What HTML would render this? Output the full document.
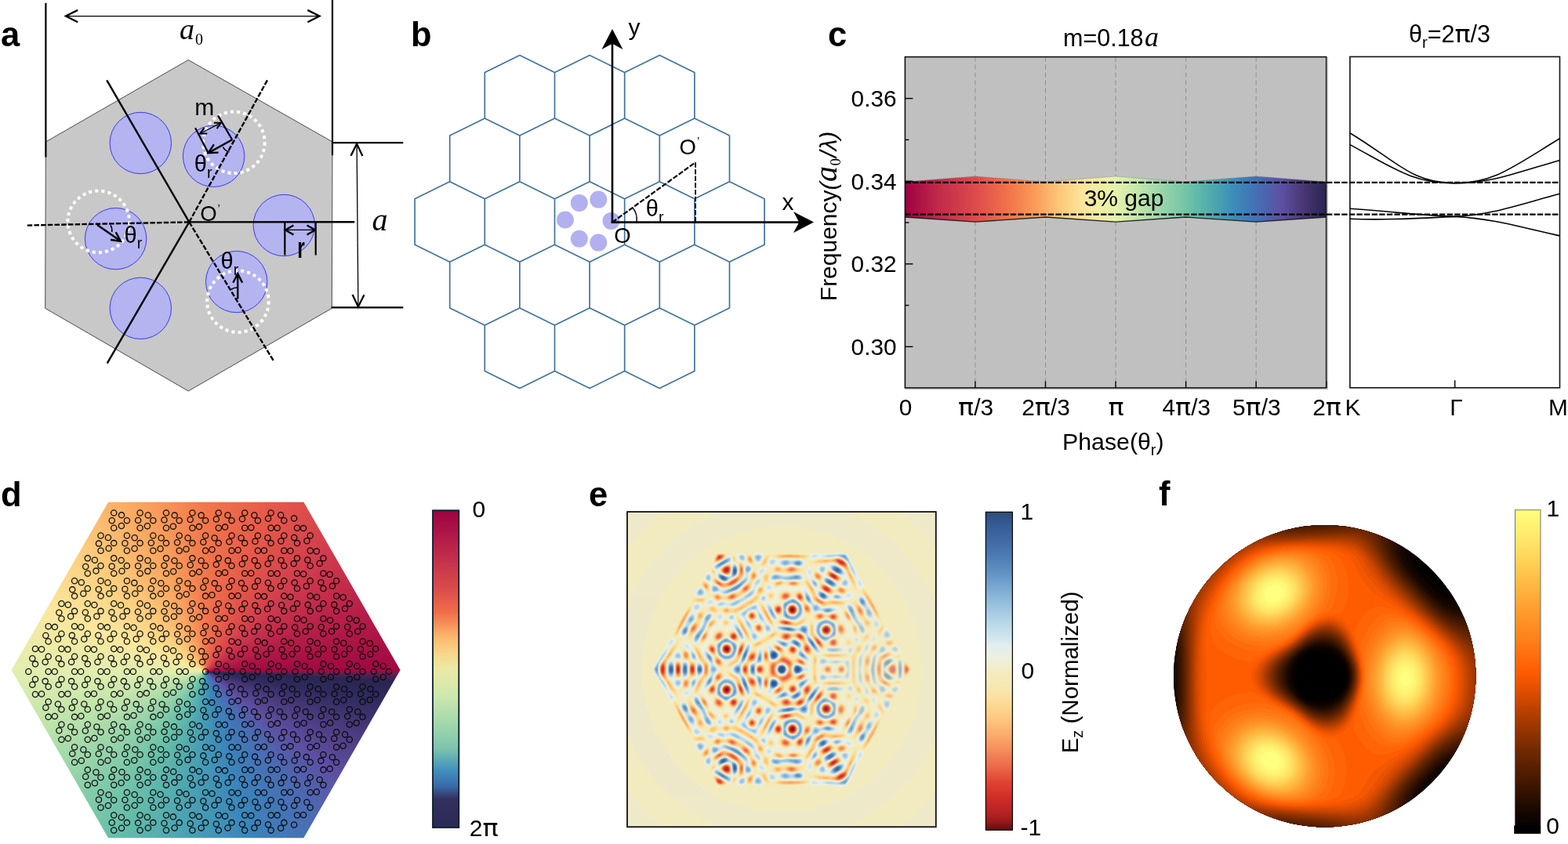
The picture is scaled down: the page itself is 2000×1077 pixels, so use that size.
<!DOCTYPE html>
<html lang="en"><head><meta charset="utf-8"><title>Figure</title>
<style>
html,body{margin:0;padding:0;background:#fff}
#fig{position:relative;width:2000px;height:1077px;overflow:hidden;background:#fff;font-family:"Liberation Sans", Arial, sans-serif}
#fig svg{position:absolute;left:0;top:0}
svg text{font-family:"Liberation Sans", Arial, sans-serif;fill:#000}

</style></head><body>
<div id="fig">
<div style="position:absolute;left:10px;top:636px;width:506px;height:438px;background:conic-gradient(from 90deg at 252.1px 221px, #7a1a4c 0deg, #2a2652 2.88deg, #2e2a5c 9deg, #4a3a7c 21.6deg, #5e4fa2 37.8deg, #4a6cb4 54deg, #3a86bb 75.6deg, #4aa2b3 97.2deg, #66bea9 118.8deg, #92d2a9 140.4deg, #bfe4ab 162deg, #e2eeb0 180deg, #fbe79d 201.6deg, #fdcc7c 225deg, #fba55f 248.4deg, #f2764b 270deg, #e6594a 291.6deg, #d13c4d 315deg, #b81f48 338.4deg, #a00843 360deg, #7a1a4c 360deg);clip-path:polygon(128.1px 4.7px, 377.4px 4.7px, 500.6px 219px, 377.4px 433.3px, 128.1px 433.3px, 4.6px 219px)"></div>

<svg width="2000" height="1077" viewBox="0 0 2000 1077">
<defs><linearGradient id="gband" x1="0" y1="0" x2="1" y2="0"><stop offset="0" stop-color="#9e0142"/><stop offset="0.08" stop-color="#c12a49"/><stop offset="0.165" stop-color="#dc4a4b"/><stop offset="0.24" stop-color="#f0704a"/><stop offset="0.3" stop-color="#f99555"/><stop offset="0.365" stop-color="#fdc678"/><stop offset="0.42" stop-color="#fde59a"/><stop offset="0.5" stop-color="#e4f3ac"/><stop offset="0.555" stop-color="#c0e6ab"/><stop offset="0.66" stop-color="#76c6a7"/><stop offset="0.715" stop-color="#55b0aa"/><stop offset="0.78" stop-color="#3b8dba"/><stop offset="0.83" stop-color="#4272b6"/><stop offset="0.895" stop-color="#5e4fa2"/><stop offset="0.95" stop-color="#46356f"/><stop offset="1" stop-color="#2a2350"/></linearGradient><linearGradient id="gcbd" x1="0" y1="0" x2="0" y2="1"><stop offset="0" stop-color="#9e0142"/><stop offset="0.15" stop-color="#c22e4c"/><stop offset="0.25" stop-color="#db4d4b"/><stop offset="0.32" stop-color="#ef6d4a"/><stop offset="0.4" stop-color="#fbb86c"/><stop offset="0.45" stop-color="#f8d68a"/><stop offset="0.5" stop-color="#ebe9a6"/><stop offset="0.58" stop-color="#cfe8ae"/><stop offset="0.68" stop-color="#9fd6ab"/><stop offset="0.75" stop-color="#7cc4ad"/><stop offset="0.82" stop-color="#3f90be"/><stop offset="0.87" stop-color="#3a6aa8"/><stop offset="0.91" stop-color="#33305f"/><stop offset="1" stop-color="#2b2a55"/></linearGradient><clipPath id="clipw"><path d="M-1.8,1 L190,1 L190,-30 L125,-164.54 L94.13,-165.04 Z" shape-rendering="crispEdges"/></clipPath><g id="ew" clip-path="url(#clipw)"><g opacity="0.999" fill-rule="evenodd"><path d="M99,-99l-1,-0.9 -1,-1.9 -2.3,-8.2 -6.8,-11 -3.6,-9 -2.4,-3 -2.9,-2.4 -5,-2.1 -4,-0.5 -9,1.3 -14,-0.2 -7,2 -3,0 -1.1,-1.1 0.2,-5 0.9,-1 1,-0.4 3,-0.5 3,0 6,0.9 8,-0.7 15,-0.8 6,0 3,0.6 2,1.9 2.6,4 7.8,15 3.6,7.8 3.4,4.2 2.3,4 0.7,2 -0.2,2 -4.2,2.8 -1,0.2zM25,-125.9l-4,0 -7,-1.8 -2,-0.1 -8,1.9 -3,-0.4 -4,-2.1 0,-6.5 8,-1 8,0.6 9,-0.3 4.1,0.6 2.4,1 0.9,1 0.3,3 -0.7,2 -1,0.9 -3,1.2zM69,-99.9l-2,0.5 -2,-0.6 -11.8,-7 -0.8,-1 -0.3,-2 1.3,-5 -0.4,-1 -4.2,-3 -3.1,-3 -1.1,-2 0,-1 1,-2 1.6,-1 2.8,-0.8 3,-0.2 5,0.5 4.7,-1.5 3.3,0 3,1 5,2.8 3.6,2.2 2.1,2 1.3,2.1 1.5,5.9 2.5,3.4 1.8,3.6 0.5,3 -0.6,2 -1.7,1.3 -2,0.1 -4,-1.1 -5,-2.2 -1,0.1 -4,3.9zM57,-84.9l-3,-0.1 -3,-1 -3,-1.9 -2,-2.2 -1,-1.9 -1.3,-6 -4.7,-5.4 -6.4,-10.6 -1.1,-7 0.5,-2.5 1.1,-1.5 0.9,-0.5 2,-0.1 2,0.9 1,1.1 0.6,2.6 -0.6,5 0.2,2 1.4,2 5.7,5 0.7,2 0.1,6 1,1 5.9,3.1 7,4.4 2,0 4,-2.6 2,-0.5 2,0.3 5,2 3,0.4 2,-0.9 4,-3 2,-0.8 2,0.4 1,0.6 1,1 0.7,1.6 -0.4,2 -1.3,1.5 -2,1.3 -5,1.9 -12,-0.1 -8,-1.4 -6,1.9zM74,-106l3.5,-5 0.3,-2 -1,-1 -7.6,-4 -9.2,-5.7 -1,-0.1 -1,0.4 -2.6,4.4 -0.7,2 0,1 17.3,10.3 1,0.3 1,-0.6zM26,-108.5l-11,-0.8 -9,0.8 -5,-1.1 -4,-0.1 0,-8.1 9,1.5 4,-0.2 9,-1.4 4,0.2 3.5,1.7 1.7,2 0.1,1 -0.4,2 -0.9,1.7 -1,0.8zM89,-18.9l-2,0.5 -6,-2.9 -11,1 -10,-0.2 -3,-0.6 -1.5,-0.9 -0.4,-1 0.9,-3.7 1,-1.9 1,0 4,1.3 4,0.3 5,-0.7 3,-1.3 1,-1 0.3,-1 -1,-7 0.7,-0.5 6,-1.1 1.7,-2.4 1.1,-4 0,-3 -0.3,-2 -1.3,-3 -1.4,-2 -1.8,-1.6 -3.8,-2.4 -0.4,-1 0,-6 -1.1,-2 -2.7,-1.6 -2,-0.2 -3,0.3 -8,2.1 -2,-0.2 -5,-1.9 -2,-0.3 -2,0.2 -5,1.5 -2,-0.2 -1,-1.3 -1.4,-5.4 -0.9,-2 -4.7,-4.2 -1.5,-1.8 -3.1,-10 -1.4,-2.4 -1,-0.9 -2,-1 -2,-0.1 -2,0.7 -4,2.6 -1,-0.1 -5,-2.6 -4,-0.4 -4,0.9 -4,2.5 0,-5.9 6,-1.9 9,1.8 7,0.1 3,-0.5 5,-1.9 1,0 2,1.5 5,7 3.7,8.6 1.3,2.4 1,1 5,2.5 4,2.8 2,0.8 2,0.1 8,-1.1 3,-0.1 7,0.6 3.1,1 0.9,1.8 0.6,4.2 0.6,2 1.5,3 4,6 4,4 0.7,1 0.6,1.8 1.3,7.2 1.2,3 1.5,1 1,0.2 5,-0.1 1,0.5 0.9,2.4 0.2,3 -1,2 -3.1,1.9 -3,1 -1,-0.3 -2.1,-6.6 -0.9,-1.5 -0.8,-0.5 -2.2,-0.6 -3,0.3 -1,0.4 -1,1.2 -1.4,3.7 -0.3,3 0.5,2 0.8,1 1.4,0.9 1,0 7,-2 1.1,0.1 0.6,1 0.1,3 -0.5,3 -1.2,2 -1.1,1.1zM120,-48.7l-1,0.5 -1,-0.1 -1,-1.3 -1,-2.6 -0.5,-5.8 -0.7,-2 -4.8,-3.1 -2.1,-1.9 -1.1,-2 -1.5,-6 -1,-2 -5.6,-6 -1.9,-3 -0.7,-3 0.2,-2 0.7,-1.1 2,-1.4 2,-0.4 1,0.3 3,2.7 2,2.9 3.6,7 4.4,6.5 4,9 1.4,1.5 2.7,2 1.9,2.2 0.5,1.8 -0.5,2.3 -2,2.7 -3,2.3zM19,-59.8l-3,0.3 -4,-0.5 -7.3,-2 -5.3,-2 -0.1,-1 1.1,-3 0.6,-4 -0.2,-4 -1,-5 0.3,-1 13.9,-6.6 1,0 1,0.5 8.1,6.1 1.8,2 0.6,2 1.6,10 -0.1,2 -0.8,1 -2.5,2 -3.1,2 -2.6,1.2zM105,-42.9l-3,0.8 -1,-0.2 -1.1,-0.7 -0.9,-1.7 -2.4,-7.3 -1.1,-2 -4.5,-5.3 -3.5,-7.7 -6.2,-9 -0.3,-1 0.1,-1 1.4,-2 1.5,-1.2 1,-0.3 2,0.5 2,1.1 2.1,1.9 1.9,3.4 2.5,6.6 1.9,4 1.6,2.5 4,4.4 3.9,6.1 0.8,2 0.2,2 -0.9,2 -2,2.1zM17,-67l2,-1.6 1.4,-2.4 0.3,-3 -1,-3 -1.7,-2 -3,-1.5 -3,0 -2,0.7 -2.1,1.8 -1.5,3 -0.1,3 0.9,2 1.6,2 2.2,1.4 3,0.4 3,-0.8zM56,-31.4l-2,-1.3 -4,-3.7 -6.1,-6.6 -1.5,-3 -0.4,-4 0.7,-6 0.3,-1 1.1,-1 9.9,-3.8 3,-0.6 2,0.6 9.1,3.8 1.3,1 0.4,1 0.3,7 0.9,7 -0.1,1 -0.9,0.8 -5,1.7 -4,2.3 -2.7,2.2 -2.3,2.6zM49,-18.7l-1,0.3 -2,-0.2 -3,-1.5 -2,-1.7 -3.7,-6.2 -4.7,-6 -1,-2 -1.1,-4 -1.2,-2 -1.3,-1.2 -4,-2.4 -3,-0.9 -7,1.3 -8,-1.1 -7,-0.1 -2,-0.3 0,-7.9 22,3 2,-0.6 4,-2.5 3,-1.3 3,-0.6 1.8,0.6 1.2,2 0.7,3 0,7 0.7,2 4.6,5.7 7,9.6 4.4,4.7 0.2,1 -0.6,1 -2,1.3zM60.4,-42l2.2,-2 1.1,-2 0.4,-3 -1,-3 -2.1,-2.3 -2,-1 -3,-0.3 -3,1 -2,1.8 -1.4,2.8 0,3 0.8,2 1.6,2 3,1.6 3,0.2 2.4,-0.8zM135,-36.9l-4,0.4 -2,-0.3 -1.6,-1.2 -0.4,-1 0.2,-2 0.7,-2 2,-4 2.1,-2.4 2,-1.1 2,0.9 2.3,2.6 2.1,4 0.5,2 -0.3,2 -0.6,0.4 -0.9,0.6 -4.1,1.1zM103,3l-7.4,0 0.2,-12 0.9,-6 1.4,-3 3.3,-3 1.5,-2 1.6,-6 1,-2 2.5,-2 3,-1 1,-0.7 1.3,-2.3 2.1,-7 1.6,-1.9 1,-0.4 1,1.1 2.6,6.2 0.5,2 -0.2,1 -0.5,1 -1.2,1 -5.2,2 -1.5,1 -1.1,2 -1.1,5 -0.9,2 -1.4,1.7 -2.7,2.3 -1.2,2 -0.8,2 -0.7,4 -0.6,13zM36,3l-16,0.3 -5.7,-0.3 -0.5,-2 0.2,-3 1.1,-3 0.9,-1.2 1,-0.7 2,0 2,0.6 6,2.8 2,0.5 2,-0.5 3,-1.5 0.8,-1 -1.4,-2 -2.2,-2 -4.2,-2.6 -6.7,-3.4 -0.9,-1 0.1,-2 1.4,-5 -0.1,-1 -1.5,-2 -4.3,-2.7 -2,-0.8 -2,0 -1,0.6 -4,4.2 -1,0.4 -1,-0.2 -7,-4.4 0,-7.4 5,1.9 3,0.8 3,0.3 1,-0.3 4,-3 1,-0.4 2,-0.1 4,1.8 4.9,3.3 1.1,2 0.1,2 -0.6,4 0.9,2 4.6,4.8 2,1.6 4,2.5 0.6,1.1 0.2,2 -0.5,3 -1.9,3 0.9,4 -0.3,4zM119,3.1l-6.8,-0.1 -0.5,-3 0.2,-2 1.7,-6 1.5,-9 1.9,-2.7 4,-1.9 1,-1.1 3,-6.5 2,-1.5 2,0.1 7,4.3 1,0 7,-3.5 2,-0.2 2,1.1 1.5,1.9 1.3,3 0,3 -0.3,1 -0.5,0.3 -4,0.5 -2,-0.1 -2,-1.1 -4,-3.1 -2,-0.3 -5.9,3.8 -5.1,2.4 -1.9,1.6 -1.2,2 -0.7,2 -1.5,8 -0.1,7 -0.6,0.1zM-3,-16l0,-3.2 0.5,1.2 -0.5,2zM87,3l-5.5,0 0.7,-3 -0.7,-3 -2.5,-3.1 -2,-0.6 -5,0.9 -1.8,0.8 -0.9,1 0.3,4 -0.3,3 -3.7,0 -0.3,-3 0.3,-4 -0.8,-1 -3.8,-1.6 -2,-0.1 -4,1.2 -4.5,2.5 -0.6,1 -0.5,2 0.5,2 0.6,1 -3.7,0 -0.5,-12 0.7,-4.6 1,-0.9 2,-0.4 3,0.2 8,1.9 9,-0.2 8,0.4 5,-1.4 2,-0.1 1,0.3 1,1.4 0.5,3.4 0.1,12 -0.6,0zM154,3l-6.6,0 -0.2,-8 -1.2,-3.5 -1,-0.7 -2,0.4 -3,1.5 -5.3,4.3 -1.2,2 -0.1,1 0.1,1 1.2,2 -6.4,0 0.3,-3 -0.5,-5 0.9,-3.9 1,-1.5 2,-1.8 4,-2 3,-0.8 2,0.1 4,2.6 1,0.2 5,-1.3 2,-0.1 1,0.4 0.9,1.1 0.1,1 -0.7,8 0,6 -0.3,0zM6,3l-6,0.3 -3.2,-0.3 0.2,-9.2 2,-0.6 2,0.1 2,0.6 2,1.5 1.2,1.6 0.6,2 0,2 -0.8,2z" fill="#eef0de"/><path d="M100,-100.7l-1,0 -1,-0.9 -1,-2.4 -1.4,-6 -6.6,-9.7 -2,-4 -2.4,-6.3 -2.4,-3 -3.2,-2.6 -4,-1.9 -5,-0.8 -10,1.4 -4.5,-0.1 -7.5,-0.8 -6.4,1.8 -2.6,0.3 -1.1,-0.3 -0.6,-1 -0.2,-3 0.9,-1.2 3,-0.8 3,0.1 5,1.1 11,-1.3 13,-0.7 6,0.1 3,0.6 2.6,3.1 1.8,3 7.2,14 3.8,9 3.6,4.1 1.7,2.9 0.6,2 -0.1,1 -0.7,1 -2.5,1.3zM26,-126.8l-2,0.5 -3,0.1 -9,-2 -7,1.7 -3,0.1 -2,-0.8 -3,-1.8 0,-5.1 2.8,-0.9 5.2,-0.5 8,0.7 8,-0.5 4,0.5 2,0.8 1,0.9 0.8,2.1 -0.4,2 -0.7,1 -1.7,1.2zM84,-101.6l-2,0.3 -3,-0.8 -3.6,-1.9 -0.6,-1 0.8,-2 4.1,-6 -0.9,-1 -5.8,-2.2 -5,-2.7 -4.8,-3.1 -4.2,-3.6 -1,0.1 -4,7.9 -1,0.4 -1,-0.3 -3.8,-2.5 -1.7,-2 -0.6,-2 0.6,-2 0.9,-1 1.6,-0.9 3,-0.5 3,0.5 3,1.6 1.8,-1.7 1.6,-1 3.6,-0.7 4,1 6.6,3.7 2.7,2 1.6,2 0.8,2 0.3,2 -0.7,3 3.7,3.1 1.8,2.9 0.5,2 -0.1,2 -1.2,1.8 -1,0.6zM76,-86l-4,0.3 -3,-0.2 -6,-2 -1,0.1 -2.8,1.8 -1.2,0.4 -3,0.5 -3.5,-0.9 -3.3,-2 -1.8,-2 -1,-2 -0.5,-2 0,-4 -4.9,-4.6 -1.7,-2.4 -1.5,-3 -4.1,-11 -0.1,-2 0.6,-2 0.8,-0.7 2,-0.3 1,0.4 1.4,1.6 0.4,2 -0.6,6 1.6,2 5.1,4 1.4,2 0.3,3 -0.7,4 0.6,1 8.5,3.9 7,5 1,-0.2 3,-2.7 3,-1.1 2,0.2 6,2.4 2,0.4 1,-0.1 4,-3.1 2,-0.9 2.2,0.2 1.4,1 0.5,1 -0.3,2 -0.9,1 -1.9,1.1 -11,1.9zM9,-109l-3,0.2 -5,-1.1 -4,0 0,-7.5 5,1.3 4,0.3 4,-0.3 8,-1.4 4,0.1 2,0.6 2,1.2 1.3,1.6 0.3,1 -0.6,2.4 -1,1.1 -1,0.4 -10,-0.4 -6,0.5zM67,-99.9l-2,-0.5 -2,-1 -9.2,-5.6 -0.9,-1 -0.3,-2 0.4,-2.1 1,-2 1,-0.5 1,0.2 3,1.4 8.8,5 3.9,3 0.2,1 -1.3,2 -1.6,1.5 -2,0.6zM-2,-97.8l-1,0.6 0,-1.8 5,-1.9 1.4,-0.1 1.7,1 -3.1,0.7 -4,1.5zM59,-68.8l-3,-0.1 -5,-1.9 -2,-0.4 -7,1.5 -1,-0.1 -1,-0.6 -1,-1.8 -1.8,-5.8 -1.2,-1.4 -4.4,-3.6 -1.3,-2 -2.8,-10 -1.7,-4 0.3,-1 1.9,-0.3 1,0.4 2,1.5 2,2.2 2.8,4.2 3.2,7.6 1,1.6 1,0.9 5,2.2 4,3 1,0.5 2,0.2 9,-1 4,0.2 3.9,0.8 2.1,0.9 1.2,1.1 0.3,1 -0.5,1.1 -5,0.6 -9,2.5zM15,-97l-1.1,0 -3.5,-2 1.6,-0.6 2,-0.1 3.2,0.7 -0.5,1 -1.7,1zM122,-50.9l-2,0.9 -1,-0.1 -1.2,-0.9 -0.8,-1.2 -0.5,-1.8 -0.5,-6.2 -0.7,-0.8 -4.3,-2 -2.5,-2 -1.5,-2.6 -1.3,-5.4 -0.9,-2 -6.4,-7 -1.1,-2 -0.5,-3 0.6,-2 1.6,-1.4 2,-0.5 1,0.2 3,2.5 2,2.9 3,6.3 5,7.1 1.8,3.9 1.2,5 0.7,1 3.3,1.8 2.2,2.2 0.7,2 0,1 -0.9,2 -2,2.1zM17,-59.9l-4,-0.2 -7.5,-1.9 -4.4,-2 -0.6,-1 0.7,-8 -0.6,-8 0.7,-1 1.6,-1 11.1,-5 2,0.4 8.7,6.6 1.5,3 1.1,7 0,3 -0.8,2 -0.7,1 -2.2,2 -2.6,1.8 -2,0.9 -2,0.4zM14.4,-66l2.6,-0.7 2.6,-2.3 1.2,-3 0,-3 -0.8,-2 -2,-2.3 -3,-1.4 -3,0 -3,1.3 -1.4,1.4 -1.5,3 0,3 1.4,3 1.5,1.5 2,1.1 3.4,0.4zM104,-43l-2,0.1 -1,-0.4 -1,-0.9 -4.1,-9.8 -4.9,-6 -3.3,-7 -5.1,-8 -0.8,-2 0.2,-1 0.5,-1 1.5,-1.3 1,-0.4 2,0.3 2,1.1 2,1.9 1.9,3.4 3,8 2,4 1.5,2 3.6,3.6 2.9,4.4 1.2,3 0.1,2 -1.2,2.6 -2,1.4zM80,-58.8l-2.3,-1.2 -1,-1 -0.2,-2 0.5,-1.4 1,0.5 2,2.9 0.9,2 -0.9,0.2zM56,-32.9l-1,0 -2,-1.2 -7.2,-6.9 -2.6,-4 -0.7,-4 0.7,-5 1.4,-3 1.1,-1 4.2,-2 5.1,-1.8 2,-0.2 2,0.5 8.3,3.5 1.4,1 0.8,2 1,12 -0.6,2 -6.9,3.2 -7,4.9zM49,-19.6l-1,0.5 -2,-0.1 -2,-0.9 -2.4,-1.9 -8.7,-12 -1,-2 -1.5,-5 -2.4,-2.5 -4,-2.3 -3,-1 -6,1.2 -2,0.1 -7,-1 -7,-0.4 -2,-0.5 0,-6.8 14,1.6 8,1.4 2,-0.5 3.5,-2.3 3.5,-1.5 2,-0.2 2,0.7 1.7,2 0.6,2 0.1,8 1.2,2 4.4,5 9.6,13 0.7,2 -1.3,1.4zM57.1,-41l2.9,-0.5 2,-1.5 1.9,-3 0.4,-3 -0.9,-3 -1.7,-2 -2.7,-1.5 -3,-0.3 -3,1 -2.1,1.8 -1.1,2 -0.5,3 0.9,3 1.5,2 2.3,1.5 3.1,0.5zM87,-42.9l-1,0 -0.3,-1.1 -0.1,-5 -1.2,-5 0.6,-0.2 1,1.2 1,3.8 0.3,4.2 -0.3,2.1zM132,-37l-2,-0.4 -1,-0.6 -1,-2 0.1,-2 1.1,-3 1.8,-2.6 2,-1.6 1,-0.2 2,1.1 2.6,3.3 1.2,3 0.1,2 -0.5,1 -1.6,1 -2.8,0.7 -3,0.3zM102,3l-5.8,0 0.1,-12 1,-6 1.5,-3 4.2,-4 0.9,-2 1.4,-5 0.7,-1.4 2,-1.8 4,-1 0.8,-0.8 2.8,-8 1.4,-1.6 1,-0.1 1,0.8 1.4,2.9 0.5,2 -0.2,2 -0.7,1 -1.4,1 -4.6,1.4 -1,0.7 -0.8,1.9 -1.2,5.4 -1,2.4 -3.7,3.2 -1.4,2 -1,3 -0.6,4 -0.7,9 0.1,4 -0.7,0zM96,-32l-1,0.2 -1.5,-0.2 -1.5,-1.9 -1,-4.1 0.4,-1 0.6,-0.5 2,-0.5 3,-0.1 1,0.5 1,1.4 0.4,2.2 -0.4,1.5 -1.1,1.5 -1.9,1zM35,-8.7l-2,-0.7 -10.1,-5.6 -2.7,-2 -0.3,-2 1.5,-5 -0.1,-1 -0.6,-1 -1.7,-1.5 -5,-2.9 -3,-0.5 -1,0.4 -4,4.1 -1,0.4 -2,-0.5 -6,-3.7 0,-6.6 7,2.2 4,0.6 2,-0.8 3,-2.4 1,-0.4 2,-0.2 3,1.2 4.3,2.6 1.2,1 1.1,2 0.1,2 -0.7,4 0.3,1 3.5,4 7.5,7 0.4,1 -0.2,2 -0.5,0.9 -1,0.4zM119,3.1l-6.5,-0.1 -0.2,-1 0,-4 1.5,-6 1.4,-8 0.8,-1.8 1,-1.3 1,-0.7 3,-1.1 1,-0.8 2.3,-5.3 1.7,-2.5 1,-0.5 2,0 3.4,2 2.3,2 0.5,1 -0.4,1 -2,2 -3.2,2 -5.6,2.6 -2,2.3 -1.1,3.1 -1.1,6 -0.4,4 0,5 -0.4,0.1zM147,-20l-3,0 -2,-1.1 -3.6,-2.9 -0.6,-1 0.4,-1 2.7,-2 3.1,-1.3 2,0.1 1,0.5 2.1,2.7 0.7,3 -0.6,2 -2.2,1zM87,-19l-2.2,-1 -2.8,-2.9 -1,-0.1 -4,1.5 -4,0.7 -8,0.3 -5.9,-0.5 -2.3,-1 -0.8,-1 0,-2 1,-2 1,-0.6 8,0.9 10,-1.7 2,0.6 3,2.3 1,0.4 4,-2.3 3,-0.6 1,0.3 1,1.6 0,3.1 -0.7,2 -0.8,1 -1.5,1 -1,0zM-3,-16.9l0,-1.3 0,1.3zM87,3l-5.2,0 0.7,-3 -0.7,-3 -1.2,-2 -1.6,-1.8 -2,-0.4 -4,0.7 -4.4,1.5 -0.5,1 0.9,1.8 0.2,1.2 -0.2,3.2 -0.4,0.8 -2.2,0 -0.7,-3 0.3,-2.4 0.9,-1.6 -0.4,-1 -4.5,-1.8 -3,-0.5 -7,2.4 -3,0.3 -1,-0.7 -1,-2.6 0.2,-4.1 0.8,-1.4 1,-0.6 2,-0.4 3.5,0.4 4.5,1.8 2,0.3 9,-0.6 8,0.8 5,-1.5 2,0.1 1.2,1.1 0.8,2.4 0.3,9.6 -0.3,3zM134,3l-5.4,0 0.2,-3 -0.4,-5 0.5,-3 2,-3 3.1,-2.1 4,-1.4 3,0.2 2.2,1.3 1.8,2 -0.6,1 -4.4,2.4 -5.6,4.6 -1.2,2 -0.1,1 0.1,1 1.2,2 -0.4,0zM154,3l-6.4,0 0,-7 -0.6,-3.3 -0.9,-2.7 0.2,-1 4.2,-2 2.5,0.1 1,0.9 0.3,1 -0.3,14zM5,3.1l-6,0.2 -2.2,-0.3 0.2,-9 2,-0.5 2,0 2,0.6 2,1.6 1.3,2.3 0.4,2 -0.8,3 -0.9,0.1zM33,3l-4,-0.6 -1.5,0.6 -4.5,0.2 -8.5,-0.2 -0.5,-2 0.2,-3 0.8,-2.2 1,-1.5 1,-0.7 1,-0.3 3,0.6 8,3.7 4,-0.8 1,0.4 0.6,0.8 0.4,2 -0.4,2 -0.6,0.8 -1,0.2z" fill="#e3eeed"/><path d="M95,-113.8l-1,-0.3 -1,-0.8 -3,-3.9 -2,-3.6 -2.4,-6.6 -1.2,-2 -2.9,-3 -3.5,-2.4 -3,-1.3 -4,-0.9 -2,0 -6,1.1 -4,0.1 -6,-0.6 -1.9,-1 1,-1 0.9,-0.2 7,-1.2 16,-0.9 3,0.1 3,0.8 3.2,4.4 7.1,14 2.7,7 0,2.2zM41,-136.9l-1.4,-0.1 -1.1,-1 -0.3,-1 0.3,-1 0.5,-0.4 1.3,-0.6 1.7,-0.2 2,0.3 2.1,0.9 0.1,1 -1.7,1 -3.5,1.1zM24,-126.8l-4,0.1 -8,-2.1 -7,1.9 -3,-0.1 -2.4,-1 -2.3,-2 -0.3,-2.3 0.4,-0.7 1.6,-1 4,-1 4.8,0 5.2,0.9 6,-0.8 4,0.2 2.5,0.7 1.4,1 0.9,2 0,1 -0.8,1.5 -1,0.9 -2,0.8zM79,-115.8l-2,0.4 -3,-0.7 -7.5,-3.9 -2.8,-2 -2,-2 -1,-2 0.2,-1 0.8,-1 1.3,-0.7 3,-0.4 4,1.3 5,2.8 2.6,2 2.1,3 0.3,2.5 -1,1.7zM54,-119l-1,0.7 -2,-0.4 -2,-1.3 -1.6,-2 -0.4,-2 0.3,-1 1.7,-1.8 2,-0.7 2,0 1.5,0.5 1.2,1 0.5,1 -0.1,2 -2.1,4zM37,-116.5l-1,0.3 -1,-0.8 -1,-1.9 -0.1,-2.1 1.1,-1.3 1,0 1,0.6 0.5,0.7 0.4,2 -0.9,2.5zM25,-110l-2,0.4 -9,-0.2 -7,0.5 -7,-1.1 -3,0.1 0,-6.6 4,1.4 4,0.3 5,-0.4 8,-1.4 4,0.1 2.4,0.9 2.1,2 0.2,2 -0.7,1.4 -1,0.6zM68,-100.6l-2,0.1 -2,-0.7 -6.8,-3.8 -2.8,-2 -0.8,-1 -0.5,-2 0.9,-2.7 1,-0.9 1,-0.1 2,0.6 6.1,3.1 5.8,4 0.8,1 0.2,1 -0.3,1 -1.6,1.8 -1,0.6zM45,-100.5l-1,0.3 -2,-1 -2,-2 -1.3,-1.8 -0.9,-2 -0.8,-3 0.2,-1 0.8,-0.6 2,0.6 2,1.2 3.1,2.8 0.6,1 0.4,2 -0.2,2 -0.9,1.5zM84,-102.8l-2,0.7 -2,-0.2 -2,-0.7 -1.4,-1 -0.6,-1 -0.1,-1 1.1,-2.2 2,-2.3 1,-0.6 1,-0.2 2,0.8 1.9,2.5 0.4,3 -1.3,2.2zM101,-102.5l-1,0.2 -1,-0.3 -1,-1.5 -0.7,-3.9 0,-1 0.7,-1 2,1.4 1.7,2.6 0.5,2 -0.5,1 -0.7,0.5zM62,-69.9l-3,0.7 -2,0.1 -3,-0.9 -3,-1.4 -2,-0.4 -6,1.3 -1,0 -1.4,-0.5 -1.2,-2 -1.1,-4 -1,-2 -5.1,-4 -1.5,-2 -1,-3 -1,-5 -0.2,-2 0.5,-1.5 1,-0.2 1,0.4 3,2.8 2,3.3 3,7 1,1.5 6,2.5 4,3.4 2,0.5 8,-1 3,0 4,0.9 1.9,1.4 0.1,1 -1.2,1 -5.8,2.1zM57,-85.7l-2,0.2 -2.7,-0.5 -2.3,-1 -2,-1.6 -1.2,-1.4 -1,-2 -0.3,-2 0.5,-2.2 1,-0.5 1,0 3,0.8 3.8,1.9 4,3 1.6,2 0,1 -0.7,1 -2.7,1.3zM86,-88.9l-2.9,-0.1 -0.7,-1 0.4,-1 1.2,-1.2 2,-0.8 1,0.1 1.2,0.9 0.2,1 -0.5,1 -1.9,1.1zM76,-86.8l-3,0.7 -4,-0.2 -3,-1.1 -1,-0.6 -0.5,-1 0.3,-1 0.8,-1 1.4,-1 2,-0.6 2,0.2 3.6,1.4 3,2 0.2,1 -1.8,1.2zM115,-62.7l-2,-0.2 -2,-0.8 -1.8,-1.3 -1.2,-1.6 -2.6,-8.4 -5.4,-5.4 -2.1,-3.6 -0.3,-3 0.4,-1.2 1,-1.1 2,-0.6 2,0.6 2,1.8 1.7,2.5 2.5,6 4.8,6.2 1.9,3.8 0.7,4 -0.6,1.7 -1,0.6zM19,-60.9l-4,0.7 -6,-1.1 -6,-2.3 -1.5,-1.4 -0.3,-1 0.3,-7 -0.5,-6 0.3,-2 0.9,-1 1.6,-1 8.2,-3.9 2,-0.6 1,0.1 2,0.9 6.1,4.5 1.9,2 1.1,3 0.7,6 -0.3,3 -1,2 -1.8,2 -2.5,2 -2.2,1.1zM15.8,-66l1.2,-0.4 2,-1.5 1.5,-2.1 0.7,-3 -0.5,-3 -1.7,-2.8 -2,-1.4 -3,-0.9 -3,0.3 -2,1.1 -2.4,2.7 -0.9,3 0.4,3 1.9,2.9 2,1.5 3,0.9 2.8,-0.3zM104,-43.6l-2,-0.1 -2,-1.7 -3.7,-8.6 -5.3,-6.9 -2.4,-5.1 -5.7,-10 -0.1,-2 1.2,-1.4 1,-0.4 2,0.1 2,1 1.7,1.7 1.7,3 2.9,8 2.5,5 1.4,2 3.8,3.5 2.4,3.5 1.2,3 0,2 -0.8,2 -1.8,1.4zM56,-33.8l-1,0 -2,-0.8 -3,-2.4 -3,-3 -2.3,-3 -1,-2 -0.6,-4 0.6,-4 0.7,-2 1.3,-2 2.3,-1.7 2.8,-1.3 4.2,-1.5 2,-0.1 2,0.4 5.2,2.2 3.8,2.1 0.6,0.9 0.6,2 0.8,10 -0.4,2 -0.7,1 -5.9,2.9 -5,3.4 -2,0.9zM122,-51.9l-2,0.6 -1,-0.4 -1,-0.9 -0.6,-1.4 -0.3,-2 0.3,-2 0.6,-1.4 1,-0.6 1,0 2,0.8 1.9,2.2 0.2,2 -0.3,1 -1.8,2.1zM59.1,-41l2.9,-1.6 1.8,-2.4 0.8,-3 -0.5,-3 -2.1,-3 -2,-1.4 -3,-0.7 -3,0.5 -2.5,1.6 -2,3 -0.4,2 0.3,3 1.6,2.6 2,1.6 3,1 3.1,-0.2zM47,-19.9l-3,-1 -3,-2.7 -7.7,-10.4 -1.3,-2.8 -1.1,-4.2 -1.7,-2 -6.2,-3.7 -2,-0.6 -5.7,1.3 -2.3,0.1 -15,-1.9 -1,-0.3 0,-5.5 13,1.1 10,1.9 2,-0.9 3,-2.3 2,-0.8 3,-0.2 1.7,0.8 1.3,1.3 1,2.7 0.1,2 -0.5,4 0.6,2 5.8,6.4 8.6,12.6 0.3,2 -0.9,0.8 -1,0.3zM136,-38l-3,0.4 -2,-0.3 -1.4,-1.1 -0.6,-1 -0.2,-2 1,-3 1.2,-1.7 2,-1.6 1,0 2,1.1 1.7,2.2 1,2 0.2,3 -0.7,1 -2.2,1zM118,-34.8l-2,0.6 -1,-0.4 -0.3,-1.4 0.3,-2 1,-2.5 1,-1.1 1,-0.1 1,0.9 0.8,2.8 -0.4,2 -1.4,1.2zM97,-33.7l-2,0.5 -1.5,-0.8 -0.9,-2 -0.1,-1 0.5,-1.1 1.5,-0.9 1.5,-0.1 1,0.3 0.9,0.8 0.4,2 -0.3,1.1 -1,1.2zM34,-10.7l-2,-0.2 -3,-1.3 -5.4,-2.8 -2.6,-2 -0.6,-2 0.6,-2.3 1.2,-2.7 0,-1 -0.8,-1 -2.6,-2 -4.8,-2.7 -3,-1 -1,0.2 -2,2.6 -2,1.8 -1,0.4 -2,-0.3 -6,-3.6 0,-5.6 12,3 1,-0.6 1.9,-2.2 1.1,-0.8 1,-0.4 2,-0.1 3,1 3.8,2.3 1.9,2 0.6,2 -0.2,2 -0.9,3 0.3,1 9.6,10 0.8,2 -0.4,1 -0.5,0.3zM102,3l-5.1,0 0,-11 0.5,-5 0.6,-2.2 1,-1.9 5,-4.3 1.7,-6.6 1,-2 1.3,-1.3 2,-0.4 1,0.5 0.3,1.2 -0.3,3.1 -0.8,2.9 -1.2,1.8 -4,2.6 -1.3,3.6 -1.8,15 0.1,4zM119,3l-6.1,0 -0.4,-3 0.2,-2 2.7,-13 0.8,-2 1.7,-2 4.1,-1.3 1,-1.7 1.8,-5 1.2,-1.6 1,-0.6 2,-0.2 2,1 1.7,1.4 1.1,2 -0.1,1 -1.6,2 -1.4,1 -6.7,2.8 -1,0.6 -1,1.4 -1.3,3.2 -1.1,6 -0.6,10zM147,-20.9l-3,0.1 -2,-1 -2.4,-2.2 -0.4,-1 0.3,-1 2.5,-2 2,-0.7 1,0 1.6,0.7 1.7,2 0.6,2 -0.4,2 -1.5,1.1zM70,-21l-7,0.1 -4,-0.7 -2,-1.4 -0.3,-1 0.1,-1 1.2,-1.6 1,-0.3 7,0.5 8,-0.8 3,0.7 1.6,1.5 0.1,1 -0.7,1 -1,0.6 -3,0.9 -4,0.5zM88,-19.8l-1.9,-0.2 -1.3,-1 -0.6,-1 -0.4,-2 1.2,-2 1.8,-1 1.2,-0.2 1,0.2 1,0.9 0.5,2.1 -0.4,2 -0.6,1 -1.5,1.2zM134,3l-5.1,0 0.4,-3 -0.6,-5 0.5,-3 1.8,-2.7 3,-2.1 4,-1.3 3,0.4 2.2,1.7 0.3,1 -0.6,1 -6.7,5 -3,3 -0.7,2 0.2,1 1.3,2zM86,3l-3.7,0 0.6,-3 -0.6,-3 -2.3,-3.8 -1,-1 -1,-0.4 -10,2.2 -3,-0.5 -5,-2 -1,0 -5,2.3 -3,0.4 -2,-0.8 -1,-1.4 -0.3,-2 0.3,-1.4 1.2,-1.6 2.8,-0.8 3.7,0.8 3.3,2.3 1,0.3 5,-1.1 4,-0.4 5,0.5 4,1.1 1,-0.1 3,-1.6 2,-0.2 1,0.4 0.7,0.8 0.9,3 0.3,9 -0.2,2 -0.7,0zM153,3.1l-5.1,-0.1 0,-6 -0.6,-7 0.5,-1 1.2,-0.9 2,-0.7 2,0.6 0.8,2 0.1,13 -0.9,0.1zM5,3.1l-5,0.2 -3.2,-0.3 0.2,-8.7 2,-0.6 2,0.1 2,0.6 1.9,1.6 1.2,2 0.3,2 -0.4,2.1 -0.4,0.9 -0.6,0.1zM26,3l-11.2,0 -0.5,-2 0,-2 0.7,-2.4 1,-1.7 1,-0.9 1,-0.3 2,0.2 3,1.1 6,3.4 3,-0.2 1.2,0.8 0.2,1 -0.4,1.3 -1,0.5 -3,-0.2 -2.4,1.4 -0.6,0zM68,2.2l-1,0 -0.6,-1.2 0,-2 0.6,-1.2 1,0 0.6,1.2 0,2 -0.6,1.2z" fill="#d0e5ed"/><path d="M93,-117l-2,-1.6 -2,-3.1 -3.3,-8.3 -2.6,-3 -4.1,-3.2 -5,-2.2 -4,-0.9 -9,1.4 -3,-0.1 -3.1,-1 1.1,-1 5,-0.8 7,0 9,-0.9 3,0.2 1.5,0.5 1.5,1.6 1.6,2.4 3,7 3.5,6 2,5 -0.1,2zM42,-138.8l-1.4,-0.2 0.4,-0.5 1,-0.2 0.6,0.7 -0.6,0.2zM25,-127.8l-2,0.7 -3,0 -8,-2.6 -6,2 -3,0.2 -1.8,-0.5 -1.6,-1 -0.9,-1 -0.4,-1 0.2,-1 0.8,-1 1.8,-1 1.9,-0.4 4,-0.1 6,1.6 5,-1.3 4,-0.1 3,0.9 1.5,1.4 0.3,2 -0.4,1 -1.4,1.2zM78,-116.7l-2,0.5 -2,-0.4 -3,-1.2 -4,-2.2 -2.7,-2 -1.7,-2 -0.6,-2 0.4,-1 1.6,-1.2 3,-0.1 3,0.9 4.3,2.4 2.6,2 1.5,2 0.6,2.7 -1,1.6zM53,-119.4l-1,0.2 -1.9,-0.8 -1.7,-2 -0.2,-2 0.5,-1 1.3,-1.1 1,-0.4 2,0.1 1.8,1.4 0.4,1 -0.3,2 -0.9,1.7 -1,0.9zM12,-110l-5,0.2 -6,-1 -4,0 0,-5.3 4,1.5 3,0.2 5,-0.4 8,-1.6 4,-0.1 2,0.5 1.7,1 1.2,2 -0.1,1 -0.8,1 -2,0.7 -11,0.3zM68,-101.4l-2,0.3 -2,-0.5 -7.7,-4.4 -2,-2 -0.4,-1 0.1,-2 0.5,-1 1.5,-0.9 3,0.6 4.5,2.3 4.5,3 1.7,2 0.2,1 -0.2,1 -1.7,1.6zM44,-101.4l-2,-0.6 -2.7,-3 -1.1,-3 0,-1 0.8,-1 1,0 2,0.9 2,1.6 1,1.5 0.4,1 0,2 -0.4,0.9 -1,0.7zM82,-103l-2,0 -1,-0.3 -1.2,-0.7 -0.8,-1 -0.1,-1 0.9,-2 1.2,-1.3 1,-0.5 2,0.1 1,0.7 1.1,2 -0.1,2.1 -1,1.4 -1,0.5zM100,-104.7l-0.8,-1.3 0.8,-0.5 0.4,1.5 -0.4,0.3zM56,-86l-2,0 -2,-0.5 -2,-0.9 -1.9,-1.6 -1.4,-2 -0.6,-2 0,-1 0.9,-1.6 2,-0.3 3,0.8 3.8,2.1 2.3,2 1.2,2 -0.1,1 -0.8,1 -2.4,1zM61,-70l-3,0.5 -2,-0.3 -3,-1.2 -3,-2.2 -6,1.8 -2,0 -1,-0.5 -1.3,-2.1 -1,-5 -0.7,-1 -3,-1.4 -2,-1.5 -2,-2.5 -0.9,-2.6 -0.6,-3 -0.1,-2 0.6,-1.5 1,-0.1 1,0.4 2,1.9 1,1.4 2.3,4.9 1.7,5.5 6.2,1.5 1.8,1.3 3,3.6 6,-1.3 5,-0.4 3,0.4 2.6,1.4 0.2,1 -0.8,1 -5,2zM74,-86.9l-3,0.3 -3,-0.5 -1.6,-0.9 -0.6,-1 0.1,-1 1.1,-1.2 2,-0.8 3,0.4 2.9,1.6 0.8,1 0,1 -1.7,1.1zM114,-64l-1,0.1 -2,-0.6 -2,-1.7 -1.4,-2.8 -1.2,-6 -0.7,-1 -4.7,-3.8 -1.7,-2.2 -0.9,-2 -0.2,-2 0.8,-2 1,-0.7 2,-0.2 1,0.5 2,1.8 2.1,3.6 1.9,5.9 3,2.7 2,2.6 1.2,2.8 0.4,2 -0.4,2 -1.2,1zM17,-60.9l-5,0 -6,-1.7 -3,-1.8 -1,-1.4 -0.3,-1.2 0.1,-6 -0.3,-6 0.6,-2 2.6,-2 6.3,-3 3,-0.9 1,0.1 2,0.8 6.6,5 1.4,2 1.2,5 0.1,4 -0.6,2 -1.1,2 -3.6,3.4 -4,1.7zM16.8,-66l2.8,-2 1.6,-3 0.3,-3 -0.8,-3 -1.7,-2.2 -3,-1.8 -3,-0.4 -3,0.7 -2.3,1.7 -1.9,3 -0.5,3 0.5,2 1.9,3 2.3,1.8 3,0.8 2,0 1.8,-0.6zM104,-44.4l-1,0.1 -1,-0.3 -1.5,-1.4 -4.2,-9 -5.3,-6.9 -7,-13.1 -0.4,-2 0.3,-1 1.1,-0.9 1,-0.2 2,0.5 2.7,2.6 1.6,3 2.7,8 2.4,5 1.6,2.1 4,3.3 1.8,2.6 1.1,3 0,2 -0.9,1.9 -1,0.7zM57,-34.9l-2,0.3 -1,-0.2 -2,-1.1 -3,-2.5 -3.8,-4.6 -0.9,-2 -0.6,-3 0.7,-5 0.8,-2 1.5,-2 2.9,-2 3.4,-1.4 3,-0.8 3,0.5 4.3,1.7 2.7,1.3 2,1.7 0.9,3 0.6,7 -0.2,3 -1.3,2 -5,2.5 -6,3.6zM121,-52.8l-1,0 -1,-0.7 -0.7,-1.5 0.1,-2 0.6,-1 1,-0.5 1,0.1 1,0.5 1.1,1.9 -0.5,2 -1.6,1.2zM60.3,-41l2.5,-2 1.7,-3 0.4,-3 -0.9,-3 -2,-2.5 -3,-1.6 -3,-0.3 -3,0.9 -2,1.5 -1.9,3 -0.4,3 0.8,3 1.5,2.1 3,1.9 3,0.6 3.3,-0.6zM47,-21.3l-1,0.2 -2,-0.8 -2,-1.5 -2,-2.3 -6.8,-9.3 -1.1,-3 -0.6,-4 -1.3,-1 -9.2,-5.2 -1,0.1 -4,1.5 -3,0.4 -13.5,-1.8 -2.5,-1 0,-3.9 5,0 9,0.8 4.5,1.1 4.5,1.5 1,-0.2 3,-2.7 2,-1.2 3,-0.5 2,0.7 1.5,1.4 0.8,2 0.1,3 -0.9,4 0.5,1 6,5.7 5.3,7.3 2.9,5 0.4,2 -0.6,0.7zM136,-38.7l-2,0.4 -2,-0.3 -1,-0.5 -1,-1.4 -0.3,-1.5 0.5,-2 1.2,-2 1.6,-1.2 1,-0.1 2,1.1 1.9,3.2 0.3,2 -0.3,1 -1.9,1.3zM117,-36.5l-0.4,-0.5 0.4,-1.7 1,0.2 0,1.4 -1,0.6zM96,-35.4l-1,-0.1 -0.4,-0.5 0.4,-1.2 1.3,0.2 0.1,1 -0.4,0.6zM24,-26.9l-1,0.7 -1,-0.1 -9.8,-5.7 -1,-1 0,-1 0.5,-1 2.3,-1.7 2,-0.2 3,1 3,1.8 1.3,1.1 1.3,2 0.2,2 -0.8,2.1zM6,-27.8l-1,0.4 -2,-0.2 -5.9,-3.4 -0.1,-4.5 6.8,1.5 3,1 1.6,1 0,1 -0.4,1 -2,2.2zM108,-22.9l-1.3,-0.1 -0.6,-1 0.1,-2 1,-3 0.8,-0.9 1,-0.5 1,0.4 0.3,1 0,2 -1,3 -1.3,1.1zM127,-19.9l-2,0.2 -1,-0.3 -0.2,-1 0.5,-3 0.7,-2.2 1,-1.5 1,-0.7 2,-0.2 2.7,1.6 1.1,2 -0.1,1 -1.7,2.2 -4,1.9zM146,-21.6l-2,0 -1,-0.4 -2.2,-2 -0.4,-1 0.3,-1 1,-1 1.3,-0.7 2,-0.3 2,1.3 0.9,1.7 0.1,1.5 -1,1.4 -1,0.5zM73,-21.9l-6,0.6 -6,-0.4 -2.8,-1.3 -0.5,-1 0.1,-1 1.1,-1 1.1,-0.2 12,-0.3 3,0.5 1.5,1 0.1,1 -0.8,1 -2.8,1.1zM88,-20.7l-1,0.1 -1,-0.6 -1,-1.8 0.5,-2 1.5,-1.1 1,-0.1 1,0.6 0.6,1.6 -0.3,2 -1.3,1.3zM32,-12l-2,-0.3 -3.8,-1.7 -3.3,-2 -1.1,-1 -0.6,-1 0,-2 0.8,-2 1,-1.1 1,0 1,0.5 6.6,6.6 1.3,2 0.2,1 -1.1,1zM118,3.1l-4.7,-0.1 -0.2,-4 2.9,-14.1 1,-1.9 1,-1 2,-0.3 0.7,0.3 0.4,1 -1.1,5 -0.9,6 -0.2,9 -0.9,0.1zM101,3l-3.1,0 0.3,-3 -0.6,-9 0.5,-4 0.9,-2.5 1,-1.4 1,-0.7 1,-0.1 0.5,0.7 0.2,3 -0.7,7.6 -1.1,5.4 0.4,4 -0.3,0zM54,-7l-3,0.1 -1.6,-1.1 -0.6,-2 0.2,-1 1,-1.2 1,-0.6 2,-0.2 2,0.6 1.8,1.4 0.5,1 -0.2,1 -1.1,1 -2,1zM133,3l-3.7,0 0.7,-3 -0.9,-4 -0.1,-2 1,-3 2,-2.2 3,-1.7 3,-0.7 3,0.6 1.1,1 0.3,1 -0.4,1 -7.4,6 -2.6,3 -0.3,1 0.9,2 0.9,1 -0.5,0zM70,-7l-4,-0.2 -2.2,-0.8 -1,-1 0.7,-1 1.5,-0.6 4,-0.5 3,0.2 2,0.5 1,0.4 0.5,1 -1.4,1 -4.1,1zM86,3l-3.1,0 0.5,-2 -0.1,-3 -3,-6 -0.1,-1 0.7,-1 2.1,-1.1 1,0.1 1,0.7 0.9,2.3 0.4,8 -0.3,3zM153,3.1l-4.8,-0.1 -0.1,-12 0.9,-2 2,-0.9 1,0.3 0.6,0.6 0.8,3 0.2,11 -0.6,0.1zM5,3l-5,0.2 -3.2,-0.2 0.2,-8.3 2,-0.7 2,0.1 2,0.7 1.5,1.2 1.2,2 0.4,2 -0.4,2 -0.7,1zM25,3l-9.8,0 -0.5,-2 0,-2 1.3,-3.5 1,-0.9 1,-0.4 2,0.1 4.3,1.7 2.8,2 1.4,2 -1.4,2 -1.3,1 -0.8,0z" fill="#b9d7e8"/><path d="M85,-132.4l-6,-4.3 -7.1,-3.3 2.1,-0.9 2,-0.3 3,0.1 2,0.4 1.7,1.7 1.7,3 0.8,2 0.2,1 -0.4,0.6zM62,-139l-1.4,0 1.4,-0.3 0.7,0.3 -0.7,0zM7,-128.8l-3,0.6 -2,-0.4 -1.8,-1.4 -0.3,-1 0.3,-1 1.1,-1 2.7,-0.8 2,0 2.8,0.8 1.2,1 0.2,1 -0.8,1 -2.4,1.2zM23,-127.7l-2,0.2 -3,-0.5 -2.2,-1 -1.3,-1 -0.4,-1 0.6,-1 3.3,-1.5 3,-0.3 2,0.3 2,1.1 0.9,1.4 -0.1,1 -0.5,1 -2.3,1.3zM76,-117l-2,-0.1 -2,-0.6 -2.8,-1.3 -3,-2 -2.8,-3 -0.2,-2 0.8,-1 2,-0.7 2,0.2 3,1.1 4,2.4 2,2 0.9,2 -0.2,2 -1.7,1zM53,-120.8l-1,0.4 -1,-0.2 -1.4,-1.4 -0.2,-1 0.3,-1 1.1,-1 1.9,0 1.1,1 0.2,1 -0.2,1 -0.8,1.2zM89,-123.9l0,-1.4 0.6,1.3 -0.6,0.1zM90,-122.1l-0.3,-0.9 0.3,-0.8 0.2,0.8 -0.2,0.9zM22,-110.8l-14,0.3 -7,-1.3 -4,0.3 0,-3.7 3,1.7 2,0.3 8,-1 7,-1.6 4,-0.1 2.4,0.9 1.1,1 0.3,1 -0.3,1 -0.5,0.5 -2,0.7zM67,-101.8l-2,0 -2,-0.7 -6,-3.5 -1.9,-2 -0.5,-1 0.4,-2.2 1,-0.8 1,-0.1 2,0.3 3.9,1.8 3.1,2 2.2,2 0.8,2 -0.4,1 -1.6,1.2zM44,-102.7l-1,0.1 -1,-0.4 -2,-2 -0.7,-2 0,-1 0.7,-0.8 2,0.5 2,1.9 0.6,2.4 -0.6,1.3zM81,-104l-1,0 -1,-0.5 -0.6,-0.5 -0.3,-1 0.9,-1.8 1,-0.7 1,-0.1 1,0.5 0.8,1.1 0.1,1 -0.4,1 -1.5,1zM57,-86.9l-3,0.5 -2,-0.5 -2.2,-1.1 -1.2,-1 -1.4,-2 -0.4,-2 0.2,-1.1 1,-1 2,-0.1 3,0.9 2.2,1.3 2.2,2 0.7,1 0.2,1 -0.2,1 -1.1,1.1zM36,-81.9l-3,-1.7 -2,-3 -0.9,-4.4 0.1,-1 0.8,-1 1,0.2 1,0.6 1.8,2.2 1.2,2.2 1,2.8 0.3,2 -0.3,0.8 -1,0.3zM73,-87.5l-2,0.3 -3,-0.7 -1,-1.1 0.1,-1 1.9,-1.2 3,0.3 1.5,0.9 0.7,1 -0.3,1 -0.9,0.5zM106,-77.6l-1,-0.1 -2,-1 -2,-1.8 -1.1,-1.5 -1,-3 0.1,-1.1 1,-1.5 1,-0.4 2,0.5 2.4,2.5 1,2 0.6,3 -0.4,2 -0.6,0.4zM18,-61.8l-4,0.6 -5,-0.8 -4.6,-2 -1.4,-1.5 -0.6,-1.5 -0.3,-2 0.2,-5 -0.3,-4 0.3,-2 1.7,-2 1.7,-1 7.3,-3.1 3,0.2 3.1,1.9 4.7,4 1.3,3 0.7,5 -0.2,2 -0.7,2 -1.3,2 -1.6,1.7 -4,2.5zM14.6,-65l2.4,-0.6 2,-1.2 1.1,-1.2 1.6,-3 0.1,-4 -1.2,-3 -2.6,-2.5 -3,-1.2 -3,0 -3,1.1 -1.8,1.6 -1.9,3 -0.5,3 0.9,3 2.5,3 2.8,1.6 3.6,0.4zM46,-72.9l-3,0.7 -1.6,-0.8 -0.7,-1 -0.5,-2 0.4,-2 1.4,-0.7 1,0 2,0.5 1,0.8 1.1,1.4 0.2,1 -0.1,1 -1.2,1.1zM104,-45.4l-1,0.2 -1,-0.4 -1,-0.9 -1.4,-2.5 -2.8,-7 -3.8,-4.3 -2,-2.9 -5.9,-10.8 -0.5,-2 0.1,-1 0.9,-1 1.4,-0.1 1,0.4 2,1.8 1.6,2.9 2.9,9 2.8,6 1.7,1.7 3,1.8 2.1,2.5 0.9,2 0.3,2 -0.3,1.4 -1,1.2zM62,-70.8l-3,0.7 -3,-0.3 -1.6,-0.6 -1.4,-1 -0.4,-1 1.4,-1.2 4,-0.9 4,0.1 2.6,1 0.5,1 -0.6,1 -2.5,1.2zM114,-65.8l-1,0.6 -1,0 -2,-1.1 -1,-1.3 -0.9,-2.4 -0.2,-2 0.1,-1.5 1,-1.1 2,0.6 1,0.8 1.6,2.2 0.9,3 -0.5,2.2zM58,-36l-2,0.6 -2,-0.1 -2,-1 -2,-1.5 -2,-2 -2.2,-3 -0.9,-2 -0.4,-2 -0.1,-2 0.5,-3 1.8,-4 2.2,-2 1.8,-1 2.5,-1 2.8,-0.6 3.7,0.6 4.8,2 2.5,1.7 1.2,2.3 0.8,7 -0.1,3 -0.9,2.1 -1,0.9 -5,2.5 -4,2.5zM61.3,-41l2.1,-2 1.2,-2 0.6,-2 0,-3 -1.4,-3 -1.8,-2 -3,-1.6 -4,0 -3,1.2 -2.4,2.4 -1.2,3 -0.1,3 1.3,3 2.4,2.5 3,1.3 4,0.1 2.3,-0.9zM31,-44l-1,0 -2,-0.8 -4.9,-3.2 -0.5,-1 0.4,-1 1.7,-2 2.3,-1.2 2,0 2,0.9 1,1.1 0.5,1.2 0.2,2 -0.7,2.8 -1,1.2zM15,-46.9l-4,0.2 -9,-1.3 -4,-1.6 -0.6,-0.4 -0.4,-1.3 1,-0.8 4,-0.4 7,0.5 4,0.8 3.6,1.2 1.4,1 -0.3,1 -2.7,1.1zM136,-39.8l-2,0.5 -1,-0.1 -1.2,-0.6 -0.7,-1 -0.2,-1 0.4,-2 0.7,-1.1 1,-0.7 1,-0.3 1,0.3 1.6,1.8 0.7,2 -0.1,1 -1.2,1.2zM46,-23l-1,0.3 -1,-0.3 -2,-1.3 -5,-5.9 -2.8,-3.8 -1,-2 -0.5,-2 0.3,-1.8 1,-0.1 1,0.5 3,2.6 2,2.3 5,7.5 0.9,2 0.1,2zM23,-27.4l-2,-0.2 -7.7,-4.4 -0.9,-1 -0.2,-1 0.4,-1 1.4,-1.1 2,-0.3 2,0.5 3.4,1.9 1.6,1.4 1,1.6 0.2,2 -1.2,1.6zM6,-28.7l-1,0.5 -2,0 -3.6,-1.8 -2.4,-1.9 0,-2.6 4,0.3 5,1.6 0.9,0.6 0.4,1 -0.2,1 -1.1,1.3zM108,-25.4l-0.2,-0.6 0.2,-1.5 1,-0.3 0,1.5 -1,0.9zM128,-20.9l-1,0.2 -1.5,-0.3 -0.5,-1 0,-2 0.7,-2 0.7,-1 1.6,-0.8 1,0 1.5,0.8 0.9,1 0.3,2 -1.4,2 -2.3,1.1zM146,-22.8l-1,0.2 -2,-0.5 -1,-0.9 -0.3,-1 0.3,-1 2,-1.1 1,0 1,0.6 1,1.5 0.1,1 -1.1,1.2zM69,-22l-4,0.1 -3,-0.4 -2.1,-0.7 -0.9,-1 0.5,-1 2.5,-0.6 9,-0.2 3.2,0.8 0.3,1 -1.1,1 -4.4,1zM88,-22.3l-1,0.1 -0.5,-0.8 0.1,-1 0.4,-0.5 1,0 0.3,0.5 0.1,1 -0.4,0.7zM31,-13.3l-1,0.2 -2.8,-0.9 -3.4,-2 -1.1,-1 -0.9,-2 0.2,-1.2 1,-1.5 1,-0.3 1,0.4 4.1,3.6 2.2,3 0.2,1 -0.5,0.7zM118,3l-4.2,0 -0.2,-4 2.4,-12 1,-2.4 1,-1.1 1,-0.1 0.6,0.6 0.1,1 -1.2,11 0,7 -0.5,0zM100,-4l-1,-1 -0.5,-5 0.5,-3.1 1,-1.9 1,-0.5 0.7,1.5 0,4 -0.7,4.2 -1,1.8zM131,-1.8l-1,-1 -0.6,-3.2 0.5,-2 1.3,-2 2.8,-2.1 3,-1 2.2,0.1 1.8,1 0.4,1 -0.3,1 -0.8,1 -8.3,6.7 -1,0.5zM53,-7.8l-1.4,-0.2 -1.2,-1 -0.2,-1 0.4,-1 1.4,-0.9 2,0.2 1.1,0.7 0.4,1 -0.5,1.3 -2,0.9zM70,-7.9l-2.9,-0.1 -1.5,-1 1.5,-1 1.9,-0.2 2.5,0.2 1.3,1 -2.8,1.1zM153,3l-4.4,0 0.1,-11 0.9,-2 1.4,-0.7 1.1,0.7 0.9,2.9 0.2,6.1 0,4 -0.2,0zM84,-3.3l-2,-3.5 -0.3,-1.2 0.2,-1 1.1,-0.7 1,0.3 1,1.9 0,2.9 -1,1.3zM4,3.1l-7.1,-0.1 0.1,-7.9 2,-0.7 2,0 1.7,0.6 1.3,1 1.3,2 0.4,2 -0.9,3 -0.8,0.1zM25,3l-9.4,0 -0.6,-2 0,-2 1.2,-3 1.8,-1.3 2,0 3,1 2.1,1.3 1.8,2 0.3,1 -1,2 -1.2,1zM85,1.2l0,-2.4 0,2.4zM132,3l-2.1,0 1.1,-1.2 1.8,1.2 -0.8,0z" fill="#9dc4df"/><path d="M83,-134.8l-7.3,-4.2 -0.8,-1 3.1,-0.5 3,0.5 2.2,3 0.3,2 -0.5,0.2zM23,-128.5l-2,0.4 -3,-0.6 -1.8,-1.3 -0.3,-1 0.8,-1 2.3,-1 2,-0.1 2,0.4 1.1,0.7 0.7,1 -0.1,1 -0.7,1 -1,0.5zM6,-129.6l-2,0.3 -1,-0.3 -0.8,-0.4 -0.4,-1 0.6,-1 0.6,-0.3 2,-0.4 1,0.1 1.3,0.6 0.4,1 -0.8,1 -0.9,0.4zM76,-118l-1,0.3 -2,-0.2 -3,-1.1 -2,-1.2 -3.1,-2.8 -0.7,-2 0.4,-1 1.4,-0.8 2,-0.1 3,1 3,1.8 1.3,1.1 1.4,2 0.1,2 -0.8,1zM22,-111.7l-5,0.5 -6,-0.3 -3.4,-0.5 2.3,-1 6.1,-1.8 3,-0.4 2.2,0.2 1.8,1 0.4,1 -0.8,1 -0.6,0.3zM67,-102.8l-2,0.3 -2,-0.5 -5.2,-3 -1.9,-2 -0.4,-1 0.5,-1.7 1,-0.6 2,0.1 3,1.2 3.3,2 2.1,2 0.5,1 0,1 -0.9,1.2zM43,-104l-1,-0.3 -1,-1 -0.3,-0.7 0.3,-1.2 1,0.1 1.1,1.1 0.3,1 -0.4,1zM55,-87l-3,-0.4 -2.7,-1.6 -1.3,-1.8 -0.4,-1.2 0,-1 0.6,-1 0.8,-0.5 2,0 2,0.7 2.8,1.8 1.4,2 0.2,1 -0.4,1 -2,1zM36,-83.6l-1,0.3 -1,-0.4 -2,-2.2 -1.1,-3.1 0.2,-2 0.9,-0.4 1,0.4 1.6,2 1.4,3 0,2.4zM72,-88.6l-1,0.4 -1,-0.1 -1.3,-0.7 0.2,-1 1.1,-0.3 1.5,0.3 0.9,1 -0.4,0.4zM105,-79l-1,-0.1 -2,-1.2 -2,-2.7 -0.3,-2 0.3,-1.1 1,-0.8 1,-0.1 1,0.4 1,0.8 1.2,1.8 0.8,3 -0.1,1 -0.9,1zM15,-61.9l-4,-0.3 -3.3,-0.8 -2,-1 -2.1,-2 -0.8,-3 0.2,-2.5 1,-1.1 0.4,1.6 3,4 2.6,1.8 3,0.9 3,-0.2 2,-0.8 2.9,-2.7 1.4,-3 0.3,-2 -0.2,-2 -0.6,-2 -1.2,-2 -1.6,-1.6 -2,-1.1 -4,-0.7 -2,0.3 -2,0.7 -1.6,1.4 -1.6,2 -1.2,2 -0.6,1.8 -1,-0.5 -0.2,-4.3 1.1,-2 1.3,-1 4,-2 2.8,-1.2 2,-0.4 2,0.4 2,1.1 5,4.2 1.1,1.9 1,5 -0.1,2 -0.6,2 -1.9,3 -2.3,2 -1.6,1 -3.6,1.1zM44,-73.7l-1.4,-0.3 -0.8,-1 0.2,-1.5 1,-0.7 1.2,0.2 1,1 0.2,1 -0.4,0.7 -1,0.6zM93,-62.7l-2,-2.3 -4,-6.6 -1.3,-3.4 0.3,-1.5 1,-0.5 1,0.4 1,0.7 1.3,1.9 1.7,4.9 1.1,5.1 -0.1,1.3zM60,-70.8l-2,0.1 -1.8,-0.3 -1.7,-1 -0.2,-1 1.5,-1 3.2,-0.5 3,0.4 1.4,1.1 -0.5,1 -2.9,1.2zM112,-66.9l-1,-0.2 -1,-0.9 -0.5,-1 -0.3,-2 0.8,-1.3 1.2,0.3 1.6,2 0.3,2 -1.1,1.1zM58,-36.7l-3,0.5 -2,-0.5 -2,-1.2 -2.2,-2.1 -1.8,-2.4 -1,-1.9 -0.6,-2.7 0.4,-5 2,-4 2.5,-2 2.1,-1 3.6,-1 4,0.8 5.1,2.2 2,2 0.9,4 0.4,5 -0.5,3 -0.7,1 -1.4,1 -3.8,1.2 -0.3,-0.2 1.3,-1.3 1.7,-2.7 0.8,-2 0.4,-2 -0.4,-3 -1.8,-3 -2.7,-2.5 -2,-0.7 -2,-0.3 -4,0.9 -2,1.2 -1.4,1.4 -1.3,2 -0.6,2 -0.2,2 0.8,3 2.2,3 2.5,1.6 3,0.9 5,0.2 0.1,0.3 -1.1,1 -2,1.3zM104,-47l-1,0.5 -1,-0.4 -1,-1.1 -1,-2 -0.6,-2 0,-1 0.6,-0.8 2,0.6 1.8,2.2 0.6,2 -0.4,2zM15,-47.6l-3,0.5 -7.4,-0.9 -3.7,-1 -1.6,-1 -0.2,-1 1.9,-0.8 2,-0.2 8,0.7 3.9,1.3 1.3,1 -0.3,1 -0.9,0.4zM31,-45.7l-1,0.6 -1,0 -3.7,-1.9 -1,-1 -0.4,-1 1,-2 1.4,-1 1.7,-0.4 1.7,0.4 1.3,1 0.6,1 0.3,2 -0.9,2.3zM134,-40.8l-1,-0.5 -0.4,-0.7 0,-1 0.4,-0.8 1,-0.5 1.1,0.3 0.6,1 0,1 -0.7,1 -1,0.2zM44,-24.4l-1,-0.3 -2,-1.4 -4.9,-5.9 -2.2,-4 -0.2,-1 0.3,-1.4 1,0 2,1.4 4,4.5 3.3,5.5 0.4,2 -0.7,0.6zM23,-28.7l-1,0.5 -1,-0.1 -5.2,-2.7 -2.4,-2 -0.2,-1 0.6,-1 1.2,-0.6 2,0 3.5,1.6 1.5,1.1 1.3,1.9 0.2,1 -0.5,1.3zM4,-28.9l-1.1,-0.1 -2.4,-1 -2.5,-2 -0.3,-1 1.3,-0.7 2,0.1 2.4,0.6 2,1 0.7,1 -0.2,1 -0.9,0.8 -1,0.3zM128,-21.8l-1.3,-0.2 -0.7,-1 0,-1 1,-2.2 1,-0.5 1,0.1 1.1,0.6 0.5,1 0,1 -0.6,1.1 -2,1.1zM70,-22.9l-3,0.3 -3,-0.2 -1.2,-0.2 -1.4,-1 2.6,-1 4,-0.1 2.6,0.1 1.4,1 -2,1.1zM145,-24.8l-1,0.1 -0.2,-0.3 1.2,-0.1 0,0.3zM29,-14.3l-2.4,-0.7 -2.9,-2 -0.7,-1 0,-2 1,-0.8 1,0.2 2.3,1.6 2.4,3 0.3,1 -1,0.7zM118,3l-3.6,0 -0.3,-3 0.4,-4 1.5,-6.4 1,-2.7 1,-0.9 0.4,3 -0.4,14zM133,-3.8l-1,0.5 -1,0.1 -1,-1.6 0,-2.2 1,-2.1 2,-1.9 2,-1.1 3,-0.5 1.7,0.6 0.8,1 -0.2,1 -0.7,1 -6.6,5.2zM100,-9.2l0,-1.8 0,1.8zM152,3.1l-3,-0.1 0.2,-9 0.8,-2.6 1,-0.4 1,1.1 0.7,3.9 0.1,7 -0.8,0.1zM4,3l-7.1,0 0.1,-7.4 2,-0.8 2,0 2,0.9 1,0.9 0.9,1.4 0.4,2 -0.4,2 -0.5,1 -0.4,0zM24,3l-7.8,0 -0.7,-2 0,-2 0.5,-1.7 1,-1.4 2,-0.9 2,0.3 2,0.9 2.4,1.8 0.9,2 -0.2,1 -0.7,1 -1.4,1z" fill="#7fadd3"/><path d="M81,-137.4l-2.8,-1.6 0.8,-0.3 1.6,0.3 0.7,1 -0.3,0.6zM22,-129l-2,0.1 -1,-0.3 -1.3,-0.8 -0.1,-1 1.4,-1.1 2,-0.2 1.2,0.3 1.2,1 0,1 -1.4,1zM75,-118.7l-1,0.2 -2,-0.2 -3,-1.3 -2.5,-2 -0.8,-1 -0.4,-1 0.1,-1 1.4,-1 1.2,-0.1 2,0.4 3,1.6 1.3,1.1 1.4,2 0.1,1 -0.8,1.3zM20,-112.5l-3,0.3 -1.8,-0.8 2,-1 1.8,-0.1 1.2,0.1 0.8,1 -1,0.5zM66,-103.6l-1,0.3 -2,-0.4 -4.3,-2.3 -1.8,-2 -0.3,-1 0.4,-1 1,-0.4 2,0.2 4.4,2.2 2,2 0.4,1 -0.2,1 -0.6,0.4zM55,-87.8l-2,0.1 -2.8,-1.3 -1.5,-2 -0.2,-1 0.2,-1 1.3,-0.8 1,-0.1 2,0.6 2,1.3 1.3,2 0,1 -1.3,1.2zM34,-85l-1,-0.9 -0.6,-1.1 -0.4,-2.1 1,-0.3 1.2,1.4 0.8,2 -1,1zM104,-80.4l-1.6,-0.6 -1.4,-1.8 -0.3,-1.2 0.3,-1.3 1,-0.5 1,0.4 1.3,1.4 0.6,2 -0.2,1 -0.7,0.6zM17,-82.9l-1.7,-0.1 -3.1,-1 2.8,-0.4 1.3,0.4 0.7,1.1zM4,-77.7l-0.1,-1.3 0.6,-1 1.5,-1.2 0.7,0.2 -1.7,2.5 -1,0.8zM90,-69.5l-1,-0.8 -1.1,-1.7 -0.5,-2 0.6,-0.8 1,0.7 1,1.9 0.2,1.2 -0.2,1.5zM60,-71.7l-3,-0.1 -0.4,-0.2 -0.1,-1 2.5,-0.6 2.3,0.6 -0.5,1 -0.8,0.3zM9,-63.9l-1.1,-0.1 -1.9,-1 -1.1,-1 -0.7,-2 0.8,-0.3 4,4 0.7,0.3 -0.7,0.1zM64,-55.1l-0.5,-0.9 0.5,-0.2 0.6,0.2 -0.6,0.9zM66,-52.5l-1.9,-2.5 0.9,-0.8 1.3,1.8 0.1,1 -0.4,0.5zM13,-47.9l-5.3,-0.1 -4.5,-1 -1.7,-1 0.4,-1 1.1,-0.2 3,-0.2 3.7,0.4 3.4,1 1.3,1 -0.8,1 -0.6,0.1zM30,-46.5l-1,0.4 -2.5,-0.9 -1,-1 -0.3,-1 0.3,-1 1.2,-1 1.3,-0.3 1,0.2 1,0.6 0.8,1.5 0,1 -0.8,1.5zM102,-49.1l-0.4,-0.9 0.4,-1 0.6,1 -0.6,0.9zM66,-42.6l-0.6,-0.4 0.6,-1.9 1,-1.7 0.1,2.6 -1.1,1.4zM51,-39.6l-0.4,-0.4 0.9,0 -0.5,0.4zM57,-37.8l-1,0.4 -2,-0.1 -1.3,-0.5 -1.3,-1 0.6,-0.7 5.3,1.7 -0.3,0.2zM43,-26.5l-1,0 -1,-0.7 -3,-3.1 -3,-4.7 0,-1.9 1,0.1 1,0.7 3,3 3,5.1 0,1.5zM22,-29.4l-1,0.3 -1,-0.3 -3.2,-1.6 -2.2,-2 -0.1,-1 1.5,-1 2,0.4 1.4,0.6 2.5,2 0.5,1 0,1 -0.4,0.6zM4,-30.6l-1,0.5 -1,-0.3 -1.3,-0.6 -0.8,-1 1.1,-0.5 2,0.4 1.3,1.1 -0.3,0.4zM27,-15.9l-2,-1.2 -0.6,-0.9 0.2,-1 0.4,-0.2 1,0.3 1.1,0.9 0.7,1 0.1,1 -0.9,0.1zM133,-4.5l-1,0.3 -1,-0.4 -0.5,-1.4 0.4,-2 1.1,-1.5 2,-1.6 2,-0.7 2,-0.1 1,0.5 0.4,0.4 0,1 -0.6,1 -2.1,2 -3.7,2.5zM117,3l-1.9,0 -0.3,-3 0.2,-2.7 1,-4.3 1,-1.8 0.3,3.8 0,8 -0.3,0zM152,3l-2.4,0 0.3,-8 0.1,-0.7 1,-1 1.1,2.7 0.2,5 -0.3,2zM3,3.1l-6.1,-0.1 0.1,-6.8 2,-1 2,0.1 1.7,0.7 1.1,1 1,2 0,2 -1,2 -0.8,0.1zM23,3l-6.2,0 -0.8,-2 0,-2 0.8,-2 1.1,-1 1.1,-0.4 2,0.2 2,0.9 1.6,1.3 0.6,1 0,2 -1.2,1.5 -1,0.5z" fill="#6092c3"/><path d="M74,-119.6l-2,0.2 -3.4,-1.6 -1.8,-2 -0.2,-1 0.4,-0.7 2,-0.4 3,1.1 2.1,2 0.4,1 -0.1,1 -0.4,0.4zM65,-104.7l-1,0.3 -1,-0.1 -3,-1.4 -1.8,-2.1 0.1,-1 1.7,-0.3 3.2,1.3 2,2 0.1,1 -0.3,0.3zM54,-88.6l-2,-0.2 -1.7,-1.2 -0.6,-1 -0.1,-1 0.4,-0.6 1,-0.4 1,0.1 2,1 0.9,0.9 0.3,1 -0.3,1 -0.9,0.4zM11,-48.8l-4.7,-0.2 -1.9,-1 2.6,-0.5 3,0.4 1.8,1.1 -0.8,0.2zM29,-47.9l-1,0.2 -0.6,-0.3 -0.4,-1 1,-0.6 1,0.5 0,1.2zM41,-28.9l-2,-1.4 -2,-2.7 -0.3,-1 0.3,-0.7 1,0.6 2,2.3 1,1.8 0,1.1zM21,-30.9l-1,0.5 -1.8,-0.6 -1.5,-1 -0.7,-1 1,-0.9 2,0.6 1.6,1.3 0.4,1.1zM134,-5.8l-2,0.4 -0.5,-0.6 -0.2,-1 1,-2 2.7,-1.9 2,-0.3 0.9,0.2 0.5,1 -0.4,1 -2,2 -2,1.2zM3,3l-6,0 0,-6.2 1.3,-0.8 1.7,-0.4 2,0.5 1.2,0.9 0.8,1.3 0.4,1.7 -0.5,2 -0.9,1zM22,3l-4.3,0 -0.7,-0.9 -0.4,-1.1 0,-2 0.4,-1.1 1,-1.2 1,-0.4 2,0.1 2,1.1 1.3,1.5 0,2 -0.7,1 -1.6,1zM151,2.6l-0.4,-2.6 0.4,-2.6 0.3,2.6 -0.3,2.6z" fill="#4a78b1"/><path d="M73,-120.9l-1,0.5 -2,-0.6 -1.3,-1 -0.7,-1 0.8,-1 1.2,0 2,1.1 0.8,0.9 0.2,1.1zM62,-106l-1.4,-1 0.4,-0.6 1.6,0.6 -0.6,1zM53,-89.8l-1.1,-0.2 -0.8,-1 0.9,-0.7 1,0.4 0.4,0.3 0.1,1 -0.5,0.2zM134,-6.6l-1,0.2 -0.7,-0.6 0.2,-1 0.6,-1 1.9,-1.2 2,0.1 0.1,1.1 -0.9,1 -2.2,1.4zM2,3l-4.4,0 -0.6,-0.6 0,-4.8 1,-0.9 1,-0.4 2,0 1.4,0.7 0.9,1 0.4,1 0,2 -0.7,1.4 -1,0.6zM20,3l-1,0 -1,-0.7 -0.9,-2.3 0.9,-2.3 1,-0.7 1,-0.1 1,0.2 1.6,0.9 0.8,1 0.3,1 -0.3,1 -0.8,1 -1.6,0.9 -1,0.1z" fill="#3c649e"/><path d="M1,3l-2.3,0 -1.7,-1.7 0,-2.6 1,-1.3 1,-0.5 2.3,0.1 1.3,1 0.5,1 -0.1,2.3 -1,1.3 -1,0.4zM21,2.1l-2,-0.1 -0.9,-1 -0.2,-1 0.2,-1 0.9,-1 2,-0.1 1.4,1.1 0.3,1 -0.3,1 -1.4,1.1z" fill="#32538a"/><path d="M33,-135.6l-2,0.6 -9,-1.2 -9,0.3 -7,-0.5 -9,0.6 0,-6.8 20,-0.2 8,0.4 7,0.8 2,1 0.9,1.6 -0.6,2 -1.3,1.4zM96,-92.9l-1,-0.4 -1,-1.1 -3.2,-4.6 -3.5,-9 -3.9,-7 -1.7,-5 -1.2,-2 -2.5,-2.3 -9,-5.3 -3,-1.1 -3,0 -6,1 -7,0.1 -7,1.2 -4,0.2 -6,-0.9 -0.8,-0.9 -0.2,-1 0.3,-1 1.5,-1 5.2,-0.7 8,-2.2 15,-0.4 8,-1.3 4,0.4 3,1.1 2,1.1 3,2.6 1.8,2.4 3.6,9 6.7,12 2,8 2.4,6 -0.5,1.3 -1,0.7 -1,0.1zM29,-117l-1,0.2 -6,-1.9 -3,0.1 -11,1.4 -8,-1.2 -3,-0.1 0,-8.9 5,2.2 2,0 6,-1.8 3,-0.3 8,1.9 7,0.4 1,0.5 0.4,1.5 0.1,4 -0.5,2zM79,-91.8l-3,-0.2 -7,-2.5 -2,0.6 -4,2.4 -2,0.1 -11.8,-6.6 -1,-1 -0.4,-1 0,-5 -0.5,-2 -5.8,-5 -1.4,-2 -0.2,-3 1.1,-4 1,-1.1 1,-0.1 1,0.3 6.6,4.9 1.5,2 0,2 -0.9,4 0.1,1 0.8,1 12.9,7.6 2,1 1,0 4,-3.4 2,-0.9 3,0.8 6.6,2.9 1,1 0.1,1 -0.4,1 -3,3 -2.3,1.2zM73,-106.8l-2,-0.3 -2,-0.9 -11.8,-7 -0.9,-1 -0.4,-2 1.1,-2.6 1,-1.4 1,-0.6 2,0.3 14.5,8.3 0.9,1 0.3,1 -0.1,1 -1.6,2.7 -2,1.5zM54,-77l-2,-0.2 -2,-0.9 -8,-4.6 -2,-2.1 -1.1,-2.2 -2.4,-7 -5.5,-8.6 -2.7,-3.4 -0.3,-1 0.6,-3 1.4,-2.5 1,0 1,0.6 3,3 3.7,5.9 3.8,5 1.9,6 1.1,2 3.5,3.3 3,1.5 3,0.8 3,-0.1 5,-1.3 8,0.9 6,0.2 4,1.1 1,0.6 0.4,1 -0.5,1 -1.9,2.4 -2,1.1 -5,-0.6 -10,-0.5 -9,1.6zM19,-101.8l-4,0.3 -4,-0.3 -7,-2.3 -2,0.3 -5,2 0,-7.4 4,0.1 5,1.3 7,-1 4,0 5.4,0.8 2.3,1 0.7,1 -0.4,1 -0.9,1 -2.1,1.2 -3,1zM125,-39.6l-1,0.4 -1,-0.3 -1,-1.2 -1,-2.3 -0.4,-3 0.7,-2 4.2,-5 1,-2 0.1,-2 -1.1,-2 -5.6,-5 -3.5,-7 -5.6,-9 -3.2,-6 -1.9,-3 -4.1,-5 -0.4,-1 -0.1,-2 0.8,-2 1.1,-0.7 2,0 1,0.7 2.6,3 4.1,6 6.8,11 3.8,7 5.4,12 3.7,5 0.3,2 -0.2,1 -3.5,5.4 -4,7zM35,-65.8l-3,-0.6 -2,-1.4 -1,-1.3 -1,-2.9 -1.4,-8 -0.7,-1 -6.7,-5 -4.2,-4 -1,0.1 -4,2.9 -4,2 -3,1.1 -3,0.3 -2,-1.1 -1,-1.3 0,-6.6 0.3,-0.4 1.7,-1.7 2,-1.2 4,-1.1 3,0.2 2,0.8 1.6,1 2.4,2.2 1,0.3 3,-2.9 2,-1.2 3,-0.2 2,0.9 2.2,2.9 1,3 1.2,5 0.9,2 4.9,4 1.9,3 0.8,4 0.3,4 -0.3,1 -0.9,0.7 -2,0.5zM94,3l-5.8,0 -0.2,-16 -0.1,-1 -0.9,-1.6 -1,-0.1 -9,1.9 -15,0.1 -3,-0.3 -8.8,-2 -1.3,-1 4.1,-2.9 2,-0.6 8,0.7 17,-0.2 3,0.7 3,2 1,0.3 1,-0.2 2,-1.6 1.7,-2.2 1.4,-5 0.9,-2.1 2,-1.7 3.9,-2.2 1,-1 0.5,-2 -0.1,-5 1.1,-1 2.6,-1.1 2.2,-1.9 2.4,-3 0,-1 -6.6,-10.5 -4,-4.7 -2,-3.2 -5,-11.6 -2,-2.3 -3.1,-2.7 0.1,-1 1.1,-1 4.9,-2.4 1,0.4 3.2,5 6.4,7 1.4,3 1.2,5 0.8,2 1,1.2 5.3,3.8 1.1,2 0.3,3 -0.4,4 -1.9,4 0.9,3 0.1,2 -0.4,3 -0.7,2 -1.3,1.7 -4.9,2.3 -2.4,2 -0.4,1 -0.5,5 -0.8,2 -1,1.3 -3.1,2.7 -1.7,3 -0.8,3 -0.3,3 -0.3,13 -0.8,0zM-2,-65.9l-1,0.3 -0.3,-7.4 0.3,-8.2 1,0.3 1,0.9 1,2.1 0.7,3.9 -0.7,5.5 -1,1.8 -1,0.8zM16,-66.9l-3,0.4 -2,-0.5 -2,-1.2 -2,-2.8 -0.4,-3 0.4,-2 2,-2.7 2,-1.2 3,-0.4 2,0.5 2,1.2 1.9,2.6 0.5,2 -0.4,3 -1,1.9 -1,1.1 -2,1.1zM95,-41.9l-2,-0.3 -1,-0.6 -0.9,-1.2 -1.4,-4 -1.3,-7 -0.6,-1 -4.8,-4.1 -2.1,-2.9 -1.6,-3 -1.1,-3 -0.3,-2 0.1,-2 1,-1.9 1,-0.1 1,0.5 2,1.8 2,2.5 3.1,5.2 2.3,6 3.6,3.7 2.1,3.3 1.3,4 0.6,4 -0.4,1 -0.6,0.5 -2,0.6zM79,-41l-2,0.6 -2,-0.1 -2,-0.7 -1,-1.2 -1,-3 -0.5,-3.6 -0.1,-4 0.4,-4 -0.3,-1 -6.5,-1.9 -5,-2.5 -2,-0.6 -2,0.3 -8,2.8 -3,0.1 -2.5,-1.2 -1.2,-1 -1.1,-2 -0.3,-2 0.7,-1 1.9,-1 6.5,-2.2 3,0.3 6,2.2 10,-2.4 3,0.3 1.6,0.8 1.6,2 0.5,2 -1,6 4.3,1.7 2,1.2 1.8,2.1 1.4,3 0.4,3 -0.4,3 -1.2,2.4 -2,1.6zM21,-52.9l-3,0.6 -15,-1.6 -6,-1.3 0,-7 2,-0.4 3,0.3 10,2.7 5,0.8 3,-0.5 8,-4.1 3,-0.5 2,0.4 0.5,1.5 -0.8,2 -0.8,1 -1.3,1 -5.6,2.7 -4,2.4zM53,-23.3l-1,-0.1 -2,-1.1 -3,-2.9 -10.3,-13.6 -1,-2 -0.7,-13 1,-2.9 1,-1.1 1,-0.4 1,0.4 0.7,1 1.1,3 0.6,9 1.1,3 3.4,4 6.9,7 2.1,3 0.5,2 -0.4,1.8 -1,2.2 -1,0.7zM59,-41.8l-3,0.2 -3,-1.1 -2,-1.9 -1,-2.4 0,-3 0.8,-2 2,-2 2.2,-1.1 3,-0.1 2.8,1.2 1.9,2 0.9,2 0.2,2 -0.9,3 -1.9,2.2 -2,1zM45,3l-6.9,0 0,-6 0.8,-9 -0.4,-3 -0.5,-0.7 -3,-0.7 -3,-1.6 -3,-2.6 -2,-2.4 -0.9,-2 0.5,-6 -0.9,-2 -3.7,-2.6 -6,-3.1 -2,0 -2,1.1 -3,2.2 -2,0.6 -4,-0.7 -4,-1.5 -2,-1.3 0,-7 7.5,-0.7 9.5,1.3 7,-1.3 3,0.8 2.2,1.2 2.5,2 1.2,2 1.5,5 6.7,9 2.8,6 5.7,3 0.2,1 -0.8,1.7 -0.2,1.3 -0.8,16zM70,-27.9l-5,0.6 -3.8,-0.7 -1.9,-1 -0.9,-1 -0.3,-2 0.4,-1 2.8,-3 3.7,-2.2 4,-1 2,0.4 1,1 0.9,1.8 0.8,4 -0.5,2 -0.9,1 -2.3,1.1zM86,-28.9l-2,0.4 -1.6,-0.5 -0.9,-1 -0.5,-2 0.1,-2 0.9,-2 1,-1.1 2,-0.8 2,0.3 1,0.6 1,1.2 0.8,2.8 -0.3,2 -0.5,0.5 -3,1.6zM111,3l-7.1,0 0.2,-12 0.6,-4 0.7,-2 1.6,-2.4 2.9,-2.6 1.1,-1.4 0.7,-1.6 1.1,-5 1.1,-2 1.1,-1 2,-1 5,-1.2 4,-0.5 2.6,-1.3 11.4,-2.3 2,0 1,0.6 2,2.7 0.3,1 -0.1,1 -0.9,1 -1.7,1 -5.6,2.4 -2,-0.2 -6,-3.9 -2,-0.9 -1,-0.1 -1,1.3 -3,7.4 -0.7,1 -1.3,1 -3,1.5 -1.6,1.5 -0.6,1 -0.6,2 -1,8 -2.2,7 0,2 0.5,2 -0.5,0zM13,3.1l-6.4,-0.1 0.7,-2 0,-2 -0.7,-2 -1.5,-2 -2.1,-1.5 -2,-0.6 -2,-0.1 -2,0.5 0,-8.5 0.6,-0.8 0.5,-2 -0.3,-1 -0.8,-1 0,-9.5 3.8,2.5 4.2,3.7 1,-0.8 3,-4 2,-1.7 2,-0.2 4,1.7 2.6,2.3 0.7,2 -0.4,2 -2.1,5 -0.1,1 5.3,1.8 4,2 3.3,2.2 1.7,2 0.3,1 -0.1,1 -0.7,1 -1.5,1 -1,0.3 -2,-0.3 -8,-3.4 -2,-0.2 -1.8,1.6 -1,2 -0.7,2 -0.2,2 0.5,3 -0.8,0.1zM127,3.1l-7,-0.1 0,-6 2,-9.8 1.1,-2.2 2,-2 9.9,-5.3 2,-0.4 2,0.7 4,3.7 7,0.3 3,1 1.2,1 0.1,1 -0.3,0.1 -7,1.9 -2,-0.4 -3,-2.2 -2,-0.2 -4,1.1 -4,2.1 -2.8,2.6 -0.9,2 -0.5,3 0.3,5 -0.2,3 -0.9,0.1zM8.3,-18l-1.3,-1.9 -1,-1.2 -0.3,0.1 -0.6,1 0.5,1 1.4,1 1.3,0zM15.5,-15l-1.5,-1 -2.8,0 1,1 1.8,0.6 1.5,-0.6zM164,3l-5,0.2 -4.3,-0.2 -0.1,-5 0.4,-4.2 1,-3.9 1,-1 1,0.1 2,1.5 3.7,5.5 1.5,4 -1.2,3zM147,3l-6,0.3 -5.8,-0.3 -1.2,-2 0,-2 2.1,-3 2.9,-2.3 4,-1.9 2,0.1 1.1,1.1 0.9,3 0.2,4 -0.2,3zM80,3.1l-9.8,-0.1 -0.1,-5 0.5,-2 1.4,-1.1 3,-0.8 2,-0.1 2,0.7 2,2.3 0.6,2 -0.2,3 -0.4,1 -1,0.1zM64,3l-11.5,0 -1,-2 0,-2 0.4,-1 1.8,-2 4.3,-1.8 2,-0.1 3,0.9 1.2,1 0.4,1 0.1,5 -0.1,1 -0.6,0z" fill="#f6e9b4"/><path d="M29,-136l-8,-0.5 -7,0.2 -9,-0.3 -8,0.3 0,-5.5 10,-0.5 10,0.2 12,0.9 3,0.6 1.2,0.6 0.7,1 -0.1,1 -0.8,1 -2,0.9 -2,0.1zM95,-96.9l-2,-1.8 -3,-4.6 -5.5,-10.7 -2.8,-7 -1.5,-2 -2.7,-2 -9.5,-5.4 -3,-0.8 -8,0.9 -14,0.7 -4.5,-0.4 -2.3,-1 0.9,-1 2.5,-1 6,-2 3.4,-0.6 14,-0.5 8,-1.3 3,0.4 4.6,2 2.6,2 2.4,3 3,8 6.4,12 1.1,3 1.4,7 0.2,2 -0.7,1.1zM13,-118l-5,0.3 -7,-1.4 -4,0.2 0,-8 4,2 2,0.3 8,-2.3 3,0 11,2.9 1.6,1 0.4,1 0.2,2 -0.8,1 -5.4,-0.3 -8,1.3zM74,-107.9l-2,0.6 -2,-0.6 -6,-3.1 -6.2,-4 -0.9,-1 -0.4,-2 0.5,-1.7 1,-1.5 1,-0.7 1,-0.2 2,0.6 12.8,7.5 0.9,1 0.3,2 -1,2 -1,1.1zM62,-91.8l-2,-0.3 -2,-1 -6.7,-3.9 -2.5,-2 -0.7,-2 0.4,-6 -5.5,-4.1 -2.3,-2.9 -0.3,-3 0.6,-2.2 1,-1.4 1,-0.4 2,0.5 3.7,2.5 2.2,2 0.8,2 -1.5,6 0.7,1 8.1,4.1 8,5.3 1,0.3 5,-4.5 2,-0.3 3.3,1.1 3.9,2 0.9,1 0.4,1 -0.3,1 -1.5,2 -2.7,1.6 -3,0 -7,-3 -1,0 -4,2.9 -2,0.7zM57,-77.9l-3,0.4 -3,-0.5 -8.7,-5 -1.3,-1.2 -1.6,-2.8 -1.7,-6 -8.6,-14 -0.1,-2 1,-2 1,-0.3 1,0.4 3,2.8 7,10.1 2.5,7 1.5,2 3,2.5 4,1.9 2,0.5 3,-0.1 4,-1 2,-0.1 13,1.1 3,1 1.1,1.2 -0.1,1 -0.7,1 -2.3,1.3 -16,-0.4 -5,1.2zM16,-102l-3,0 -3,-0.5 -6,-2.7 -7,2.8 0,-6.6 3,0.1 5,1.8 8,-1.5 5,0.1 4,1 1.1,0.5 0.7,1 -0.2,1 -0.9,1 -1.7,1 -2,0.6 -3,0.4zM126,-60.1l-4,-2.6 -2.7,-3.3 -3.7,-7 -4.4,-7 -3.8,-7 -4.6,-7 -0.7,-3 0.9,-1.6 1,-0.3 1,0.3 2,1.9 5.5,7.7 5,8 5,9 2.8,6 1.2,4 0.1,1 -0.6,0.9zM5,-84.9l-4,0.7 -2,-0.8 -1,-1 -1,-1.9 0.1,-3.1 1.1,-2 2.8,-2.3 4,-1.1 3,0.3 2,0.8 1.7,1.3 0.8,1 0.7,2 -0.3,1 -1.9,2 -3.4,2 -2.6,1.1zM36,-67.8l-1,0.4 -2,0 -2,-0.8 -1,-0.8 -1,-1.3 -0.9,-2.7 -1.5,-8 -1,-1 -6.1,-4 -2.7,-3 -0.5,-1 0,-2 1.2,-2 1.5,-1.3 2,-0.9 2,0 2,1 1.8,2.2 1.2,3 1.7,7 5,4 2,3 0.8,5 -0.4,2 -1.1,1.2zM112,-50.5l-2,0.3 -2,-1.4 -2,-2.7 -3.8,-6.7 -4.2,-4.7 -2,-3.8 -3.2,-8.5 -2.8,-4 -0.1,-1 1.1,-1 2,-0.5 2,0.9 8.3,8.6 1.4,3 1.7,7 1.6,1.9 4.5,3.1 1.3,2 0.3,2 -0.1,2 -0.7,2 -1.3,1.5zM-2,-66.7l-1,0.4 -0.2,-6.7 0.2,-7.5 2,1.3 1,2.2 0.5,3 -0.5,4.5 -1,2 -1,0.8zM15,-66.8l-3,-0.1 -2,-0.8 -2,-1.9 -1.1,-2.4 0,-3 0.9,-2 1.9,-2 2.3,-1 2.8,0 2.2,0.9 2,1.9 1,2.2 0.1,3 -1.1,2.6 -1.4,1.4 -2.6,1.2zM96,-43l-2,0.3 -1,-0.3 -1,-1 -1.7,-4 -1.2,-8 -5.1,-3.7 -2,-2.4 -1.8,-2.9 -0.8,-2 -0.7,-3 0.3,-2.6 1,-1 1,0.1 1,0.5 3,3.2 2.8,4.8 2.4,7 3.8,3.2 1.8,2.8 1.1,3 0.5,3 -0.3,2 -1.1,1zM71,-59.6l-2,0.5 -4,-0.7 -8,-3.8 -1,0.1 -7,2.7 -2,0.5 -2,-0.1 -2,-0.9 -1.7,-1.7 -0.6,-2 0.2,-1 0.6,-1 1.3,-1 2,-1 3.2,-0.9 3,0.4 6,2.3 8,-2.2 4,-0.1 1.5,0.5 1.3,1 1.1,2 0,3 -0.9,2.2 -1,1.2zM20,-53l-2,0.3 -13,-1.2 -7,-1.4 -1,-0.4 0,-5.8 2,-0.5 3,0.1 13,3.2 3,0.4 2,-0.5 5,-2.6 3,-1.1 2,-0.2 1.6,0.7 0.1,1 -0.4,1 -2,2 -9.3,5zM53,-24.3l-1,0.1 -2,-0.8 -3,-2.8 -10.4,-14.2 -0.8,-3 -0.2,-9 0.4,-2.4 1,-1.6 1,-0.4 1,0.6 1,1.9 0.6,2.9 0.3,6 1.1,3 9.5,10 2.8,4 0.5,2 -0.1,1 -0.7,1.8 -1,0.9zM79,-41.9l-2,0.7 -2,-0.1 -2,-1 -1,-1.3 -1,-3.4 -0.3,-6 0.8,-3 0.5,-0.7 1,-0.5 2,0 3,1.2 2,1.9 1.2,2.1 0.8,3 -0.2,3 -0.8,2 -2,2.1zM124,-40.7l-1,-0.2 -1.3,-2.1 -0.4,-2 0.3,-2 1.2,-2 3.3,-4 1.9,-3.9 1,0 2,2 0.6,1.9 -0.1,1 -5.5,9.8 -1,1.1 -1,0.4zM59,-42l-3,0.2 -3,-1.1 -2,-2.1 -0.8,-2 -0.2,-2 1.1,-3 1.9,-1.9 2,-0.9 3,-0.2 2,0.7 1.7,1.3 1.4,2 0.4,3 -0.5,2.3 -2,2.7 -2,1zM44,3l-4.9,0 0.4,-17 -0.5,-3.6 -3,0.6 -2,-0.3 -3,-1.8 -2.9,-2.9 -1.6,-3 0.4,-6 -0.7,-2 -2.2,-1.7 -5,-2.9 -2,-1.1 -2,-0.5 -2,0.5 -5,3.4 -2,0.1 -4,-0.9 -2.3,-0.9 -2.6,-2 -0.1,-4.7 2.6,-1.3 3.4,-0.7 4,0.2 7,1.2 7,-1.4 3,0.8 2,1 2.4,1.9 1.2,2 1.1,4 0.9,2 4.3,5 1.9,3 1.2,3 0.5,4 0.5,0.6 2,-0.1 1.6,0.5 1.4,1 0.4,1 -0.3,7 -0.9,7 0.1,5 -0.3,0zM106,-33.8l-2,0.6 -1,-0.2 -0.8,-2.6 -0.1,-3 0.5,-1 6.4,-4.7 1,-0.3 1,0.2 1,1 0.6,1.8 0,2 -0.6,2.3 -1,1.5 -1,0.7 -4,1.7zM69,-27.9l-5,0.3 -1.8,-0.4 -2,-1 -1.4,-2 -0.1,-1 0.9,-2 2,-2 3.4,-1.9 3,-0.8 2,0.2 0.8,0.5 0.9,1 0.9,2 0.4,2 -0.2,2 -1.3,2 -2.5,1.1zM87,-29.9l-3,0.6 -1,-0.4 -0.9,-1.3 -0.3,-1 0.1,-2 1.1,-2 1,-0.7 2,-0.3 1,0.3 1.6,1.7 0.4,2 -0.1,1 -0.5,1 -1.4,1.1zM139,-28.7l-3,0.6 -2,-0.7 -4.1,-3.2 -0.6,-1 0.4,-1 1.7,-1 5.6,-1.4 3,-0.3 2,0.6 1.8,2.1 0.1,2 -0.7,1 -4.2,2.3zM111,3l-6.6,0 -0.1,-11 0.8,-5 1.9,-3.6 4.5,-4.4 0.7,-2 0.8,-4.2 1.5,-2.8 1.5,-1 2,-0.7 4,-0.3 1,0.5 0.6,1.5 -1.6,5.2 -1.4,1.8 -5,3 -1.3,2 -0.5,2 -0.8,7.7 -2.6,7.3 0,2 0.6,2zM94,3l-5.5,0 0,-19 0.5,-1 3.4,-4 1.4,-5 1.1,-2 3.1,-2.2 3,-0.8 1,1.1 0.4,2.9 -0.2,2 -1.2,2.7 -4,3.3 -0.7,1 -0.8,2 -0.8,5 -0.4,14 -0.3,0zM13,3.1l-6.2,-0.1 0.7,-2 0,-2 -0.7,-2 -1.4,-2 -2.4,-1.7 -2,-0.6 -2,-0.1 -2,0.5 0,-7.8 1.5,-2.3 0.2,-1 -0.3,-1 -1.4,-1.4 0,-8.8 3.4,2.2 2.1,2 1.1,2 0.2,4 2.2,1.8 8,4.3 1,0 3,-1.6 1,-0.2 4,0.8 5.5,2.9 2.2,2 0.7,1 0,2 -0.8,1 -1.6,0.8 -1,0.1 -9,-3.6 -2,-0.4 -1,0.4 -1,1.3 -1.4,3.4 -0.5,3 0.5,3 -0.6,0.1zM17,-17.6l-2,0.5 -3,-0.4 -2,-0.9 -2.4,-2.6 -0.8,-2 0.4,-2 2.1,-3 1.7,-1.4 2,-0.3 2.3,0.7 3.1,2 1.4,2 0.1,2 -0.9,2.5 -1,1.8 -1,1.1zM127,3.1l-6.7,-0.1 0.1,-7 0.6,-3.4 1.9,-6.6 1.6,-2 2.9,-2 7.6,-3.8 2,-0.4 1,0.3 1.6,0.9 0.9,1 0.9,2 -0.3,1 -8.1,3.5 -2.2,1.5 -1.8,2 -0.6,1 -0.8,3 0.2,7 -0.1,2 -0.7,0.1zM80,-14.8l-6,0.6 -13,0 -3,-0.4 -5.5,-1.4 -1.5,-1 0.5,-1 1.5,-1 3,-0.7 24,0.3 3,0.9 1.7,1.5 -0.9,1 -3.8,1.2zM149,-13.8l-3,0.3 -2.2,-1.5 -0.6,-1 0.5,-1 4.3,-0.7 3,0.7 1.5,1 -0.2,1 -3.3,1.2zM163,3l-8.1,0 0.1,-7.4 1,-4.1 1,-1.1 1,0 2,1.4 1.7,2.2 1.7,3 1.1,3 -1.1,3 -0.4,0zM146,3.1l-10.5,-0.1 -1.1,-2 0,-2 1.1,-2 3.5,-3.1 3,-1.5 2,-0.3 1,0.4 1,1.2 0.7,2.3 0.3,6 -0.1,1 -0.9,0.1zM64,3l-10.6,0 -1.1,-2 0,-2 0.4,-1 1.9,-2 2.4,-1.1 2,-0.4 3,0.6 1.4,0.9 0.7,1 0.3,3 -0.4,3zM80,3l-9.3,0 -0.2,-5 0.8,-2 1.6,-1 3.1,-0.6 2,0.2 1,0.6 1.6,1.8 0.7,2 -0.2,3 -0.5,1 -0.6,0z" fill="#f9e3a4"/><path d="M30,-136.9l-33,0 0,-4.2 6,-0.5 8,-0.2 9,0.4 7,0.7 3.9,0.7 1.4,1 -0.3,1.2 -2,0.9zM93,-101.6l-1,-0.8 -2,-2.8 -4.8,-8.8 -3.6,-8 -1.6,-1.8 -1.8,-1.2 -9.2,-5.3 -3,-1.2 -3,-0.2 -7,0.9 -10,0.2 -3.7,-0.4 -1,-1 1.2,-1 2.3,-1 3.2,-0.8 15,-0.9 7,-1.4 4,0.4 4.2,1.7 2.8,2.1 2.3,2.9 2.9,8 5.7,11 1.2,3 0.8,4 -0.3,2 -0.6,0.4zM16,-119l-4,0.6 -3,0.1 -3,-0.6 -4,-1.4 -5,0.7 0,-6.7 5,2.7 1,-0.1 7,-2.5 4,-0.3 5.5,1.5 2.5,1 1.4,1 0.3,1 -0.6,1 -7.1,2zM72,-107.9l-2,-0.4 -4,-1.8 -4.8,-2.9 -2.7,-2 -1.3,-2 0.1,-2 0.7,-1.3 1,-0.9 1,-0.2 2,0.3 5.9,3.1 6.2,4 0.9,1 0.4,2 -1.4,2.3 -2,0.8zM48,-108.8l-2,-0.8 -2,-1.3 -1.3,-1.1 -1.4,-2 -0.3,-3 0.9,-2 1.1,-0.9 2,0.2 2,1 2.3,1.7 1.5,2 0.3,2 -0.6,2 -1.5,2 -1,0.2zM54,-78l-2,-0.2 -3,-1.4 -5.8,-3.4 -2.2,-2 -1,-2 -0.7,-4 -0.7,-2 -8.1,-13 -0.5,-2.6 1,-1.4 1,0.1 2,1.5 6.7,9.4 1.3,2.4 1.4,4.6 1.1,2 2,2 3.5,2.4 3,1.4 3,0.7 2,-0.1 6,-1.2 11,0.9 3,0.7 1.7,1.2 0,1 -0.7,0.8 -2,0.7 -16,-0.4 -7,1.9zM-3,-103l0,-5.6 3,0.2 1.4,0.4 1.3,1 -0.1,1 -1.3,1 -4.3,2zM19,-103l-4,0.6 -4,-0.4 -3,-1.2 -1.2,-1 -0.3,-1 1.1,-1 3.4,-1.1 4,-0.3 4.1,0.4 2.5,1 0.8,1 -0.2,1 -1,1 -2.2,1zM63,-92.7l-2,0.3 -2,-0.6 -8.5,-5 -1,-1 -0.8,-2 0.3,-2.9 1,-1.6 2,-0.1 5,1.9 4.6,2.7 3.8,3 0.7,1 0.3,1 -1.3,2 -2.1,1.3zM79,-93l-3,0.1 -4.7,-2.1 -1.1,-1 -0.3,-1 0.8,-2 2.3,-2.2 2,-0.3 3,0.9 3,1.6 0.9,1 0.5,1 -0.1,1 -1.5,2 -1.8,1zM125,-62.9l-1,0.4 -2,-1.2 -3,-3.9 -14.7,-25.4 -1,-3 0.7,-1.4 1,0.1 1,0.7 2,2.3 8.3,12.3 4,7 3,6 1.4,4 0.3,2.1zM4,-85l-3,0.1 -2,-1.2 -0.7,-0.9 -0.6,-2 0.7,-3 1.9,-2 2.7,-1.4 3,-0.4 3,0.8 2.4,2 0.7,2 -0.2,1 -0.6,1 -2.4,2 -4.9,2zM35,-68.6l-1,0.2 -2,-0.3 -2,-1.4 -1,-1.5 -1,-3.3 -0.3,-6.1 -0.7,-1 -6,-3.2 -2.1,-1.8 -1.4,-2 -0.4,-1 0.2,-2 1.2,-2 1.5,-1.1 1,-0.3 2,-0.1 2,1 1,1 1,1.7 0.9,2.8 0.6,6 0.7,1 4.8,2.9 1.8,2.1 0.8,2 0.3,3 -0.4,2 -1.5,1.4zM111,-51.8l-2,-0.2 -2,-1.8 -1.9,-3.2 -2,-5 -4.1,-3.6 -2,-3 -1.8,-4.4 -1.7,-6 -0.2,-2 0.7,-0.6 1,-0.1 2,1.1 5,4.6 1.4,2 0.9,2 1.6,8 0.8,1 3.5,2 2.2,2 0.8,2 0,2 -0.7,2 -1.5,1.2zM-2,-67.4l-1,0.3 0,-12.6 1,0.4 1,1 1,2.3 0.2,2 -0.4,4 -0.8,1.7 -1,0.9zM14,-66.9l-3,-0.6 -2,-1.3 -1.5,-2.2 -0.5,-2 0.6,-3 1.3,-2 2.1,-1.4 2,-0.5 3,0.6 2,1.3 1.4,2 0.5,2 -0.4,3 -1.2,2 -2.3,1.6 -2,0.5zM88,-58.4l-1,-0.2 -2,-1 -2,-2 -1.7,-2.4 -1,-2 -0.8,-3 0.1,-2 0.4,-1 1,-0.4 2,0.9 3,3.6 1.5,2.9 1,3 0.3,2 -0.1,1 -0.7,0.6zM69,-59.8l-3,-0.1 -3,-1 -6,-3.8 -7,3.3 -2,0.4 -2,0.1 -2,-0.8 -1.4,-1.3 -0.7,-2 0.1,-1 0.7,-1 1.2,-1 2.1,-1 2,-0.4 3.4,0.4 5.6,2.9 7,-2.8 3,-0.4 2,0.3 1.8,1 0.8,1 0.5,1 0.2,2 -0.6,2 -0.6,1 -2.1,1.2zM21,-54l-2,0.7 -2,0 -11,-0.7 -6,-1 -3,-1.2 0,-4.6 2,-0.6 4,0 15,3.8 2,-0.5 7,-3.3 2,-0.2 1.1,0.6 -0.1,1 -1.9,2 -7.1,4zM52,-25l-1,-0.1 -2,-1.2 -3,-3 -9,-13 -0.7,-2.7 -0.1,-8 0.8,-3 1,-0.6 1,0.8 0.7,1.8 0.7,8 0.8,2 9,9 2.4,3 1.1,2 0.4,2 0,1 -1.1,1.7 -1,0.3zM79,-42.9l-2,0.8 -2,-0.1 -2,-1.1 -1,-1.5 -0.9,-3.2 -0.1,-4 0.8,-3 1.2,-1.1 2,-0.3 2,0.6 2,1.5 1.5,2.3 0.8,3 -0.1,2 -0.6,2 -1.6,2.1zM95,-43.6l-1,0 -1,-0.5 -1,-1.2 -0.8,-1.7 -0.9,-5 0,-2 0.7,-1.7 1,0.1 2,1.4 2,3.6 0.6,2.6 0.1,2 -0.7,1.8 -1,0.6zM57,-41.9l-3,-0.7 -1.9,-1.4 -1.3,-2 -0.5,-2 0.5,-3 1.2,-1.8 2,-1.4 3,-0.6 2,0.4 2.3,1.4 1.7,2.6 0.3,2.4 -0.4,2 -1.9,2.6 -2,1.1 -2,0.4zM125,-42.4l-1,0.3 -1,-0.4 -0.4,-0.5 -0.5,-2 0.4,-2 1.9,-3 3.6,-4.1 1,-0.6 1,0.7 0.4,1 -0.3,2 -3.1,6.1 -2,2.5zM36,-18l-2,0 -2,-0.9 -2.6,-2.1 -1.6,-2 -0.6,-1 -0.3,-2 0.5,-6 -0.4,-1 -1,-1 -9,-5.2 -2,-0.7 -2,0.7 -5,3.4 -2,0.3 -3,-0.6 -2.4,-0.9 -2.5,-2 -0.6,-2 0.8,-2 2.7,-1.8 3,-0.6 4.9,0.4 5.1,1.2 7,-1.6 2,0.4 3,1.5 2,1.5 1,1.5 1.4,5.5 0.6,1 4,4.4 2.8,4.6 0.6,2 -0.1,2 -0.8,2 -1.5,1zM106,-34.9l-1.5,-0.1 -1,-1 -0.4,-2 0.3,-1 0.7,-1 3.9,-3 1,-0.5 1,0 1,0.7 0.8,1.8 -0.5,3 -0.7,1 -1.3,1 -3.3,1.1zM68,-28l-3,0.2 -3,-0.7 -2,-1.5 -0.6,-2 0.7,-2 1.9,-2 3,-1.7 3,-0.6 1.5,0.3 1.3,1 1.1,2 0.4,2 -0.2,2 -0.5,1 -1.1,1 -2.5,1zM87,-30.9l-2,0.8 -1,-0.3 -1,-0.9 -0.4,-1.7 0.2,-1 1.2,-1.6 1,-0.4 1,0 1.5,1 0.6,2 -0.2,1 -0.9,1.1zM138,-28.9l-2,0.1 -3,-1.3 -1.9,-1.9 -0.2,-1 0.5,-1 1.8,-1 4.8,-1 2,0 2,1 1,2 -0.1,1 -2.3,2 -2.6,1.1zM110,3l-5,0 0.2,-3 -0.4,-8 0.8,-5 1.7,-3 3.6,-3 1.6,-2 1,-6 0.9,-2 1,-1 1.6,-0.8 2,-0.4 2,0.1 1,0.5 0.7,1.6 -0.4,2 -0.8,2 -1.5,1.8 -5.5,3.2 -1.1,2 -0.6,9 -0.8,2.9 -2.4,5.1 0,2 0.8,2 -0.4,0zM15,-17.9l-3,-0.4 -2,-1.2 -1.4,-1.5 -0.9,-2 0.2,-2 1.1,-2 2,-1.9 1,-0.4 2,0.1 2.7,1.2 1.3,1 1.4,2 0,2 -1.4,3.3 -1,1.1 -2,0.7zM93,3l-4,0 0,-9 0.6,-10 0.4,-1 3.5,-4 0.7,-4 0.9,-2 1.9,-1.9 2,-0.7 1,0 0.9,0.6 0.5,1 0.2,3 -0.6,1.6 -1,1.3 -4,2.7 -0.8,1.4 -1,6 -0.6,15 -0.6,0zM13,3l-5.8,0 0.7,-2 0,-2 -0.7,-2 -1.4,-2 -1.8,-1.5 -2,-0.9 -3,-0.3 -2,0.4 0,-6.8 2.8,-3.9 -0.3,-1 -2.5,-1.9 0,-8 3.9,2.9 1.4,2 0.3,2 -0.6,3 0.8,1 12.2,6.8 1,-0.3 1.5,-1.5 1.5,-0.9 2,-0.1 2,0.5 4.9,2.5 2.2,2 0.6,1 0.1,1 -0.3,1 -1,1 -1.5,0.4 -3,-0.8 -7,-3.2 -2,-0.3 -1,1.2 -1.8,4.7 -0.5,3 0.3,3zM127,3l-6.5,0 0.2,-7 2.3,-9 2.1,-3 3,-2 6.9,-3.3 2,-0.2 1,0.2 1.6,1.3 0.4,1 -0.1,1 -0.7,1 -8.2,4.5 -1.7,1.5 -1.3,2 -0.7,3 0.2,7 -0.1,2 -0.4,0zM76,-14.9l-7,0.3 -8,-0.1 -6.5,-1.3 -1.7,-1 0.4,-1 2.8,-1 14,-0.2 9,0.4 2.8,0.8 0.8,1 -1.6,1.1 -5,1zM43,3l-2.8,0 -0.2,-15 0.7,-4 1.3,-1.2 1,0 1,0.8 0.7,3.4 -0.2,4 -1.2,6 0,6 -0.3,0zM148,-14l-2,-0.2 -1.1,-0.8 -0.2,-1 1.3,-0.8 2,-0.3 3,1.1 -0.3,1 -2.7,1zM162,3.1l-6.9,-0.1 -0.1,-4 0.3,-3 0.7,-2.9 1,-1.5 1,-0.1 2,1.3 1.7,2.2 1.6,3 0.6,2 -1.1,3 -0.8,0.1zM146,3.1l-10.2,-0.1 -1.1,-2 -0.1,-1 0.5,-2 1.7,-2 3.2,-2.4 3,-1 1.6,0.4 1.4,1.7 0.5,2.3 0.2,5 -0.2,1 -0.5,0.1zM80,3l-8.7,0 -0.5,-3 0.5,-3 1.7,-1.5 2,-0.6 2,0 2,0.9 1.1,1.2 0.9,2 0,2 -1,2zM63,3l-8.7,0 -1.2,-2 0,-2 0.4,-1 1.5,-1.6 2,-1 3,-0.3 2,0.7 1.4,1.2 0.6,2 -0.2,3 -0.4,1 -0.4,0z" fill="#fcd892"/><path d="M28,-137.8l-14,0.5 -15,-0.3 -2,-0.2 0,-2.5 10,-0.9 12,0.3 8,0.9 2.7,1 -0.8,1 -0.9,0.2zM92,-105.5l-1,-0.4 -1,-1.3 -3,-5 -4.6,-9.8 -1.8,-2 -1.4,-1 -5.8,-3 -5.4,-3.4 -2,-0.8 -3,-0.2 -7,0.9 -7,0 -3.4,-0.5 0.2,-1 4.2,-1.3 14,-1 7,-1.5 4,0.7 3,1.3 3.4,2.8 2,3 2.2,7 5.5,11 1,3 -0.1,2.5zM12,-119l-3,-0.1 -3.1,-0.9 -1.4,-1 -0.5,-1 0.5,-1 3.5,-2.1 3,-0.9 2,-0.1 4.9,1.1 2,1 1,1 -0.1,1 -1.8,1.3 -3,1.1 -4,0.6zM-2,-120.7l-1,0.3 0,-5 2.1,1.4 0.7,1 0.1,1 -1.9,1.3zM73,-108.9l-2,0.3 -2,-0.5 -4,-1.9 -4.7,-3 -2,-2 -0.4,-1 0.1,-1.8 0.8,-1.2 1.2,-0.7 1,-0.1 2,0.6 4.4,2.2 4.8,3 2,2 0.4,1 -0.4,2 -1.2,1.1zM48,-109.9l-1,-0.1 -2,-0.9 -2,-1.7 -1,-1.4 -0.3,-1 0.1,-2 1.2,-1.7 1,-0.3 2,0.4 2.4,1.6 1.7,2 0.3,2 -0.4,1.3 -1,1.3 -1,0.5zM-3,-103.7l0,-4.5 2.6,0.2 1.5,1 -0.2,1 -1.1,1 -2.8,1.3zM16,-103l-3,0 -3,-0.8 -1.7,-1.2 -0.2,-1 1.1,-1 1.8,-0.6 4,-0.5 4,0.6 1.2,0.5 0.9,1 -0.2,1 -1.2,1 -3.7,1zM55,-78.9l-2,0.2 -3,-0.9 -5.9,-3.4 -2.2,-2 -1,-2 -0.4,-5 -4.5,-6.3 -3,-5 -1.4,-2.7 -0.1,-2 0.5,-0.3 1,0.3 1,0.8 5.3,7.2 1.7,3 1.3,5 1.3,2 3.6,3 2.8,1.8 4,1.8 3,0.8 1,0.1 5,-1.5 3,-0.1 9,0.9 2.8,1.2 -0.2,1 -0.6,0.3 -3,0.4 -6,0 -9,-0.6 -4,2zM61,-93l-3,-0.9 -6.8,-4.1 -1,-1 -0.8,-2 0.2,-2 0.5,-1 0.9,-0.6 1,-0.2 3,0.6 4.5,2.2 4,3 1.5,2 0.2,1 -0.4,1 -1.8,1.6 -2,0.4zM79,-93.7l-3,0.2 -3.5,-1.5 -1,-1 -0.4,-1 0.5,-2 1.4,-1.4 2,-0.5 2,0.4 2.9,1.5 0.9,1 0.5,1 -0.1,1 -0.5,1 -1.7,1.3zM5,-85.7l-2,0.4 -2.5,-0.7 -1.7,-2 -0.2,-2 0.8,-2 2.2,-2 2.4,-0.9 3,0 2,0.8 1.3,1.1 0.8,2 -0.1,1 -1.5,2 -1.5,1 -3,1.3zM123,-64.7l-1,-0.4 -2,-2.2 -8,-13.3 -6.2,-11.4 -0.7,-2 0.4,-1 0.5,0 1,0.8 3,3.7 7.5,11.5 5,10 0.9,3 -0.4,1.3zM27,-83.7l-2,0.2 -2,-0.8 -2.5,-1.7 -1.8,-2 -0.8,-2 0,-1 0.8,-2 1.3,-1.2 1,-0.4 2,-0.1 2,1 1,1.1 1.2,2.6 0.6,3 -0.1,2 -0.7,1.3zM35,-69.8l-1,0.4 -2,-0.3 -1,-0.5 -1.5,-1.8 -1.2,-4 0,-2 0.7,-2 1,-0.4 2,0.6 2,1.4 1.2,1.4 0.9,2 0.2,2 -0.3,2 -1,1.2zM-3,-67.8l0,-11.2 1,0.5 1,1.1 0.8,2.4 0.2,2 -1,3.7 -1,1.1 -1,0.4zM16,-67.7l-2,0.5 -3,-0.6 -1.7,-1.2 -1.5,-2 -0.5,-2 0.6,-3 1.4,-2 1.7,-1.1 2,-0.5 3,0.6 2,1.4 1.1,1.6 0.5,3 -0.4,2 -1.3,2 -1.9,1.3zM104,-64.9l-1,0.5 -2,-0.7 -2,-1.8 -1.5,-2.1 -1.5,-3.4 -0.9,-3.6 -0.1,-2.1 0.3,-0.9 0.7,-0.5 1,0.1 2,1.2 2.4,2.2 1.5,2 0.9,2 0.6,3 0,2 -0.4,2.1zM87,-59.7l-1,-0.2 -2,-1.4 -2.6,-3.7 -0.8,-2 -0.4,-2 0.1,-1 0.7,-1.1 1,-0.1 2,1.4 2.6,3.8 1.4,4 0,1.3 -1,1zM50,-61.9l-3,0.4 -1.8,-0.5 -1.2,-0.8 -0.8,-1.2 -0.3,-1 0.2,-1 0.7,-1 2.2,-1.4 3,-0.6 3,0.8 1.9,1.2 0.8,1 0.1,1 -0.8,1 -1.4,1 -2.6,1.1zM69,-60.5l-3,0.2 -4.4,-1.7 -2.3,-2 -0.3,-1 0.3,-1 2.7,-1.9 3,-0.8 3,0 1.6,0.7 1.7,2 0.3,2 -0.8,2 -1.8,1.5zM21,-54.8l-3,0.8 -8,-0.1 -8.5,-0.9 -3,-1 -1.5,-1 0,-2.9 1,-0.6 2,-0.5 4,0.2 7.3,1.8 5.7,2.4 1,0 2,-0.6 5.4,-2.8 1.6,-0.4 1.2,0.4 -0.4,1 -1,1 -5.8,3.2zM111,-53.5l-1,0.4 -1,-0.2 -2,-1.7 -1.1,-2 -0.5,-2 0.1,-1 0.5,-1.1 1,-0.2 2,0.6 2.3,1.7 0.7,1.1 0.3,1.9 -0.3,1.3 -1,1.2zM76,-42.9l-2,-0.6 -1,-0.9 -1,-1.8 -0.4,-1.8 -0.3,-3 0.4,-2 0.4,-1 0.9,-1 1,-0.4 2,0.1 2,1.1 1.7,2.2 0.7,2 0.1,3 -0.8,2 -1.7,1.6 -2,0.5zM52,-25.8l-1,-0.1 -2,-1 -3,-2.9 -3.1,-4.2 -4.9,-8.3 -1,-2.7 -0.2,-5 0.2,-3.1 1,-1.3 1,1.4 0.7,8 0.9,2 3.4,2.5 4,3.7 2.6,2.8 2,3 0.8,3 -0.4,1.5 -1,0.7zM59,-42.6l-2,0.3 -3,-0.6 -1.5,-1.1 -1.4,-2 -0.5,-2 0.4,-2.6 1,-1.7 2.3,-1.7 2.7,-0.5 2,0.4 2,1.2 1.4,1.9 0.6,2 -0.5,3 -1.5,2.2 -2,1.2zM95,-44.9l-1,0.1 -1,-0.6 -1.4,-2.6 -0.6,-4 0.5,-2 0.5,-0.4 1,0.2 1,0.8 1.7,3.4 0.4,3 -0.3,1 -0.8,1.1zM125,-43.9l-1,0.2 -0.3,-0.3 -0.5,-1 0.2,-2 1.6,-2.5 2,-1.9 1,-0.4 0.7,0.8 -0.4,2 -1.3,2.7 -2,2.4zM35,-18.8l-2,-0.2 -2,-1.1 -2,-1.9 -1.3,-2 -0.2,-3 1.2,-6 -0.9,-1 -6.5,-3 -6.3,-4.5 -1,0.4 -3.5,3.1 -2.5,1.7 -2,0.3 -2,-0.2 -2.3,-0.8 -1.7,-1 -0.9,-1 -0.5,-1 0.4,-2 2,-2.1 2,-0.7 2,-0.2 3,0.2 2.9,0.8 3.1,1.6 1,0 2.3,-1.6 3.7,-1 2,0.3 3,1.5 1.4,1.2 1.4,2 0.6,3 -0.1,3 4.7,3.8 2,2.6 1.3,2.6 0.4,2 -0.4,2 -1.3,1.8 -1,0.4zM109,-37l-3,0.7 -1,-0.6 -0.4,-1.1 0.3,-1 0.7,-1 2.4,-1.8 1,-0.3 1,0.4 0.8,1.7 -0.7,2 -1.1,1zM69,-28.8l-2,0.6 -2,0 -3,-0.8 -1.1,-1 -0.6,-1 -0.1,-2 0.4,-1 1.9,-2 1.7,-1 2.8,-0.8 2,0.3 1.7,1.5 0.9,3 -0.3,2 -0.6,1 -1.7,1.2zM139,-29.9l-2,0.4 -2,-0.3 -2,-1.2 -0.7,-1 -0.1,-1 0.7,-1 2.2,-1 2.9,-0.4 2.5,0.4 1.1,1 0.4,1 -0.2,1 -0.9,1 -1.9,1.1zM86,-31.6l-1,0.2 -1,-0.7 0,-1.7 1,-0.9 1,0.1 0.6,0.6 0.3,1 -0.9,1.4zM116,-21.9l-1,0.3 -1,-0.4 -0.3,-3 0.9,-3 0.7,-1 1.7,-1.1 2,-0.3 2,0.5 0.7,0.9 0.1,1 -1,3 -1.8,1.6 -3,1.5zM0,-20.4l-1,-0.1 -2,-0.9 0,-7.1 3.3,2.5 1.2,2 0,2 -0.5,0.9 -1,0.7zM16,-19l-2,0.3 -2,-0.4 -2,-1.4 -1.1,-1.5 -0.5,-2 0.6,-2 1.5,-2 1.5,-0.9 2,0.1 2.1,0.8 1.4,1 1.4,2 0.1,2 -0.8,2 -1.2,1.5 -1,0.5zM98,-21.5l-2,0.4 -0.9,-0.9 -0.2,-2 1.2,-3 1.1,-1 1.8,-0.5 1,0.3 0.7,1.2 0.1,2 -0.9,2 -1.9,1.5zM127,3l-6.1,0 -0.2,-3 0.3,-4 1,-3.8 2.2,-6.2 1.6,-2 1.4,-1 5.8,-3 3,-0.9 2,0.5 0.9,1.4 -0.2,1 -0.9,1 -8.1,5 -1,1 -1.2,2 -0.5,3 0,9zM77,-15.8l-6,0.6 -8,0 -6,-0.8 -2,-1 0.6,-1 1.4,-0.3 11,-0.5 9,0.5 1.4,0.3 1.4,1 -2.8,1.2zM92,3l-2.3,0 0.1,-11 1,-8 1.2,-1.5 1,-0.2 0.5,0.7 0,1 -0.7,14 0.1,5 -0.9,0zM109,3l-3.1,0 0.8,-3 -1.3,-6 0,-4 0.6,-2.6 1,-2 2,-2 2,-1.1 1,0.2 0.2,0.5 0.5,6 -0.5,3 -0.8,2 -3.2,5 0,2 1.2,2 -0.4,0zM12,3l-4.3,0 0.7,-2 0,-2 -1.3,-3 -2.1,-2.3 -3,-1.5 -3,-0.3 -2,0.3 0,-5.6 3,-3.1 2,-0.4 3,1.1 5,2.8 3.8,3 0.4,2 -1.9,7 0,2 0.4,2 -0.7,0zM149,-15l-1,0.2 -1.5,-0.2 0.2,-1 2.4,0 -0.1,1zM42,-5.4l-1,-1.9 -0.2,-4.7 1,-3 1.2,-0.2 0.9,2.2 0.1,3 -1,3.5 -1,1.1zM29,-5.6l-1,0.4 -2,-0.3 -5.8,-2.5 -2.5,-2 -0.1,-1 0.5,-1 1.2,-1 1.7,-0.4 2,0.3 3,1.3 2.5,1.8 1.4,2 0.1,1 -1,1.4zM162,3l-6.5,0 0,-6 0.5,-2.3 1,-1.9 1,-0.3 1,0.4 2,2 1.3,2.1 1.1,3 -1.1,3 -0.3,0zM146,3l-9.7,0 -1.1,-2 -0.2,-1 0.6,-2 1.6,-2 2.8,-2 2,-0.7 2,0.1 1,0.7 0.6,0.9 0.6,2 0.2,4 -0.4,2zM62,3l-6.7,0 -1.4,-2 0,-2 0.5,-1 1.6,-1.5 2,-0.8 2,0 2,0.9 1.1,1.4 0.4,2 -0.4,2 -0.6,1 -0.5,0zM79,3l-7,0 -0.5,-1 -0.3,-2 0.3,-2 0.5,-1 2,-1.3 2,-0.3 2,0.4 1,0.6 1.2,1.6 0.5,2 -0.5,2 -0.7,1 -0.5,0z" fill="#fdc77f"/><path d="M16,-138l-13,-0.1 -4.8,-0.9 2.1,-1 9.7,-0.6 11.3,0.6 3,1 -8.3,1zM84,-121.9l-3.6,-3.1 -6.4,-3.2 -6,-4 -4.8,-1.8 5.5,-2 2.3,-0.4 3.3,0.4 3.7,1.6 3,2.4 1.9,3 1.1,4.7 0,2.4zM59,-132.9l-4,0.3 -3.6,-0.4 4,-1 5.3,0 -0.9,1 -0.8,0.1zM14,-119.9l-3,0.2 -3,-0.6 -1.3,-0.7 -0.6,-1 0.3,-1 1,-1 1.6,-0.8 3,-0.7 3,0.2 3.1,1.3 0.8,1 -0.3,1 -1.2,1 -3.4,1.1zM-3,-121.8l0,-2.2 0.7,1 -0.7,1.2zM73,-109.9l-2,0.7 -2,-0.4 -3,-1.2 -3.6,-2.2 -3.3,-3 -0.4,-2 0.3,-1 1,-0.8 1,-0.3 2,0.4 3.8,1.7 3.3,2 3.3,3 0.3,2 -0.7,1.1zM85,-119.5l0,-0.8 0,0.8zM89,-111.3l-2,-2.9 -1,-2.2 -0.5,-2.6 0.5,-0.1 2,3.5 1.1,2.6 0.2,1 -0.3,0.7zM47,-111l-2.4,-1 -1.7,-2 -0.4,-2 0.5,-1.3 1,-0.7 1,0 2,0.7 2.3,2.3 0.2,2 -0.4,1 -1.1,0.9 -1,0.1zM-2,-104.9l-1,0.4 0,-3 2.4,0.5 0,1 -1.4,1.1zM17,-103.8l-3,0.3 -2.6,-0.5 -1.7,-1 -0.2,-1 1.3,-1 2.2,-0.5 3,-0.1 2.5,0.6 1.1,1 -0.2,1 -2.4,1.2zM39,-96.3l-3,-3.8 -1.1,-1.9 -0.5,-2 0.6,-0.1 1,1.1 2.2,3 1.3,3 -0.5,0.7zM62,-93.9l-2,0.2 -2,-0.7 -3.2,-1.6 -2.8,-2 -1.5,-2 -0.2,-2 0.4,-1 1.3,-0.9 3,0.2 3.8,1.7 2.9,2 1.8,2 0.5,2 -0.4,1 -1.6,1.1zM79,-94.7l-2,0.6 -3.1,-0.9 -1.2,-1 -0.5,-1 0,-1 0.5,-1 1.3,-1 1,-0.2 2,0.4 1.6,0.8 1.1,1 0.5,1 -0.1,1 -1.1,1.3zM7,-87l-3,1 -2,-0.2 -1,-0.6 -1.1,-1.2 -0.3,-1 0.3,-2 0.6,-1 1.5,-1.3 3,-1 2,0.2 2,1 0.8,1.1 0.3,2 -1.5,2 -1.6,1zM26,-84.5l-1,0.2 -2,-0.6 -2,-1.2 -1.7,-1.9 -0.4,-1 -0.2,-2 1.3,-2.2 1,-0.6 2,-0.1 2,1 1,1.3 1,2.4 0.2,2.2 -0.2,1.4 -1,1.1zM121,-68.1l-2,-2.2 -6,-9.8 -4,-7.9 -0.5,-2 0.5,-0.2 2,2.3 6,9.2 4,8.2 0.3,1.5 -0.3,0.9zM54,-79.8l-3,-0.1 -2.6,-1.1 -3.4,-2 -2.1,-2 -0.9,-2 0.1,-1 0.9,-0.7 1,0.3 11.1,6.4 0.4,1 -1.5,1.2zM73,-81.8l-4,0.5 -5.3,-0.7 1,-1 2.3,-0.1 6.4,1.1 -0.4,0.2zM15,-67.8l-2,0.2 -2,-0.6 -2,-1.6 -1.1,-2.2 -0.2,-2 0.6,-2 1.6,-2 2.1,-1.1 2,-0.1 2,0.6 2,1.6 1.1,2 0.2,2 -0.5,2 -1.4,2 -2.4,1.2zM34,-70.5l-2,-0.1 -1,-0.7 -1.3,-1.7 -0.7,-2 -0.1,-2 0.2,-1 0.9,-1.1 1,-0.2 2,0.9 2.1,2.4 0.5,3 -0.6,1.8 -1,0.7zM-3,-68.5l0,-9.8 1,0.6 1,1.3 0.6,3.4 -0.6,2.6 -1,1.3 -1,0.6zM103,-66.6l-1,0.4 -1,-0.3 -2,-1.7 -1.2,-1.8 -0.9,-2 -0.8,-3 0.2,-2 0.7,-0.8 1,0 1,0.5 2,1.7 1.3,1.6 0.9,2 0.4,2 0,2 -0.6,1.4zM86,-60.9l-2,-1.3 -2,-2.8 -0.9,-3 0.1,-1 0.8,-1 1,0.2 1,0.8 2.2,3 0.8,2 0.2,2 -0.2,0.7 -1,0.4zM51,-62.8l-3,0.6 -2,-0.4 -1.7,-1.4 -0.3,-1 0.2,-1 0.8,-1.1 2,-1 2,-0.3 2,0.4 1.7,1 0.7,1 0.1,1 -0.7,1 -1.8,1.2zM68,-60.9l-3,-0.1 -2.5,-1 -2.1,-2 -0.3,-1 0.4,-1 1.5,-1.2 3,-1 2,-0.1 2,0.7 1.4,1.6 0.3,2 -0.9,2 -1.8,1.1zM13,-54.9l-5,0.4 -6,-0.8 -2.2,-0.7 -1.7,-1 -0.7,-1 0.1,-1 1.2,-1 2.3,-0.5 3,0.1 3,0.6 5.5,1.8 1.5,1 0.6,1 -1.6,1.1zM110,-54.9l-1,0 -1,-0.7 -0.9,-1.4 -0.1,-1.7 1,-0.8 1.7,0.5 0.9,1 0.4,1 -0.1,1 -0.9,1.1zM58,-42.7l-3,-0.2 -2,-1.1 -1.5,-2 -0.5,-1.7 0.2,-2.3 1,-2 1.8,-1.4 2,-0.7 2,0.1 2.3,1 1.7,1.9 0.6,2.1 -0.1,2 -1,2 -1.5,1.5 -2,0.8zM76,-43.9l-1,-0.2 -1.5,-0.9 -0.7,-1 -0.8,-2.1 0,-3.9 1,-1.8 1,-0.6 1,-0.1 2,0.6 1.8,1.9 0.8,2 0.2,2 -0.8,2.4 -1,1.1 -2,0.6zM95,-46.9l-1,0.5 -0.9,-0.6 -1,-2 -0.2,-3 1.1,-1 1,0.8 1,2 0.2,2.2 -0.2,1.1zM126,-47.4l0,-0.8 0,0.8zM8,-36.9l-3,0.4 -2,-0.5 -1.9,-1 -1,-1 -0.4,-1 0.4,-2 1.9,-1.7 3,-0.8 4,0.5 2.2,1 0.9,1 0,1 -0.5,1 -2,2 -1.6,1.1zM28,-35.9l-1,0.4 -2,-0.4 -4.5,-2.1 -3.2,-3 -0.3,-1 0.4,-1 1.4,-1 2.2,-0.5 2,0.3 2.6,1.2 1.4,1.2 1.2,1.8 0.5,2 -0.7,2.1zM52,-26.9l-1,0.2 -2,-0.8 -3,-2.9 -3.8,-5.6 -1.2,-3 0,-1.3 1,-0.4 2,0.9 3,2.5 3.1,3.3 2.3,4 0.2,2 -0.6,1.1zM108,-38.8l-0.4,-0.2 0.4,-0.4 0.3,0.4 -0.3,0.2zM68,-28.9l-2,0.3 -2,-0.2 -2,-1 -0.9,-1.2 -0.3,-2 0.4,-1 1.8,-1.9 2,-1 3,-0.3 1,0.4 1.4,1.8 0.5,2 -0.4,2 -0.7,1 -1.8,1.1zM139,-30.8l-2,0.5 -2,-0.4 -1.4,-1.3 0,-1 1,-1 1.4,-0.5 3,0 1.1,0.5 0.6,1 -0.3,1 -1.4,1.2zM35,-19.8l-1,0.2 -2,-0.5 -2.4,-1.9 -1.3,-2 -0.3,-2 0.2,-2 0.8,-2.3 1,-1.1 1,0 2,1 2,2.1 1.3,2.3 0.5,2 -0.1,2 -0.7,1.3 -1,0.9zM118,-23.7l-2,0.7 -1,-0.4 -0.3,-2.6 0.3,-1.1 1,-1.4 1,-0.7 2,-0.3 1.2,0.5 0.7,1 0,1 -1,2 -1.9,1.3zM0,-21.9l-1,0.3 -2,-0.4 0,-6 1.5,1 1.7,2 0.4,2 -0.6,1.1zM16,-19.8l-1,0.3 -2,-0.1 -2,-1 -1.3,-1.4 -0.4,-1 -0.1,-2 1.1,-2 1.7,-1.3 2,-0.1 1.3,0.4 1.7,1.1 1.4,1.9 0.1,1 -0.4,2 -1.1,1.5 -1,0.7zM98,-22.7l-1,0.1 -0.6,-0.4 -0.4,-1 0.1,-1 0.9,-1.6 1,-0.6 1,0 0.8,1.2 0.1,1 -0.9,1.7 -1,0.6zM126,3l-4.7,0 -0.2,-2 0.1,-3 0.8,-4 2.3,-5 0.9,-3 1.5,-2 3,-2 4.3,-1.9 2.7,-0.1 1,1 -0.2,1 -0.8,1 -8,5 -1.5,2 -0.7,4 0.1,9 -0.6,0zM72,-16l-10,0 -3.9,-1 3.1,-1 5.8,-0.2 5.9,0.2 2.9,1 -3.8,1zM108,-3.6l-1,-0.3 -0.9,-2.1 -0.2,-3 0.3,-2 0.7,-2 1.1,-1.7 2,-1.3 1,0 1,2.3 -0.1,4.7 -0.9,2.4 -1,1.5 -2,1.5zM12,3l-3.6,0 0.8,-2 0,-2 -1.5,-3 -2.7,-2.9 -2,-1.1 -2,-0.6 -4,0 0,-3.9 3,-2.8 2,-0.4 3,0.9 4,2.2 3.3,2.6 0.7,1.2 0.2,1.8 -1.8,6 0,2 0.6,2zM28,-6l-2,0 -4.8,-2 -2.1,-2 -0.1,-1 0.6,-1 2.4,-0.7 2,0.5 2.4,1.2 1.6,1.3 1.1,1.7 -0.1,1 -1,1zM42,-9.5l0,-2.6 1,0.5 0,0.6 -0.2,1 -0.8,0.5zM91,-3.5l0,-6 1,-0.8 0,2.8 -1,4zM145,3.1l-8.2,-0.1 -1.1,-2 0,-2 0.4,-1 1.7,-2 2.2,-1.5 2,-0.7 2,0.3 1,1 1,3.1 0,3.8 -0.2,1 -0.8,0.1zM161,3l-5.1,0 -0.2,-3 0.3,-3.4 1,-2.4 1,-0.6 1,0.2 1.3,1.2 2.3,4 0.2,1 -0.6,2 -0.5,1 -0.7,0zM78,3l-5,0 -0.8,-1 -0.4,-2 0.4,-2 0.8,-1 1,-0.6 2,-0.4 2,0.5 1,0.7 1,1.8 0,2 -1,1.8 -1,0.2zM61,3l-4.5,0 -0.5,-0.3 -1,-1.2 -0.4,-1.5 0.7,-2 1.7,-1.3 2,-0.4 2,0.5 1,0.8 0.7,1.4 0,2 -0.7,1.4 -1,0.6z" fill="#faac6c"/><path d="M14,-139l-6.7,0 3.7,-0.4 3,0.4zM82,-125.3l-8,-3.5 -5.8,-4.2 -0.9,-1 0.8,-1 1.9,-0.7 2,-0.2 3,0.6 2.9,1.3 2.5,2 1.6,2.2 0.8,2.8 -0.1,1 -0.7,0.7zM14,-120.8l-3,0.2 -1.7,-0.4 -1.3,-1 0.1,-1 1.2,-1 2.7,-0.8 2,0.1 2.2,0.7 0.8,1 -0.4,1 -2.6,1.2zM71,-110l-2,-0.1 -2,-0.7 -5.2,-3.2 -1.8,-2 -0.4,-1 0.4,-1.5 1,-0.7 1,-0.1 2,0.5 3.8,1.8 3,2 1.7,2 0.3,1 -0.2,1 -1.6,1zM48,-112.6l-1,0.5 -2.2,-0.9 -0.9,-1 -0.3,-1 0.4,-1.4 1,-0.5 2.3,0.9 0.9,1 0.3,1 -0.5,1.4zM17,-104.7l-2,0.5 -2,-0.2 -1.5,-0.6 -0.3,-1 2.3,-1 2.5,0 2,1 -0.4,1 -0.6,0.3zM62,-94.9l-1,0.4 -2,-0.1 -4.9,-2.4 -2.2,-2 -0.6,-1 0.1,-2 1.1,-1 1.5,-0.2 3,0.8 2.6,1.4 1.3,1 1.7,2 0.3,2 -0.9,1.1zM78,-95.4l-1,0.3 -2,-0.4 -1.5,-1.5 0,-1 0.5,-0.7 1,-0.5 2,0.3 1.3,0.9 0.6,1 -0.2,1 -0.7,0.6zM5,-86.9l-2,0 -1.8,-1.1 -0.5,-1 0.3,-2 1,-1.2 1.4,-0.8 1.6,-0.4 2,0.3 1.5,1.1 0.5,1 0,1 -0.5,1 -1,1 -2.5,1.1zM26,-85.9l-1,0.6 -2,-0.2 -2,-1.4 -0.9,-1.1 -0.6,-2 0.1,-1 0.5,-1 0.9,-0.8 2,-0.3 2,1.2 1.4,2.9 0.1,2 -0.5,1.1zM52,-80.8l-2,-0.2 -3.8,-2 -2,-2 -0.4,-1 0.2,-0.5 1,-0.2 1,0.4 5.8,3.3 1.1,1 -0.2,1 -0.7,0.2zM114,-80.5l0,-1.3 0.3,0.8 -0.3,0.5zM115,-78.6l-0.5,-1.4 0.5,-0.3 0.6,1.3 -0.6,0.4zM16,-68.6l-2,0.6 -2,-0.3 -2,-1.1 -1.2,-1.6 -0.6,-2 0.2,-2 1.1,-2 1.5,-1.2 2,-0.6 2,0.3 2,1.1 1.1,1.4 0.7,2 -0.1,2 -1,2 -1.7,1.4zM34,-71.9l-1,0.3 -1,-0.2 -1,-0.7 -1,-1.5 -0.1,-3 0.9,-1 1.2,0 1,0.6 1.2,1.4 0.6,2 -0.1,1 -0.7,1.1zM116,-76.9l-0.4,-1.1 0.4,-0.6 0.4,1.6 -0.4,0.1zM-2,-70l-1,0.7 0,-8.2 1.5,1.5 0.6,2 -0.1,2.1 -1,1.9zM102,-68.1l-1,0.1 -1,-0.6 -1.8,-2.4 -0.9,-3 0,-1 0.7,-1.2 1,0.1 1,0.6 2,2.5 0.7,3 -0.7,1.9zM117,-75.6l0,-1.1 0,1.1zM86,-62.6l-1,0 -0.6,-0.4 -1.6,-2 -0.7,-2 0.2,-1 0.7,-0.5 1,0.5 1,1.1 1,1.9 0.2,1 -0.2,1.4zM49,-63l-2,-0.2 -1.3,-0.8 -0.5,-1 0.2,-1 1,-1 1.6,-0.6 2,0.1 1.2,0.5 0.9,1 0,1 -0.7,1 -2.4,1zM68,-61.8l-2,0.4 -3,-1 -1.6,-1.6 -0.1,-1 0.4,-1 1.2,-1 2.1,-0.6 2,0 1.4,0.6 1,1 0.4,2 -0.4,1 -1.4,1.2zM9,-55l-4,-0.2 -3.7,-0.8 -1.9,-1 -0.8,-1 0.3,-1 2.1,-0.9 4,0.1 3.5,0.8 2.5,1 1.4,1 0.1,1 -0.5,0.3 -3,0.7zM59,-43.5l-2,0.4 -2,-0.3 -2,-1.3 -1,-1.3 -0.6,-2 0.3,-2 1.1,-2 1.3,-1 1.9,-0.6 2,0 2,0.9 1.5,1.7 0.7,2 -0.2,2 -1,2 -2,1.5zM78,-46l-1,0.8 -2,0 -1,-0.6 -0.9,-1.2 -0.6,-2 0.1,-2 0.4,-1.2 1,-1 2,-0.1 1,0.6 1.4,1.7 0.5,3 -0.9,2zM8,-37.7l-3,0.6 -2.6,-0.9 -1.1,-1 -0.5,-1 0.6,-2 1.6,-1.3 2,-0.5 2,0 2.5,0.8 1,1 0.3,1 -1.1,2 -1.7,1.3zM27,-36.8l-1,0.2 -2,-0.3 -3.8,-2.1 -1.7,-2 -0.1,-1 0.5,-1 1.1,-0.6 2,-0.3 2,0.6 2,1.2 1,1.1 0.8,2 0,1 -0.8,1.2zM51,-27.8l-1,0 -2,-1.2 -3,-3.3 -2.6,-4.7 -0.2,-1 0.4,-1 1.4,0.1 1,0.6 4.5,4.3 1.3,2 0.8,2 0.1,1 -0.7,1.2zM68,-29.6l-3,0.5 -2.2,-0.9 -1.2,-2 0.3,-2 0.8,-1 1.3,-1 2,-0.7 2,0.2 1,0.7 1,1.8 0,2 -1,1.8 -1,0.6zM138,-31.7l-2,0 -0.4,-0.3 0,-1 1.4,-0.5 1,0.1 0.7,0.4 -0.3,1 -0.4,0.3zM34,-20.7l-1,0.1 -2,-0.9 -2,-2.5 -0.3,-2 0.3,-2.1 1,-1.6 1,-0.4 1,0.1 1.4,1 2.2,3 0.3,3 -0.9,1.8 -1,0.5zM118,-24.8l-1,0.3 -1,-0.4 -0.2,-1.1 0.3,-1 0.9,-1 1,-0.3 1.2,0.3 0.4,1 -0.3,1 -1.3,1.2zM-1,-22.9l-1,0.3 -1,-0.2 0,-4.5 2.3,2.3 0.2,1 -0.5,1.1zM16,-20.7l-1,0.4 -2,-0.1 -2.3,-1.6 -0.6,-1 -0.1,-2 1,-1.8 1,-0.8 1,-0.3 2,0.3 2.2,1.6 0.5,1 0,2 -0.7,1.4 -1,0.9zM128,-12.8l-1,0.2 -0.5,-1.4 1.3,-2 3,-2 2.2,-0.9 2,-0.3 0.9,0.2 0.2,1 -0.7,1 -2.9,2 -4.5,2.2zM10,-2.7l-5,-5.1 -2,-0.9 -5.6,-1.3 -0.2,-1 0.6,-1 2.2,-2.1 2,-0.4 3,0.8 4.6,2.7 2,2 0.6,2 -0.3,2 -0.9,1.9 -1,0.4zM109,-5.8l-1,0.2 -1,-1 -0.3,-3.4 0.3,-1.4 1,-1.9 1,-1 1,-0.2 1,0.8 0.2,0.7 0.2,3 -0.6,2 -0.8,1.4 -1,0.8zM27,-6.8l-2,-0.1 -2.6,-1.1 -1.3,-1 -0.7,-1 0.1,-1 1.5,-0.8 1,0 3,1.2 1.7,1.6 0.3,1 -0.4,1 -0.6,0.2zM126,3l-4.2,0 -0.1,-1 -0.1,-3 0.4,-3 1,-2.8 1,-1.5 1,-0.9 0.8,1.2 0.1,1 0.3,7 -0.2,3zM145,3l-7.6,0 -0.7,-1 -0.5,-2 0.5,-2 0.7,-1 1.6,-1.4 2,-1 2,0 1,0.5 1,1.4 0.6,2.5 -0.2,3 -0.4,1zM161,3l-4.5,0 -0.3,-2 0.1,-3 0.7,-2.3 1,-1 1,0.1 1,0.8 2,3.4 0.3,1 -1.3,3zM77,3l-2.5,0 -1.5,-1.1 -0.4,-0.9 0,-2 0.5,-1 0.9,-0.8 1,-0.4 2,0 1,0.5 1,1 0.5,1.7 -0.1,1 -1.4,1.7 -1,0.3zM61,2.2l-2,0.7 -1,-0.1 -1.6,-0.8 -0.7,-1 -0.2,-1 0.5,-1.5 2,-1.3 2,0.1 1,0.5 0.9,1.2 0.2,1 -0.2,1 -0.9,1.2zM10,3l-0.3,0 0.3,-0.3 0.7,0.3 -0.7,0z" fill="#f58a5b"/><path d="M81,-126.9l-3,-0.8 -3.1,-1.3 -4,-3 -1.6,-2 1,-1 1.7,-0.3 2.4,0.3 2.6,1.1 2.6,1.9 1.6,2 0.5,2 -0.7,1.1zM13,-121.9l-1.8,-0.1 -0.5,-1 2.3,-0.6 1.3,0.6 -1.3,1.1zM70,-110.8l-2,-0.2 -2,-0.8 -3.4,-2.2 -1.7,-2 -0.2,-1 0.4,-1 1.9,-0.4 2,0.5 4.9,2.9 1.6,2 0.1,1 -0.6,0.9 -1,0.3zM61,-95.7l-1,0.4 -2,-0.3 -3,-1.4 -1.3,-1 -1.3,-2 0,-1 0.6,-1 1,-0.3 2,0.2 4,2.1 1.6,2 0.2,1 -0.8,1.3zM5,-87.9l-2,-0.3 -0.8,-0.8 -0.1,-1 0.4,-1 1.3,-1 2.2,-0.2 1.5,1.2 0.1,1 -0.6,1.1 -2,1zM25,-86.6l-1,0.4 -1,-0.2 -2,-1.6 -0.6,-2 0.6,-1.4 1,-0.6 1,-0.1 1.6,1.1 1,2 0.1,1 -0.7,1.4zM15,-68.8l-2,0.2 -1.4,-0.4 -1.6,-1.2 -1.1,-1.8 -0.2,-2 0.7,-2 0.9,-1 1.7,-1 3,0 2,1.4 1,1.6 0.3,2 -0.6,2 -0.7,1 -2,1.2zM-3,-70.3l0,-6.3 1.3,1.6 0.3,2 -0.6,1.8 -1,0.9zM33,-73.3l-1,-0.1 -0.6,-0.6 -0.5,-1 0.2,-1 0.9,-0.4 1,0.6 0.4,1.8 -0.4,0.7zM101,-70.6l-1.2,-0.4 -0.8,-1.6 0,-0.8 1,-0.3 0.6,0.7 0.5,1 -0.1,1.4zM50,-64.7l-1,0.5 -1,-0.1 -1,-0.7 0.3,-1 1.7,-0.4 1.2,0.4 0.1,1 -0.3,0.3zM68,-62.9l-2,0.7 -2,-0.5 -1.4,-1.3 -0.1,-1 0.5,-1 1,-0.6 2,-0.3 1,0.2 1.2,0.7 0.5,1 0,1 -0.7,1.1zM10,-55.9l-3,0.3 -3.6,-0.4 -2.5,-1 -0.8,-1 0.9,-1 1,-0.2 4.4,0.2 3,1 1.2,1 -0.6,1.1zM58,-43.8l-2,0.1 -2,-0.8 -1.4,-1.5 -0.6,-1.7 0,-1.4 0.7,-1.9 1.3,-1.3 2,-0.8 2,0.1 2,1 1,1.2 0.6,1.8 -0.2,2 -0.4,1.1 -1,1.1 -2,1zM77,-46.9l-1,0.5 -1,-0.2 -1.2,-1.4 -0.4,-2 0.3,-1 1.2,-1 1.1,0.1 1,0.8 0.6,1.1 0,2 -0.6,1.1zM6,-37.9l-2,-0.3 -1.3,-0.8 -0.6,-1 0.1,-1 0.7,-1 2.1,-1 2,0.1 1,0.3 0.9,0.6 0.4,1 -0.2,1 -0.8,1 -2.3,1.1zM26,-37.8l-2,0.1 -2.6,-1.3 -1.6,-2 -0.1,-1 1.1,-1 1.2,-0.2 1.1,0.2 1.9,0.9 1.7,2.1 0.2,1 -0.9,1.2zM50,-29.1l-2,-0.8 -2.9,-3.1 -1.5,-3 -0.1,-1 0.5,-0.6 2,0.8 3,3.1 1.4,2.7 0.2,1 -0.6,0.9zM67,-29.9l-2,0.1 -1,-0.4 -1.1,-0.8 -0.5,-1 0.3,-2 0.9,-1 1.4,-0.8 2.1,-0.2 1.5,1 0.5,1 -0.1,2.3 -1,1.2 -1,0.6zM33,-21.8l-2,-0.8 -1,-1.2 -0.4,-1.2 0.1,-2 0.5,-1 0.8,-0.6 1,-0.1 1.2,0.7 0.9,1 0.8,2 -0.2,2 -0.7,0.9 -1,0.3zM16,-21.8l-2,0.7 -2.1,-0.9 -1.1,-2 0.2,-1.2 1,-1.4 1,-0.6 1,0 1,0.2 1.3,1 0.7,1 0.1,1 -0.2,1 -0.9,1.2zM-3,-24l0,-2.2 0.9,1.2 -0.9,1zM130,-14.8l-1.2,-0.2 0.5,-1 1.3,-1 2.4,-1 0.8,1 -1.3,1 -2.5,1.2zM10,-5.5l-1,-0.3 -3,-2.6 -2,-1.2 -4,-1.4 -0.1,-1 1.1,-0.8 1.5,-0.2 2.5,0.8 2.2,1.2 1.8,1.3 1.4,1.7 0.2,1 -0.6,1.5zM109,-7.7l-1,-0.3 -0.3,-2 0.3,-1.2 1,-1.3 1,0.1 0.4,1.4 -0.3,2 -1.1,1.3zM26,-7.9l-2,-0.2 -1.4,-0.9 -0.6,-1 1,-0.7 2,0.5 1.3,1.2 -0.3,1.1zM125,3l-2.4,0 -0.3,-2 0.3,-4 0.4,-1.5 1,-1.5 1,0.6 0.4,2.4 0.1,4 -0.1,2 -0.4,0zM144,3l-5.8,0 -0.2,-0.3 -0.9,-1.7 0,-2 0.9,-1.7 1,-1 2,-1 1,-0.1 1,0.3 1,0.8 0.8,1.7 0.3,2 -0.3,2 -0.4,1 -0.4,0zM160,3l-2.6,0 -0.4,-1 0,-4 1,-1.9 0.4,-0.1 0.6,-0.1 1,0.7 1,1.5 0.6,1.9 -0.6,1.9 -1,1.1zM77,2.3l-2,0 -1.5,-1.3 -0.2,-1 0.2,-1 0.9,-1 1.6,-0.5 1,0.2 1.5,1.3 0.2,1 -0.2,1 -1.5,1.3zM60,1.6l-1,0.4 -1,-0.2 -1,-0.7 -0.4,-1.1 0.4,-1.1 1,-0.7 1,-0.2 1.7,1 0.3,1.2 -1,1.4z" fill="#ea6245"/><path d="M80,-128.7l-2,0 -3.2,-1.3 -2.5,-2 -0.8,-1 0,-1 2.5,-0.3 3.2,1.3 1.3,1 1.5,1.7 0.3,1.3 -0.3,0.3zM69,-111.8l-2,-0.3 -3.3,-1.9 -1.6,-2 0.2,-1 0.7,-0.4 2,0.2 3.9,2.2 1.3,2 -0.4,1 -0.8,0.2zM60,-96.7l-1,0.3 -1,0 -3,-1.5 -1,-1.1 -0.3,-1 0.3,-0.8 1,-0.5 1,0.1 2.7,1.2 1.6,2 -0.3,1.3zM24,-87.9l-1,0.1 -1,-0.9 0,-1.4 1,-0.4 0.9,0.5 0.4,1 -0.3,1.1zM15,-69.5l-1,0.2 -2,-0.3 -1,-0.5 -1.4,-1.9 -0.2,-2 0.3,-1 0.5,-1 1.8,-1.3 1,-0.2 2,0.3 1.7,1.2 0.6,1 0.3,2 -0.2,1 -1.4,2 -1,0.5zM-3,-71.5l0,-3.9 0.7,1.4 0.1,1 -0.8,1.5zM67,-64l-1,0.5 -1,-0.1 -0.6,-0.4 -0.2,-1 0.8,-0.5 1,-0.1 1.1,0.6 -0.1,1zM8,-56.8l-2,0.3 -2,-0.3 -0.8,-0.2 -0.7,-1 1.5,-0.4 2,0.2 1.1,0.2 1.2,1 -0.3,0.2zM59,-44.9l-1,0.4 -2,0.1 -2,-1 -1,-1.3 -0.4,-1.3 0.3,-2 1.9,-2 1.2,-0.4 2,0.1 2,1.2 0.7,1.1 0.3,1 -0.2,2 -0.8,1.3 -1,0.8zM24,-38.9l-2.1,-1.1 -0.5,-1 0.6,-1 1.1,0 1.7,1 0.5,1 -0.3,0.9 -1,0.2zM7,-39.8l-1,0.5 -1,-0.1 -0.9,-0.6 0.2,-1 1.7,-0.6 1.2,0.6 -0.2,1.2zM48,-31.1l-1.9,-1.9 -1,-2 0.9,-0.5 2,1.8 1,1.7 -1,0.9zM67,-30.9l-2,0.1 -1.4,-1.2 -0.2,-1 0.4,-1 1.2,-1 2,0 1,1 0,2 -1,1.1zM15,-22.5l-1,0.2 -1,-0.3 -1,-1.4 0.1,-1 0.9,-1.1 1.9,0.1 1,1 0.1,1.2 -1,1.3zM33,-23.7l-1,0 -1.1,-1.3 0.1,-1.1 1,-0.6 1.1,0.7 0.3,1 -0.4,1.3zM143,3l-3.6,0 -1.4,-1.9 0,-2.2 1,-1.6 1,-0.7 2,-0.4 1,0.5 0.9,1.3 0.3,3 -0.3,1 -0.9,1zM159,2.4l-1,-1 -0.2,-1.4 0.2,-1.4 1,-1 1,0.5 0.6,1.9 -0.6,1.9 -1,0.5zM77,1l-1,0.3 -1,-0.3 -0.5,-1 0.5,-1 1,-0.3 1,0.3 0.5,1 -0.5,1zM124,1.9l-0.4,-1.9 0.4,-1.9 0.3,1.9 -0.3,1.9z" fill="#da392d"/><path d="M77,-130.8l-1.2,-0.2 -1.1,-1 0.3,-0.3 1.3,0.3 1,1 -0.3,0.2zM68,-113.1l-1,0 -2,-0.9 -0.9,-1 -0.1,-1 1.6,0 1.8,1 0.9,1 -0.3,0.9zM58,-98l-1,-0.1 -1.1,-0.9 0.1,-0.3 1,-0.2 1,0.5 0,1zM15,-70.4l-2,0.3 -1.8,-0.9 -0.7,-1 -0.3,-2 0.8,-1.7 1,-0.7 2,-0.3 1.6,0.7 0.8,1 0.4,2 -0.2,1 -0.7,1 -0.9,0.6zM59,-45.8l-1,0.5 -2,0.1 -2,-1.4 -0.6,-1.4 0.1,-1 0.3,-1 0.9,-1 2.3,-0.7 2,0.7 1,1.5 0.2,1.5 -0.3,1 -0.9,1.2zM66,-32.3l-1.1,-0.7 1.1,-0.7 0.5,0.7 -0.5,0.7zM142,2.5l-1,0.1 -1,-0.4 -1,-1.5 0.1,-1.7 0.9,-1.2 1,-0.4 1,0.1 1.2,1.5 0,2 -1.2,1.5z" fill="#be2624"/><path d="M15,-71.6l-1,0.6 -1,-0.1 -1.4,-0.9 -0.4,-1 0,-1 0.8,-1.3 1,-0.4 1,0 1.2,0.7 0.6,1 0,1 -0.8,1.4zM58,-46.4l-1,0.4 -1,-0.2 -1.1,-0.8 -0.4,-1 0,-1 0.5,-1 2,-0.7 1.5,0.7 0.6,1 0.1,1 -0.5,1 -0.7,0.6z" fill="#8b1618"/></g></g><clipPath id="clipe"><rect x="800" y="653.1" width="393.8" height="402.1"/></clipPath><radialGradient id="gfade"><stop offset="0" stop-color="#f2ebc0" stop-opacity="0.55"/><stop offset="0.55" stop-color="#f2ebc0" stop-opacity="0.42"/><stop offset="1" stop-color="#f2ebc0" stop-opacity="0"/></radialGradient><linearGradient id="gcbe" x1="0" y1="1" x2="0" y2="0"><stop offset="0.000" stop-color="#600c10"/><stop offset="0.025" stop-color="#96181a"/><stop offset="0.050" stop-color="#b22222"/><stop offset="0.100" stop-color="#d02c26"/><stop offset="0.150" stop-color="#e04232"/><stop offset="0.200" stop-color="#ec6a4a"/><stop offset="0.250" stop-color="#f58c5c"/><stop offset="0.300" stop-color="#faac6c"/><stop offset="0.350" stop-color="#fdc880"/><stop offset="0.400" stop-color="#fcdc96"/><stop offset="0.450" stop-color="#f7e8b0"/><stop offset="0.500" stop-color="#f3ecc2"/><stop offset="0.540" stop-color="#eef0de"/><stop offset="0.580" stop-color="#e0eef0"/><stop offset="0.650" stop-color="#bad8e8"/><stop offset="0.725" stop-color="#8ebada"/><stop offset="0.800" stop-color="#6496c6"/><stop offset="0.875" stop-color="#4876b0"/><stop offset="0.950" stop-color="#385e98"/><stop offset="1.000" stop-color="#2e4c80"/></linearGradient><clipPath id="clipf"><circle cx="1689.7" cy="862.8" r="192.7"/></clipPath><linearGradient id="gcbf" x1="0" y1="1" x2="0" y2="0"><stop offset="0.0" stop-color="#000000"/><stop offset="0.06" stop-color="#120600"/><stop offset="0.15" stop-color="#3e1600"/><stop offset="0.25" stop-color="#6e2800"/><stop offset="0.35" stop-color="#a83a00"/><stop offset="0.45" stop-color="#e65000"/><stop offset="0.5" stop-color="#ff5c02"/><stop offset="0.6" stop-color="#ff801a"/><stop offset="0.7" stop-color="#ffa032"/><stop offset="0.8" stop-color="#ffc34b"/><stop offset="0.9" stop-color="#ffe466"/><stop offset="1.0" stop-color="#ffff80"/></linearGradient></defs>
<g id="panel-a"><text x="1" y="59" font-size="43.5" font-weight="bold">a</text><polygon points="240.2,76.5 424,181 423.3,393.4 240.2,499 57.7,393.4 58.4,181" fill="#c8c8c8" stroke="#3a3a3a" stroke-width="0.9"/><circle cx="179.3" cy="182.5" r="39.2" fill="#b4b4f0" stroke="#2a2aee" stroke-width="0.9"/><circle cx="272.6" cy="199.3" r="39.2" fill="#b4b4f0" stroke="#2a2aee" stroke-width="0.9"/><circle cx="362.3" cy="287.5" r="39.2" fill="#b4b4f0" stroke="#2a2aee" stroke-width="0.9"/><circle cx="301.7" cy="359.6" r="39.2" fill="#b4b4f0" stroke="#2a2aee" stroke-width="0.9"/><circle cx="179.3" cy="393.4" r="39.2" fill="#b4b4f0" stroke="#2a2aee" stroke-width="0.9"/><circle cx="147.6" cy="304.6" r="39.2" fill="#b4b4f0" stroke="#2a2aee" stroke-width="0.9"/><circle cx="298.4" cy="181.8" r="39.3" fill="none" stroke="#fff" stroke-width="4" stroke-dasharray="4.1 4.1"/><circle cx="125.7" cy="282.9" r="39.3" fill="none" stroke="#fff" stroke-width="4" stroke-dasharray="4.1 4.1"/><circle cx="303.4" cy="384.7" r="39.3" fill="none" stroke="#fff" stroke-width="4" stroke-dasharray="4.1 4.1"/><line x1="58.4" y1="3.8" x2="58.4" y2="200.6" stroke="#000" stroke-width="2.2"/><line x1="424" y1="0" x2="424" y2="198.2" stroke="#000" stroke-width="2.2"/><line x1="84.5" y1="20.6" x2="407" y2="20.6" stroke="#000" stroke-width="1.3"/><polyline points="99.15,12.88 84,20.6 99.15,28.32" fill="none" stroke="#000" stroke-width="2.3" stroke-linejoin="miter"/><polyline points="392.35,28.32 407.5,20.6 392.35,12.88" fill="none" stroke="#000" stroke-width="2.3" stroke-linejoin="miter"/><text x="229" y="50.4" font-size="38" font-style="italic" style='font-family:"Liberation Serif", "DejaVu Serif", serif'>a<tspan font-size="20" font-style="normal" dy="6.6" dx="1">0</tspan></text><line x1="136.2" y1="102.3" x2="241.3" y2="283.4" stroke="#000" stroke-width="2.4"/><line x1="241.3" y1="283.4" x2="136.7" y2="463.6" stroke="#000" stroke-width="2.4"/><line x1="241.3" y1="283.4" x2="452.3" y2="283.3" stroke="#000" stroke-width="2.4"/><line x1="241.3" y1="283.4" x2="341" y2="102.3" stroke="#000" stroke-width="2.4" stroke-dasharray="6.5 2.2"/><line x1="241.3" y1="283.4" x2="34" y2="287.6" stroke="#000" stroke-width="2.4" stroke-dasharray="6.5 2.2"/><line x1="241.3" y1="283.4" x2="349.3" y2="461.1" stroke="#000" stroke-width="2.4" stroke-dasharray="6.5 2.2"/><text x="255.2" y="282.4" font-size="27.5">O</text><text x="277.6" y="270.5" font-size="15">’</text><line x1="278" y1="147.4" x2="296.2" y2="178.2" stroke="#000" stroke-width="2.2"/><line x1="249.1" y1="163.3" x2="265.6" y2="195.1" stroke="#000" stroke-width="2.2"/><line x1="296.2" y1="178.2" x2="267.5" y2="194.1" stroke="#000" stroke-width="2.4"/><polyline points="272.89,184.33 265.6,195.1 278.59,194.67" fill="none" stroke="#000" stroke-width="2.4" stroke-linejoin="miter"/><line x1="256.5" y1="169.8" x2="280.6" y2="157.4" stroke="#000" stroke-width="1.2"/><polyline points="276.61,164.08 281.9,156.8 272.9,156.8" fill="none" stroke="#000" stroke-width="2.0" stroke-linejoin="miter"/><polyline points="260.49,163.12 255.2,170.4 264.2,170.4" fill="none" stroke="#000" stroke-width="2.0" stroke-linejoin="miter"/><path d="M284.5,187.5 Q286.5,192.5 292.5,193.6" fill="none" stroke="#000" stroke-width="1.6"/><text x="248.3" y="147.4" font-size="30">m</text><text x="247.8" y="219" font-size="29">θ<tspan font-size="20" dy="7.5">r</tspan></text><line x1="124" y1="287" x2="152.3" y2="306.6" stroke="#000" stroke-width="2.4"/><polyline points="141.02,305.96 153.9,307.7 147.74,296.25" fill="none" stroke="#000" stroke-width="2.4" stroke-linejoin="miter"/><path d="M141,287.4 Q143.6,291.5 142.6,296" fill="none" stroke="#000" stroke-width="1.6"/><text x="158.5" y="309.8" font-size="29">θ<tspan font-size="20" dy="7.5">r</tspan></text><line x1="303.2" y1="351" x2="303.2" y2="381.5" stroke="#000" stroke-width="2.4"/><polyline points="309.1,360.78 303.2,349.2 297.3,360.78" fill="none" stroke="#000" stroke-width="2.4" stroke-linejoin="miter"/><path d="M294.6,369.5 Q298.5,366.6 303,367" fill="none" stroke="#000" stroke-width="1.6"/><text x="281.6" y="343.4" font-size="29">θ<tspan font-size="20" dy="7.5">r</tspan></text><line x1="363.3" y1="283.4" x2="363.3" y2="325.6" stroke="#000" stroke-width="2.2"/><line x1="402.7" y1="283.4" x2="402.7" y2="325.6" stroke="#000" stroke-width="2.2"/><line x1="364.5" y1="293.4" x2="401.5" y2="293.4" stroke="#000" stroke-width="1.2"/><polyline points="374.39,287.4 364,293.4 374.39,299.4" fill="none" stroke="#000" stroke-width="2.3" stroke-linejoin="miter"/><polyline points="391.61,299.4 402,293.4 391.61,287.4" fill="none" stroke="#000" stroke-width="2.3" stroke-linejoin="miter"/><text x="379.3" y="329.3" font-size="37" font-weight="bold" textLength="9.5" lengthAdjust="spacingAndGlyphs">r</text><line x1="423.4" y1="182.1" x2="514.3" y2="182.1" stroke="#000" stroke-width="2.2"/><line x1="422.6" y1="392.4" x2="514.3" y2="392.4" stroke="#000" stroke-width="2.2"/><line x1="455.1" y1="184.5" x2="456.9" y2="390.6" stroke="#000" stroke-width="1.3"/><polyline points="462.42,198.94 455.1,183.6 447.51,198.81" fill="none" stroke="#000" stroke-width="2.3" stroke-linejoin="miter"/><polyline points="449.58,376.06 456.9,391.4 464.49,376.19" fill="none" stroke="#000" stroke-width="2.3" stroke-linejoin="miter"/><text x="474.5" y="294.2" font-size="40" font-style="italic" style='font-family:"Liberation Serif", "DejaVu Serif", serif'>a</text></g>
<g id="panel-b"><text x="524" y="59" font-size="43.5" font-weight="bold">b</text><path d="M662.9,70.5L707.5,92.5L707.5,151.1L662.9,173.1L618.3,151.1L618.3,92.5ZM752.1,70.5L796.7,92.5L796.7,151.1L752.1,173.1L707.5,151.1L707.5,92.5ZM841.3,70.5L885.9,92.5L885.9,151.1L841.3,173.1L796.7,151.1L796.7,92.5ZM618.3,151.1L662.9,173.1L662.9,231.7L618.3,253.7L573.7,231.7L573.7,173.1ZM707.5,151.1L752.1,173.1L752.1,231.7L707.5,253.7L662.9,231.7L662.9,173.1ZM796.7,151.1L841.3,173.1L841.3,231.7L796.7,253.7L752.1,231.7L752.1,173.1ZM885.9,151.1L930.5,173.1L930.5,231.7L885.9,253.7L841.3,231.7L841.3,173.1ZM573.7,231.7L618.3,253.7L618.3,312.3L573.7,334.3L529.1,312.3L529.1,253.7ZM662.9,231.7L707.5,253.7L707.5,312.3L662.9,334.3L618.3,312.3L618.3,253.7ZM752.1,231.7L796.7,253.7L796.7,312.3L752.1,334.3L707.5,312.3L707.5,253.7ZM841.3,231.7L885.9,253.7L885.9,312.3L841.3,334.3L796.7,312.3L796.7,253.7ZM930.5,231.7L975.1,253.7L975.1,312.3L930.5,334.3L885.9,312.3L885.9,253.7ZM618.3,312.3L662.9,334.3L662.9,392.9L618.3,414.9L573.7,392.9L573.7,334.3ZM707.5,312.3L752.1,334.3L752.1,392.9L707.5,414.9L662.9,392.9L662.9,334.3ZM796.7,312.3L841.3,334.3L841.3,392.9L796.7,414.9L752.1,392.9L752.1,334.3ZM885.9,312.3L930.5,334.3L930.5,392.9L885.9,414.9L841.3,392.9L841.3,334.3ZM662.9,392.9L707.5,414.9L707.5,473.5L662.9,495.5L618.3,473.5L618.3,414.9ZM752.1,392.9L796.7,414.9L796.7,473.5L752.1,495.5L707.5,473.5L707.5,414.9ZM841.3,392.9L885.9,414.9L885.9,473.5L841.3,495.5L796.7,473.5L796.7,414.9Z" fill="none" stroke="#41729f" stroke-width="1.7" stroke-linejoin="round"/><circle cx="738.8" cy="258.9" r="11" fill="#b3b0f0"/><circle cx="763.3" cy="254.6" r="11" fill="#b3b0f0"/><circle cx="720.9" cy="280.5" r="11" fill="#b3b0f0"/><circle cx="779.5" cy="281.9" r="11" fill="#b3b0f0"/><circle cx="738.8" cy="304.7" r="11" fill="#b3b0f0"/><circle cx="763.3" cy="309.6" r="11" fill="#b3b0f0"/><line x1="781" y1="284.8" x2="781" y2="55" stroke="#000" stroke-width="2.6"/><polygon points="781,37 794.5,63 781,55.72 767.5,63" fill="#000"/><line x1="779.7" y1="283.6" x2="1020" y2="283.6" stroke="#000" stroke-width="2.6"/><polygon points="1038,283.6 1012,297.1 1019.28,283.6 1012,270.1" fill="#000"/><line x1="781" y1="283.6" x2="887.1" y2="207.2" stroke="#000" stroke-width="2.2" stroke-dasharray="6.5 2.2"/><line x1="887.1" y1="207.2" x2="887.1" y2="283.6" stroke="#000" stroke-width="1.8" stroke-dasharray="6.5 2.2"/><path d="M807,264.9 Q813.5,273 812,283.6" fill="none" stroke="#000" stroke-width="1.5"/><text x="801.5" y="45.4" font-size="30">y</text><text x="997.5" y="268.2" font-size="30">x</text><text x="866.5" y="196.9" font-size="27.5">O</text><text x="889" y="185" font-size="15">’</text><text x="783.3" y="309.7" font-size="27.5">O</text><text x="823.8" y="276.3" font-size="29">θ<tspan font-size="20" dy="7.5">r</tspan></text></g>
<g id="panel-c"><text x="1056" y="59" font-size="43.5" font-weight="bold">c</text><rect x="1154.4" y="72.6" width="537.3" height="422.3" fill="#c0c0c0"/><line x1="1243.95" y1="72.6" x2="1243.95" y2="494.9" stroke="#8f8f8f" stroke-width="1" stroke-dasharray="6 4"/><line x1="1333.5" y1="72.6" x2="1333.5" y2="494.9" stroke="#8f8f8f" stroke-width="1" stroke-dasharray="6 4"/><line x1="1423.05" y1="72.6" x2="1423.05" y2="494.9" stroke="#8f8f8f" stroke-width="1" stroke-dasharray="6 4"/><line x1="1512.6" y1="72.6" x2="1512.6" y2="494.9" stroke="#8f8f8f" stroke-width="1" stroke-dasharray="6 4"/><line x1="1602.15" y1="72.6" x2="1602.15" y2="494.9" stroke="#8f8f8f" stroke-width="1" stroke-dasharray="6 4"/><polygon points="1154.4,231.9 1243.95,225 1333.5,231.9 1423.05,225 1512.6,231.9 1602.15,225 1691.7,231.9 1691.7,277 1602.15,283.2 1512.6,277 1423.05,283.2 1333.5,277 1243.95,283.2 1154.4,277" fill="url(#gband)"/><polyline points="1154.4,277 1243.95,283.2 1333.5,277 1423.05,283.2 1512.6,277 1602.15,283.2 1691.7,277" fill="none" stroke="#222" stroke-width="1.3"/><polyline points="1154.4,231.9 1243.95,225 1333.5,231.9 1423.05,225 1512.6,231.9 1602.15,225 1691.7,231.9" fill="none" stroke="#777" stroke-width="0.6" opacity="0.6"/><rect x="1154.4" y="72.6" width="537.3" height="422.3" fill="none" stroke="#111" stroke-width="1.6"/><line x1="1693.3" y1="73.6" x2="1693.3" y2="496.9" stroke="#bbb" stroke-width="1.2"/><line x1="1154.4" y1="496.5" x2="1693.7" y2="496.5" stroke="#bbb" stroke-width="1.2"/><line x1="1154.4" y1="125.6" x2="1164.4" y2="125.6" stroke="#000" stroke-width="1.4"/><text x="1143.6" y="135.9" font-size="29.8" text-anchor="end">0.36</text><line x1="1154.4" y1="178.4" x2="1159.4" y2="178.4" stroke="#000" stroke-width="1.4"/><line x1="1154.4" y1="231.2" x2="1164.4" y2="231.2" stroke="#000" stroke-width="1.4"/><text x="1143.6" y="241.5" font-size="29.8" text-anchor="end">0.34</text><line x1="1154.4" y1="284" x2="1159.4" y2="284" stroke="#000" stroke-width="1.4"/><line x1="1154.4" y1="336.8" x2="1164.4" y2="336.8" stroke="#000" stroke-width="1.4"/><text x="1143.6" y="347.1" font-size="29.8" text-anchor="end">0.32</text><line x1="1154.4" y1="389.6" x2="1159.4" y2="389.6" stroke="#000" stroke-width="1.4"/><line x1="1154.4" y1="442.4" x2="1164.4" y2="442.4" stroke="#000" stroke-width="1.4"/><text x="1143.6" y="452.7" font-size="29.8" text-anchor="end">0.30</text><line x1="1243.95" y1="494.9" x2="1243.95" y2="486.4" stroke="#000" stroke-width="1.4"/><line x1="1333.5" y1="494.9" x2="1333.5" y2="486.4" stroke="#000" stroke-width="1.4"/><line x1="1423.05" y1="494.9" x2="1423.05" y2="486.4" stroke="#000" stroke-width="1.4"/><line x1="1512.6" y1="494.9" x2="1512.6" y2="486.4" stroke="#000" stroke-width="1.4"/><line x1="1602.15" y1="494.9" x2="1602.15" y2="486.4" stroke="#000" stroke-width="1.4"/><line x1="1691.7" y1="494.9" x2="1691.7" y2="486.4" stroke="#000" stroke-width="1.4"/><text x="1155" y="530.2" font-size="29.8" text-anchor="middle">0</text><text x="1244.55" y="530.2" font-size="29.8" text-anchor="middle"><tspan style='font-family:"DejaVu Sans",sans-serif' font-size="29.5" textLength="20.2" lengthAdjust="spacingAndGlyphs">π</tspan>/3</text><text x="1334.1" y="530.2" font-size="29.8" text-anchor="middle">2<tspan style='font-family:"DejaVu Sans",sans-serif' font-size="29.5" textLength="20.2" lengthAdjust="spacingAndGlyphs">π</tspan>/3</text><text x="1423.65" y="530.2" font-size="29.8" text-anchor="middle"><tspan style='font-family:"DejaVu Sans",sans-serif' font-size="29.5" textLength="20.2" lengthAdjust="spacingAndGlyphs">π</tspan></text><text x="1513.2" y="530.2" font-size="29.8" text-anchor="middle">4<tspan style='font-family:"DejaVu Sans",sans-serif' font-size="29.5" textLength="20.2" lengthAdjust="spacingAndGlyphs">π</tspan>/3</text><text x="1602.75" y="530.2" font-size="29.8" text-anchor="middle">5<tspan style='font-family:"DejaVu Sans",sans-serif' font-size="29.5" textLength="20.2" lengthAdjust="spacingAndGlyphs">π</tspan>/3</text><text x="1692.7" y="530.2" font-size="29.8" text-anchor="middle">2<tspan style='font-family:"DejaVu Sans",sans-serif' font-size="29.5" textLength="20.2" lengthAdjust="spacingAndGlyphs">π</tspan></text><text x="1356" y="59" font-size="30.5">m=0.18<tspan font-style="italic" font-family='"Liberation Serif", "DejaVu Serif", serif' font-size="36" dx="1.5">a</tspan></text><text x="1355" y="574.3" font-size="30.3">Phase(θ<tspan font-size="20" dy="6.5">r</tspan><tspan dy="-6.5">)</tspan></text><text transform="translate(1066.6,384.2) rotate(-90)" font-size="30">Frequency<tspan font-style="italic">(</tspan><tspan font-style="italic" font-family='"Liberation Serif", "DejaVu Serif", serif' font-size="40" dx="0.5">a</tspan><tspan font-size="19" dy="5" dx="0.5" font-family='"Liberation Serif", "DejaVu Serif", serif'>0</tspan><tspan dy="-5" dx="1" font-style="italic">/λ)</tspan></text><text x="1433.5" y="262.8" font-size="30" text-anchor="middle">3% gap</text><rect x="1721.9" y="72.4" width="267.6" height="422.4" fill="#fff" stroke="#111" stroke-width="1.6"/><line x1="1855.7" y1="494.8" x2="1855.7" y2="485.3" stroke="#000" stroke-width="1.4"/><path d="M1721.9,169.7 C1781.9,206 1800.7,233.8 1855.7,233.8 C1905.7,233.8 1929.5,213 1989.5,176.8" fill="none" stroke="#000" stroke-width="1.6"/><path d="M1721.9,184.6 C1776.9,214 1800.7,233.8 1855.7,233.8 C1900.7,233.8 1929.5,222 1989.5,204.4" fill="none" stroke="#000" stroke-width="1.6"/><path d="M1721.9,266.2 C1771.9,269.5 1805.7,274.5 1855.7,276.4 C1905.7,279 1939.5,290 1989.5,300.9" fill="none" stroke="#000" stroke-width="1.6"/><path d="M1721.9,279.2 C1771.9,281.5 1805.7,278.5 1855.7,276.4 C1900.7,274.5 1934.5,262 1989.5,247.3" fill="none" stroke="#000" stroke-width="1.6"/><line x1="1154.4" y1="232.8" x2="1989.5" y2="232.8" stroke="#000" stroke-width="2.2" stroke-dasharray="7.4 2.2"/><line x1="1154.4" y1="273.6" x2="1989.5" y2="273.6" stroke="#000" stroke-width="2.2" stroke-dasharray="7.4 2.2"/><text x="1725.5" y="530.2" font-size="29.8" text-anchor="middle">K</text><text x="1857.5" y="530.2" font-size="29.8" text-anchor="middle">Γ</text><text x="1987.5" y="530.2" font-size="29.8" text-anchor="middle">M</text><text x="1797" y="54" font-size="30.5">θ<tspan font-size="20" dy="7">r</tspan><tspan dy="-7">=2<tspan style='font-family:"DejaVu Sans",sans-serif' font-size="29.5" textLength="20.2" lengthAdjust="spacingAndGlyphs">π</tspan>/3</tspan></text></g>
<g id="panel-d"><text x="1" y="645.6" font-size="43.5" font-weight="bold">d</text><g fill="none" stroke="#080808" stroke-width="1.3" opacity="0.95"><circle cx="145.2" cy="1059.48" r="3.6"/><circle cx="142.73" cy="1049.71" r="3.6"/><circle cx="178.6" cy="1059.48" r="3.6"/><circle cx="176.12" cy="1050.1" r="3.6"/><circle cx="161.9" cy="1049.83" r="3.6"/><circle cx="155.02" cy="1056.67" r="3.6"/><circle cx="212" cy="1059.48" r="3.6"/><circle cx="209.45" cy="1050.54" r="3.6"/><circle cx="195.3" cy="1049.83" r="3.6"/><circle cx="188.84" cy="1056.51" r="3.6"/><circle cx="245.4" cy="1059.48" r="3.6"/><circle cx="242.7" cy="1051" r="3.6"/><circle cx="228.7" cy="1049.83" r="3.6"/><circle cx="222.71" cy="1056.41" r="3.6"/><circle cx="278.8" cy="1059.48" r="3.6"/><circle cx="275.87" cy="1051.46" r="3.6"/><circle cx="262.1" cy="1049.83" r="3.6"/><circle cx="256.62" cy="1056.38" r="3.6"/><circle cx="312.2" cy="1059.48" r="3.6"/><circle cx="308.98" cy="1051.86" r="3.6"/><circle cx="295.5" cy="1049.83" r="3.6"/><circle cx="290.52" cy="1056.43" r="3.6"/><circle cx="345.6" cy="1059.48" r="3.6"/><circle cx="342.04" cy="1052.2" r="3.6"/><circle cx="328.9" cy="1049.83" r="3.6"/><circle cx="324.38" cy="1056.56" r="3.6"/><circle cx="375.1" cy="1052.45" r="3.6"/><circle cx="362.3" cy="1049.83" r="3.6"/><circle cx="358.17" cy="1056.73" r="3.6"/><circle cx="128.5" cy="1030.55" r="3.6"/><circle cx="125.99" cy="1020.38" r="3.6"/><circle cx="161.9" cy="1030.55" r="3.6"/><circle cx="159.43" cy="1020.76" r="3.6"/><circle cx="145.2" cy="1020.91" r="3.6"/><circle cx="137.96" cy="1027.94" r="3.6"/><circle cx="145.2" cy="1040.19" r="3.6"/><circle cx="154.91" cy="1042.95" r="3.6"/><circle cx="195.3" cy="1030.55" r="3.6"/><circle cx="192.82" cy="1021.22" r="3.6"/><circle cx="178.6" cy="1020.91" r="3.6"/><circle cx="171.76" cy="1027.72" r="3.6"/><circle cx="178.6" cy="1040.19" r="3.6"/><circle cx="187.92" cy="1042.71" r="3.6"/><circle cx="228.7" cy="1030.55" r="3.6"/><circle cx="226.12" cy="1021.74" r="3.6"/><circle cx="212" cy="1020.91" r="3.6"/><circle cx="205.66" cy="1027.55" r="3.6"/><circle cx="212" cy="1040.19" r="3.6"/><circle cx="220.92" cy="1042.36" r="3.6"/><circle cx="262.1" cy="1030.55" r="3.6"/><circle cx="259.31" cy="1022.28" r="3.6"/><circle cx="245.4" cy="1020.91" r="3.6"/><circle cx="239.63" cy="1027.46" r="3.6"/><circle cx="245.4" cy="1040.19" r="3.6"/><circle cx="253.95" cy="1041.91" r="3.6"/><circle cx="295.5" cy="1030.55" r="3.6"/><circle cx="292.4" cy="1022.79" r="3.6"/><circle cx="278.8" cy="1020.91" r="3.6"/><circle cx="273.63" cy="1027.48" r="3.6"/><circle cx="278.8" cy="1040.19" r="3.6"/><circle cx="287.07" cy="1041.39" r="3.6"/><circle cx="328.9" cy="1030.55" r="3.6"/><circle cx="325.42" cy="1023.21" r="3.6"/><circle cx="312.2" cy="1020.91" r="3.6"/><circle cx="307.58" cy="1027.6" r="3.6"/><circle cx="312.2" cy="1040.19" r="3.6"/><circle cx="320.3" cy="1040.85" r="3.6"/><circle cx="362.3" cy="1030.55" r="3.6"/><circle cx="358.41" cy="1023.51" r="3.6"/><circle cx="345.6" cy="1020.91" r="3.6"/><circle cx="341.45" cy="1027.79" r="3.6"/><circle cx="345.6" cy="1040.19" r="3.6"/><circle cx="353.64" cy="1040.35" r="3.6"/><circle cx="395.7" cy="1030.55" r="3.6"/><circle cx="391.43" cy="1023.72" r="3.6"/><circle cx="379" cy="1020.91" r="3.6"/><circle cx="375.22" cy="1028.02" r="3.6"/><circle cx="379" cy="1040.19" r="3.6"/><circle cx="387.05" cy="1039.91" r="3.6"/><circle cx="111.8" cy="1001.63" r="3.6"/><circle cx="109.18" cy="991.02" r="3.6"/><circle cx="145.2" cy="1001.63" r="3.6"/><circle cx="142.67" cy="991.37" r="3.6"/><circle cx="128.5" cy="991.98" r="3.6"/><circle cx="120.88" cy="999.31" r="3.6"/><circle cx="128.5" cy="1011.27" r="3.6"/><circle cx="138.65" cy="1014.21" r="3.6"/><circle cx="178.6" cy="1001.63" r="3.6"/><circle cx="176.13" cy="991.81" r="3.6"/><circle cx="161.9" cy="991.98" r="3.6"/><circle cx="154.64" cy="999.03" r="3.6"/><circle cx="161.9" cy="1011.27" r="3.6"/><circle cx="171.64" cy="1014.03" r="3.6"/><circle cx="212" cy="1001.63" r="3.6"/><circle cx="209.51" cy="992.37" r="3.6"/><circle cx="195.3" cy="991.98" r="3.6"/><circle cx="188.52" cy="998.77" r="3.6"/><circle cx="195.3" cy="1011.27" r="3.6"/><circle cx="204.57" cy="1013.74" r="3.6"/><circle cx="245.4" cy="1001.63" r="3.6"/><circle cx="242.76" cy="993" r="3.6"/><circle cx="228.7" cy="991.98" r="3.6"/><circle cx="222.55" cy="998.58" r="3.6"/><circle cx="228.7" cy="1011.27" r="3.6"/><circle cx="237.49" cy="1013.3" r="3.6"/><circle cx="278.8" cy="1001.63" r="3.6"/><circle cx="275.86" cy="993.64" r="3.6"/><circle cx="262.1" cy="991.98" r="3.6"/><circle cx="256.65" cy="998.53" r="3.6"/><circle cx="262.1" cy="1011.27" r="3.6"/><circle cx="270.49" cy="1012.71" r="3.6"/><circle cx="312.2" cy="1001.63" r="3.6"/><circle cx="308.82" cy="994.18" r="3.6"/><circle cx="295.5" cy="991.98" r="3.6"/><circle cx="290.74" cy="998.63" r="3.6"/><circle cx="295.5" cy="1011.27" r="3.6"/><circle cx="303.64" cy="1012.07" r="3.6"/><circle cx="345.6" cy="1001.63" r="3.6"/><circle cx="341.74" cy="994.57" r="3.6"/><circle cx="328.9" cy="991.98" r="3.6"/><circle cx="324.72" cy="998.85" r="3.6"/><circle cx="328.9" cy="1011.27" r="3.6"/><circle cx="336.94" cy="1011.45" r="3.6"/><circle cx="379" cy="1001.63" r="3.6"/><circle cx="374.69" cy="994.82" r="3.6"/><circle cx="362.3" cy="991.98" r="3.6"/><circle cx="358.56" cy="999.12" r="3.6"/><circle cx="362.3" cy="1011.27" r="3.6"/><circle cx="370.35" cy="1010.93" r="3.6"/><circle cx="412.4" cy="1001.63" r="3.6"/><circle cx="407.69" cy="994.96" r="3.6"/><circle cx="395.7" cy="991.98" r="3.6"/><circle cx="392.28" cy="999.39" r="3.6"/><circle cx="395.7" cy="1011.27" r="3.6"/><circle cx="403.82" cy="1010.52" r="3.6"/><circle cx="95.1" cy="972.7" r="3.6"/><circle cx="92.3" cy="961.65" r="3.6"/><circle cx="128.5" cy="972.7" r="3.6"/><circle cx="125.82" cy="961.93" r="3.6"/><circle cx="111.8" cy="963.06" r="3.6"/><circle cx="103.81" cy="970.77" r="3.6"/><circle cx="111.8" cy="982.34" r="3.6"/><circle cx="122.47" cy="985.41" r="3.6"/><circle cx="161.9" cy="972.7" r="3.6"/><circle cx="159.34" cy="962.31" r="3.6"/><circle cx="145.2" cy="963.06" r="3.6"/><circle cx="137.48" cy="970.47" r="3.6"/><circle cx="145.2" cy="982.34" r="3.6"/><circle cx="155.47" cy="985.32" r="3.6"/><circle cx="195.3" cy="972.7" r="3.6"/><circle cx="192.83" cy="962.84" r="3.6"/><circle cx="178.6" cy="963.06" r="3.6"/><circle cx="171.3" cy="970.13" r="3.6"/><circle cx="178.6" cy="982.34" r="3.6"/><circle cx="188.37" cy="985.13" r="3.6"/><circle cx="228.7" cy="972.7" r="3.6"/><circle cx="226.2" cy="963.54" r="3.6"/><circle cx="212" cy="963.06" r="3.6"/><circle cx="205.32" cy="969.81" r="3.6"/><circle cx="212" cy="982.34" r="3.6"/><circle cx="221.18" cy="984.75" r="3.6"/><circle cx="262.1" cy="972.7" r="3.6"/><circle cx="259.35" cy="964.34" r="3.6"/><circle cx="245.4" cy="963.06" r="3.6"/><circle cx="239.54" cy="969.62" r="3.6"/><circle cx="245.4" cy="982.34" r="3.6"/><circle cx="254.01" cy="984.14" r="3.6"/><circle cx="295.5" cy="972.7" r="3.6"/><circle cx="292.28" cy="965.09" r="3.6"/><circle cx="278.8" cy="963.06" r="3.6"/><circle cx="273.82" cy="969.66" r="3.6"/><circle cx="278.8" cy="982.34" r="3.6"/><circle cx="287" cy="983.36" r="3.6"/><circle cx="328.9" cy="972.7" r="3.6"/><circle cx="325.08" cy="965.62" r="3.6"/><circle cx="312.2" cy="963.06" r="3.6"/><circle cx="307.98" cy="969.91" r="3.6"/><circle cx="312.2" cy="982.34" r="3.6"/><circle cx="320.24" cy="982.58" r="3.6"/><circle cx="362.3" cy="972.7" r="3.6"/><circle cx="357.92" cy="965.93" r="3.6"/><circle cx="345.6" cy="963.06" r="3.6"/><circle cx="341.92" cy="970.24" r="3.6"/><circle cx="345.6" cy="982.34" r="3.6"/><circle cx="353.66" cy="981.93" r="3.6"/><circle cx="395.7" cy="972.7" r="3.6"/><circle cx="390.85" cy="966.08" r="3.6"/><circle cx="379" cy="963.06" r="3.6"/><circle cx="375.69" cy="970.57" r="3.6"/><circle cx="379" cy="982.34" r="3.6"/><circle cx="387.16" cy="981.46" r="3.6"/><circle cx="429.1" cy="972.7" r="3.6"/><circle cx="423.89" cy="966.14" r="3.6"/><circle cx="412.4" cy="963.06" r="3.6"/><circle cx="409.32" cy="970.85" r="3.6"/><circle cx="412.4" cy="982.34" r="3.6"/><circle cx="420.69" cy="981.11" r="3.6"/><circle cx="78.4" cy="943.78" r="3.6"/><circle cx="75.34" cy="932.31" r="3.6"/><circle cx="111.8" cy="943.78" r="3.6"/><circle cx="108.87" cy="932.5" r="3.6"/><circle cx="95.1" cy="934.13" r="3.6"/><circle cx="86.8" cy="942.31" r="3.6"/><circle cx="95.1" cy="953.42" r="3.6"/><circle cx="106.33" cy="956.52" r="3.6"/><circle cx="145.2" cy="943.78" r="3.6"/><circle cx="142.42" cy="932.78" r="3.6"/><circle cx="128.5" cy="934.13" r="3.6"/><circle cx="120.37" cy="942.04" r="3.6"/><circle cx="128.5" cy="953.42" r="3.6"/><circle cx="139.41" cy="956.51" r="3.6"/><circle cx="178.6" cy="943.78" r="3.6"/><circle cx="175.99" cy="933.2" r="3.6"/><circle cx="161.9" cy="934.13" r="3.6"/><circle cx="154.05" cy="941.68" r="3.6"/><circle cx="161.9" cy="953.42" r="3.6"/><circle cx="172.36" cy="956.44" r="3.6"/><circle cx="212" cy="943.78" r="3.6"/><circle cx="209.52" cy="933.85" r="3.6"/><circle cx="195.3" cy="934.13" r="3.6"/><circle cx="187.95" cy="941.24" r="3.6"/><circle cx="195.3" cy="953.42" r="3.6"/><circle cx="205.13" cy="956.23" r="3.6"/><circle cx="245.4" cy="943.78" r="3.6"/><circle cx="242.86" cy="934.79" r="3.6"/><circle cx="228.7" cy="934.13" r="3.6"/><circle cx="222.19" cy="940.82" r="3.6"/><circle cx="228.7" cy="953.42" r="3.6"/><circle cx="237.75" cy="955.71" r="3.6"/><circle cx="278.8" cy="943.78" r="3.6"/><circle cx="275.81" cy="935.85" r="3.6"/><circle cx="262.1" cy="934.13" r="3.6"/><circle cx="256.73" cy="940.68" r="3.6"/><circle cx="262.1" cy="953.42" r="3.6"/><circle cx="270.45" cy="954.79" r="3.6"/><circle cx="312.2" cy="943.78" r="3.6"/><circle cx="308.45" cy="936.65" r="3.6"/><circle cx="295.5" cy="934.13" r="3.6"/><circle cx="291.2" cy="940.95" r="3.6"/><circle cx="295.5" cy="953.42" r="3.6"/><circle cx="303.55" cy="953.73" r="3.6"/><circle cx="345.6" cy="943.78" r="3.6"/><circle cx="341.1" cy="937.04" r="3.6"/><circle cx="328.9" cy="934.13" r="3.6"/><circle cx="325.32" cy="941.39" r="3.6"/><circle cx="328.9" cy="953.42" r="3.6"/><circle cx="336.98" cy="952.89" r="3.6"/><circle cx="379" cy="943.78" r="3.6"/><circle cx="373.94" cy="937.19" r="3.6"/><circle cx="362.3" cy="934.13" r="3.6"/><circle cx="359.13" cy="941.81" r="3.6"/><circle cx="362.3" cy="953.42" r="3.6"/><circle cx="370.53" cy="952.33" r="3.6"/><circle cx="412.4" cy="943.78" r="3.6"/><circle cx="406.94" cy="937.23" r="3.6"/><circle cx="395.7" cy="934.13" r="3.6"/><circle cx="392.76" cy="942.14" r="3.6"/><circle cx="395.7" cy="953.42" r="3.6"/><circle cx="404.1" cy="951.96" r="3.6"/><circle cx="445.8" cy="943.78" r="3.6"/><circle cx="440.05" cy="937.23" r="3.6"/><circle cx="429.1" cy="934.13" r="3.6"/><circle cx="426.3" cy="942.38" r="3.6"/><circle cx="429.1" cy="953.42" r="3.6"/><circle cx="437.64" cy="951.72" r="3.6"/><circle cx="61.7" cy="914.85" r="3.6"/><circle cx="58.34" cy="903.03" r="3.6"/><circle cx="95.1" cy="914.85" r="3.6"/><circle cx="91.84" cy="903.13" r="3.6"/><circle cx="78.4" cy="905.21" r="3.6"/><circle cx="69.88" cy="913.89" r="3.6"/><circle cx="78.4" cy="924.49" r="3.6"/><circle cx="90.18" cy="927.52" r="3.6"/><circle cx="128.5" cy="914.85" r="3.6"/><circle cx="125.37" cy="903.29" r="3.6"/><circle cx="111.8" cy="905.21" r="3.6"/><circle cx="103.35" cy="913.7" r="3.6"/><circle cx="111.8" cy="924.49" r="3.6"/><circle cx="123.38" cy="927.56" r="3.6"/><circle cx="161.9" cy="914.85" r="3.6"/><circle cx="158.95" cy="903.54" r="3.6"/><circle cx="145.2" cy="905.21" r="3.6"/><circle cx="136.88" cy="913.42" r="3.6"/><circle cx="145.2" cy="924.49" r="3.6"/><circle cx="156.47" cy="927.59" r="3.6"/><circle cx="195.3" cy="914.85" r="3.6"/><circle cx="192.58" cy="903.98" r="3.6"/><circle cx="178.6" cy="905.21" r="3.6"/><circle cx="170.54" cy="913" r="3.6"/><circle cx="178.6" cy="924.49" r="3.6"/><circle cx="189.38" cy="927.57" r="3.6"/><circle cx="228.7" cy="914.85" r="3.6"/><circle cx="226.21" cy="904.8" r="3.6"/><circle cx="212" cy="905.21" r="3.6"/><circle cx="204.54" cy="912.39" r="3.6"/><circle cx="212" cy="924.49" r="3.6"/><circle cx="221.95" cy="927.36" r="3.6"/><circle cx="262.1" cy="914.85" r="3.6"/><circle cx="259.46" cy="906.22" r="3.6"/><circle cx="245.4" cy="905.21" r="3.6"/><circle cx="239.25" cy="911.81" r="3.6"/><circle cx="245.4" cy="924.49" r="3.6"/><circle cx="254.19" cy="926.52" r="3.6"/><circle cx="295.5" cy="914.85" r="3.6"/><circle cx="291.88" cy="907.62" r="3.6"/><circle cx="278.8" cy="905.21" r="3.6"/><circle cx="274.35" cy="911.96" r="3.6"/><circle cx="278.8" cy="924.49" r="3.6"/><circle cx="286.87" cy="924.97" r="3.6"/><circle cx="328.9" cy="914.85" r="3.6"/><circle cx="324.19" cy="908.19" r="3.6"/><circle cx="312.2" cy="905.21" r="3.6"/><circle cx="308.78" cy="912.62" r="3.6"/><circle cx="312.2" cy="924.49" r="3.6"/><circle cx="320.32" cy="923.75" r="3.6"/><circle cx="362.3" cy="914.85" r="3.6"/><circle cx="356.9" cy="908.3" r="3.6"/><circle cx="345.6" cy="905.21" r="3.6"/><circle cx="342.63" cy="913.16" r="3.6"/><circle cx="345.6" cy="924.49" r="3.6"/><circle cx="353.97" cy="923.09" r="3.6"/><circle cx="395.7" cy="914.85" r="3.6"/><circle cx="389.88" cy="908.3" r="3.6"/><circle cx="379" cy="905.21" r="3.6"/><circle cx="376.24" cy="913.53" r="3.6"/><circle cx="379" cy="924.49" r="3.6"/><circle cx="387.59" cy="922.73" r="3.6"/><circle cx="429.1" cy="914.85" r="3.6"/><circle cx="423.01" cy="908.26" r="3.6"/><circle cx="412.4" cy="905.21" r="3.6"/><circle cx="409.74" cy="913.77" r="3.6"/><circle cx="412.4" cy="924.49" r="3.6"/><circle cx="421.15" cy="922.51" r="3.6"/><circle cx="462.5" cy="914.85" r="3.6"/><circle cx="456.24" cy="908.23" r="3.6"/><circle cx="445.8" cy="905.21" r="3.6"/><circle cx="443.2" cy="913.94" r="3.6"/><circle cx="445.8" cy="924.49" r="3.6"/><circle cx="454.67" cy="922.38" r="3.6"/><circle cx="45" cy="885.93" r="3.6"/><circle cx="41.31" cy="873.82" r="3.6"/><circle cx="78.4" cy="885.93" r="3.6"/><circle cx="74.76" cy="873.86" r="3.6"/><circle cx="61.7" cy="876.28" r="3.6"/><circle cx="53.07" cy="885.47" r="3.6"/><circle cx="61.7" cy="895.57" r="3.6"/><circle cx="73.97" cy="898.45" r="3.6"/><circle cx="111.8" cy="885.93" r="3.6"/><circle cx="108.23" cy="873.91" r="3.6"/><circle cx="95.1" cy="876.28" r="3.6"/><circle cx="86.48" cy="885.38" r="3.6"/><circle cx="95.1" cy="895.57" r="3.6"/><circle cx="107.29" cy="898.48" r="3.6"/><circle cx="145.2" cy="885.93" r="3.6"/><circle cx="141.74" cy="874.01" r="3.6"/><circle cx="128.5" cy="876.28" r="3.6"/><circle cx="119.91" cy="885.24" r="3.6"/><circle cx="128.5" cy="895.57" r="3.6"/><circle cx="140.55" cy="898.53" r="3.6"/><circle cx="178.6" cy="885.93" r="3.6"/><circle cx="175.3" cy="874.17" r="3.6"/><circle cx="161.9" cy="876.28" r="3.6"/><circle cx="153.37" cy="885.02" r="3.6"/><circle cx="161.9" cy="895.57" r="3.6"/><circle cx="173.73" cy="898.59" r="3.6"/><circle cx="212" cy="885.93" r="3.6"/><circle cx="208.98" cy="874.52" r="3.6"/><circle cx="195.3" cy="876.28" r="3.6"/><circle cx="186.93" cy="884.6" r="3.6"/><circle cx="195.3" cy="895.57" r="3.6"/><circle cx="206.69" cy="898.66" r="3.6"/><circle cx="245.4" cy="885.93" r="3.6"/><circle cx="242.84" cy="875.54" r="3.6"/><circle cx="228.7" cy="876.28" r="3.6"/><circle cx="220.98" cy="883.69" r="3.6"/><circle cx="228.7" cy="895.57" r="3.6"/><circle cx="238.97" cy="898.55" r="3.6"/><circle cx="278.8" cy="885.93" r="3.6"/><circle cx="275.58" cy="878.31" r="3.6"/><circle cx="262.1" cy="876.28" r="3.6"/><circle cx="257.12" cy="882.88" r="3.6"/><circle cx="262.1" cy="895.57" r="3.6"/><circle cx="270.3" cy="896.58" r="3.6"/><circle cx="312.2" cy="885.93" r="3.6"/><circle cx="306.99" cy="879.36" r="3.6"/><circle cx="295.5" cy="876.28" r="3.6"/><circle cx="292.42" cy="884.08" r="3.6"/><circle cx="295.5" cy="895.57" r="3.6"/><circle cx="303.79" cy="894.34" r="3.6"/><circle cx="345.6" cy="885.93" r="3.6"/><circle cx="339.59" cy="879.35" r="3.6"/><circle cx="328.9" cy="876.28" r="3.6"/><circle cx="326.21" cy="884.77" r="3.6"/><circle cx="328.9" cy="895.57" r="3.6"/><circle cx="337.6" cy="893.65" r="3.6"/><circle cx="379" cy="885.93" r="3.6"/><circle cx="372.65" cy="879.28" r="3.6"/><circle cx="362.3" cy="876.28" r="3.6"/><circle cx="359.72" cy="885.11" r="3.6"/><circle cx="362.3" cy="895.57" r="3.6"/><circle cx="371.23" cy="893.39" r="3.6"/><circle cx="412.4" cy="885.93" r="3.6"/><circle cx="405.86" cy="879.23" r="3.6"/><circle cx="395.7" cy="876.28" r="3.6"/><circle cx="393.17" cy="885.29" r="3.6"/><circle cx="395.7" cy="895.57" r="3.6"/><circle cx="404.77" cy="893.25" r="3.6"/><circle cx="445.8" cy="885.93" r="3.6"/><circle cx="439.15" cy="879.19" r="3.6"/><circle cx="429.1" cy="876.28" r="3.6"/><circle cx="426.59" cy="885.41" r="3.6"/><circle cx="429.1" cy="895.57" r="3.6"/><circle cx="438.26" cy="893.18" r="3.6"/><circle cx="479.2" cy="885.93" r="3.6"/><circle cx="472.47" cy="879.16" r="3.6"/><circle cx="462.5" cy="876.28" r="3.6"/><circle cx="460" cy="885.49" r="3.6"/><circle cx="462.5" cy="895.57" r="3.6"/><circle cx="471.73" cy="893.12" r="3.6"/><circle cx="61.7" cy="857" r="3.6"/><circle cx="57.68" cy="844.67" r="3.6"/><circle cx="45" cy="847.36" r="3.6"/><circle cx="36.33" cy="857" r="3.6"/><circle cx="45" cy="866.64" r="3.6"/><circle cx="57.68" cy="869.33" r="3.6"/><circle cx="95.1" cy="857" r="3.6"/><circle cx="91.08" cy="844.67" r="3.6"/><circle cx="78.4" cy="847.36" r="3.6"/><circle cx="69.73" cy="857" r="3.6"/><circle cx="78.4" cy="866.64" r="3.6"/><circle cx="91.08" cy="869.33" r="3.6"/><circle cx="128.5" cy="857" r="3.6"/><circle cx="124.48" cy="844.67" r="3.6"/><circle cx="111.8" cy="847.36" r="3.6"/><circle cx="103.13" cy="857" r="3.6"/><circle cx="111.8" cy="866.64" r="3.6"/><circle cx="124.48" cy="869.33" r="3.6"/><circle cx="161.9" cy="857" r="3.6"/><circle cx="157.88" cy="844.67" r="3.6"/><circle cx="145.2" cy="847.36" r="3.6"/><circle cx="136.53" cy="857" r="3.6"/><circle cx="145.2" cy="866.64" r="3.6"/><circle cx="157.88" cy="869.33" r="3.6"/><circle cx="195.3" cy="857" r="3.6"/><circle cx="191.28" cy="844.67" r="3.6"/><circle cx="178.6" cy="847.36" r="3.6"/><circle cx="169.93" cy="857" r="3.6"/><circle cx="178.6" cy="866.64" r="3.6"/><circle cx="191.28" cy="869.33" r="3.6"/><circle cx="228.7" cy="857" r="3.6"/><circle cx="224.68" cy="844.67" r="3.6"/><circle cx="212" cy="847.36" r="3.6"/><circle cx="203.33" cy="857" r="3.6"/><circle cx="212" cy="866.64" r="3.6"/><circle cx="224.68" cy="869.33" r="3.6"/><circle cx="262.1" cy="857" r="3.6"/><circle cx="258.08" cy="844.67" r="3.6"/><circle cx="245.4" cy="847.36" r="3.6"/><circle cx="236.73" cy="857" r="3.6"/><circle cx="245.4" cy="866.64" r="3.6"/><circle cx="258.08" cy="869.33" r="3.6"/><circle cx="295.5" cy="857" r="3.6"/><circle cx="288.38" cy="850.04" r="3.6"/><circle cx="278.8" cy="847.36" r="3.6"/><circle cx="276.33" cy="857" r="3.6"/><circle cx="278.8" cy="866.64" r="3.6"/><circle cx="288.38" cy="863.96" r="3.6"/><circle cx="328.9" cy="857" r="3.6"/><circle cx="321.78" cy="850.04" r="3.6"/><circle cx="312.2" cy="847.36" r="3.6"/><circle cx="309.73" cy="857" r="3.6"/><circle cx="312.2" cy="866.64" r="3.6"/><circle cx="321.78" cy="863.96" r="3.6"/><circle cx="362.3" cy="857" r="3.6"/><circle cx="355.18" cy="850.04" r="3.6"/><circle cx="345.6" cy="847.36" r="3.6"/><circle cx="343.13" cy="857" r="3.6"/><circle cx="345.6" cy="866.64" r="3.6"/><circle cx="355.18" cy="863.96" r="3.6"/><circle cx="395.7" cy="857" r="3.6"/><circle cx="388.58" cy="850.04" r="3.6"/><circle cx="379" cy="847.36" r="3.6"/><circle cx="376.53" cy="857" r="3.6"/><circle cx="379" cy="866.64" r="3.6"/><circle cx="388.58" cy="863.96" r="3.6"/><circle cx="429.1" cy="857" r="3.6"/><circle cx="421.98" cy="850.04" r="3.6"/><circle cx="412.4" cy="847.36" r="3.6"/><circle cx="409.93" cy="857" r="3.6"/><circle cx="412.4" cy="866.64" r="3.6"/><circle cx="421.98" cy="863.96" r="3.6"/><circle cx="462.5" cy="857" r="3.6"/><circle cx="455.38" cy="850.04" r="3.6"/><circle cx="445.8" cy="847.36" r="3.6"/><circle cx="443.33" cy="857" r="3.6"/><circle cx="445.8" cy="866.64" r="3.6"/><circle cx="455.38" cy="863.96" r="3.6"/><circle cx="495.9" cy="857" r="3.6"/><circle cx="488.78" cy="850.04" r="3.6"/><circle cx="479.2" cy="847.36" r="3.6"/><circle cx="476.73" cy="857" r="3.6"/><circle cx="479.2" cy="866.64" r="3.6"/><circle cx="488.78" cy="863.96" r="3.6"/><circle cx="45" cy="828.07" r="3.6"/><circle cx="41.31" cy="840.18" r="3.6"/><circle cx="78.4" cy="828.07" r="3.6"/><circle cx="73.97" cy="815.55" r="3.6"/><circle cx="61.7" cy="818.43" r="3.6"/><circle cx="53.07" cy="828.53" r="3.6"/><circle cx="61.7" cy="837.72" r="3.6"/><circle cx="74.76" cy="840.14" r="3.6"/><circle cx="111.8" cy="828.07" r="3.6"/><circle cx="107.29" cy="815.52" r="3.6"/><circle cx="95.1" cy="818.43" r="3.6"/><circle cx="86.48" cy="828.62" r="3.6"/><circle cx="95.1" cy="837.72" r="3.6"/><circle cx="108.23" cy="840.09" r="3.6"/><circle cx="145.2" cy="828.07" r="3.6"/><circle cx="140.55" cy="815.47" r="3.6"/><circle cx="128.5" cy="818.43" r="3.6"/><circle cx="119.91" cy="828.76" r="3.6"/><circle cx="128.5" cy="837.72" r="3.6"/><circle cx="141.74" cy="839.99" r="3.6"/><circle cx="178.6" cy="828.07" r="3.6"/><circle cx="173.73" cy="815.41" r="3.6"/><circle cx="161.9" cy="818.43" r="3.6"/><circle cx="153.37" cy="828.98" r="3.6"/><circle cx="161.9" cy="837.72" r="3.6"/><circle cx="175.3" cy="839.83" r="3.6"/><circle cx="212" cy="828.07" r="3.6"/><circle cx="206.69" cy="815.34" r="3.6"/><circle cx="195.3" cy="818.43" r="3.6"/><circle cx="186.93" cy="829.4" r="3.6"/><circle cx="195.3" cy="837.72" r="3.6"/><circle cx="208.98" cy="839.48" r="3.6"/><circle cx="245.4" cy="828.07" r="3.6"/><circle cx="238.97" cy="815.45" r="3.6"/><circle cx="228.7" cy="818.43" r="3.6"/><circle cx="220.98" cy="830.31" r="3.6"/><circle cx="228.7" cy="837.72" r="3.6"/><circle cx="242.84" cy="838.46" r="3.6"/><circle cx="278.8" cy="828.07" r="3.6"/><circle cx="270.3" cy="817.42" r="3.6"/><circle cx="262.1" cy="818.43" r="3.6"/><circle cx="257.12" cy="831.12" r="3.6"/><circle cx="262.1" cy="837.72" r="3.6"/><circle cx="275.58" cy="835.69" r="3.6"/><circle cx="312.2" cy="828.07" r="3.6"/><circle cx="303.79" cy="819.66" r="3.6"/><circle cx="295.5" cy="818.43" r="3.6"/><circle cx="292.42" cy="829.92" r="3.6"/><circle cx="295.5" cy="837.72" r="3.6"/><circle cx="306.99" cy="834.64" r="3.6"/><circle cx="345.6" cy="828.07" r="3.6"/><circle cx="337.6" cy="820.35" r="3.6"/><circle cx="328.9" cy="818.43" r="3.6"/><circle cx="326.21" cy="829.23" r="3.6"/><circle cx="328.9" cy="837.72" r="3.6"/><circle cx="339.59" cy="834.65" r="3.6"/><circle cx="379" cy="828.07" r="3.6"/><circle cx="371.23" cy="820.61" r="3.6"/><circle cx="362.3" cy="818.43" r="3.6"/><circle cx="359.72" cy="828.89" r="3.6"/><circle cx="362.3" cy="837.72" r="3.6"/><circle cx="372.65" cy="834.72" r="3.6"/><circle cx="412.4" cy="828.07" r="3.6"/><circle cx="404.77" cy="820.75" r="3.6"/><circle cx="395.7" cy="818.43" r="3.6"/><circle cx="393.17" cy="828.71" r="3.6"/><circle cx="395.7" cy="837.72" r="3.6"/><circle cx="405.86" cy="834.77" r="3.6"/><circle cx="445.8" cy="828.07" r="3.6"/><circle cx="438.26" cy="820.82" r="3.6"/><circle cx="429.1" cy="818.43" r="3.6"/><circle cx="426.59" cy="828.59" r="3.6"/><circle cx="429.1" cy="837.72" r="3.6"/><circle cx="439.15" cy="834.81" r="3.6"/><circle cx="479.2" cy="828.07" r="3.6"/><circle cx="471.73" cy="820.88" r="3.6"/><circle cx="462.5" cy="818.43" r="3.6"/><circle cx="460" cy="828.51" r="3.6"/><circle cx="462.5" cy="837.72" r="3.6"/><circle cx="472.47" cy="834.84" r="3.6"/><circle cx="61.7" cy="799.15" r="3.6"/><circle cx="58.34" cy="810.97" r="3.6"/><circle cx="95.1" cy="799.15" r="3.6"/><circle cx="90.18" cy="786.48" r="3.6"/><circle cx="78.4" cy="789.51" r="3.6"/><circle cx="69.88" cy="800.11" r="3.6"/><circle cx="78.4" cy="808.79" r="3.6"/><circle cx="91.84" cy="810.87" r="3.6"/><circle cx="128.5" cy="799.15" r="3.6"/><circle cx="123.38" cy="786.44" r="3.6"/><circle cx="111.8" cy="789.51" r="3.6"/><circle cx="103.35" cy="800.3" r="3.6"/><circle cx="111.8" cy="808.79" r="3.6"/><circle cx="125.37" cy="810.71" r="3.6"/><circle cx="161.9" cy="799.15" r="3.6"/><circle cx="156.47" cy="786.41" r="3.6"/><circle cx="145.2" cy="789.51" r="3.6"/><circle cx="136.88" cy="800.58" r="3.6"/><circle cx="145.2" cy="808.79" r="3.6"/><circle cx="158.95" cy="810.46" r="3.6"/><circle cx="195.3" cy="799.15" r="3.6"/><circle cx="189.38" cy="786.43" r="3.6"/><circle cx="178.6" cy="789.51" r="3.6"/><circle cx="170.54" cy="801" r="3.6"/><circle cx="178.6" cy="808.79" r="3.6"/><circle cx="192.58" cy="810.02" r="3.6"/><circle cx="228.7" cy="799.15" r="3.6"/><circle cx="221.95" cy="786.64" r="3.6"/><circle cx="212" cy="789.51" r="3.6"/><circle cx="204.54" cy="801.61" r="3.6"/><circle cx="212" cy="808.79" r="3.6"/><circle cx="226.21" cy="809.2" r="3.6"/><circle cx="262.1" cy="799.15" r="3.6"/><circle cx="254.19" cy="787.48" r="3.6"/><circle cx="245.4" cy="789.51" r="3.6"/><circle cx="239.25" cy="802.19" r="3.6"/><circle cx="245.4" cy="808.79" r="3.6"/><circle cx="259.46" cy="807.78" r="3.6"/><circle cx="295.5" cy="799.15" r="3.6"/><circle cx="286.87" cy="789.03" r="3.6"/><circle cx="278.8" cy="789.51" r="3.6"/><circle cx="274.35" cy="802.04" r="3.6"/><circle cx="278.8" cy="808.79" r="3.6"/><circle cx="291.88" cy="806.38" r="3.6"/><circle cx="328.9" cy="799.15" r="3.6"/><circle cx="320.32" cy="790.25" r="3.6"/><circle cx="312.2" cy="789.51" r="3.6"/><circle cx="308.78" cy="801.38" r="3.6"/><circle cx="312.2" cy="808.79" r="3.6"/><circle cx="324.19" cy="805.81" r="3.6"/><circle cx="362.3" cy="799.15" r="3.6"/><circle cx="353.97" cy="790.91" r="3.6"/><circle cx="345.6" cy="789.51" r="3.6"/><circle cx="342.63" cy="800.84" r="3.6"/><circle cx="345.6" cy="808.79" r="3.6"/><circle cx="356.9" cy="805.7" r="3.6"/><circle cx="395.7" cy="799.15" r="3.6"/><circle cx="387.59" cy="791.27" r="3.6"/><circle cx="379" cy="789.51" r="3.6"/><circle cx="376.24" cy="800.47" r="3.6"/><circle cx="379" cy="808.79" r="3.6"/><circle cx="389.88" cy="805.7" r="3.6"/><circle cx="429.1" cy="799.15" r="3.6"/><circle cx="421.15" cy="791.49" r="3.6"/><circle cx="412.4" cy="789.51" r="3.6"/><circle cx="409.74" cy="800.23" r="3.6"/><circle cx="412.4" cy="808.79" r="3.6"/><circle cx="423.01" cy="805.74" r="3.6"/><circle cx="462.5" cy="799.15" r="3.6"/><circle cx="454.67" cy="791.62" r="3.6"/><circle cx="445.8" cy="789.51" r="3.6"/><circle cx="443.2" cy="800.06" r="3.6"/><circle cx="445.8" cy="808.79" r="3.6"/><circle cx="456.24" cy="805.77" r="3.6"/><circle cx="78.4" cy="770.22" r="3.6"/><circle cx="75.34" cy="781.69" r="3.6"/><circle cx="111.8" cy="770.22" r="3.6"/><circle cx="106.33" cy="757.48" r="3.6"/><circle cx="95.1" cy="760.58" r="3.6"/><circle cx="86.8" cy="771.69" r="3.6"/><circle cx="95.1" cy="779.87" r="3.6"/><circle cx="108.87" cy="781.5" r="3.6"/><circle cx="145.2" cy="770.22" r="3.6"/><circle cx="139.41" cy="757.49" r="3.6"/><circle cx="128.5" cy="760.58" r="3.6"/><circle cx="120.37" cy="771.96" r="3.6"/><circle cx="128.5" cy="779.87" r="3.6"/><circle cx="142.42" cy="781.22" r="3.6"/><circle cx="178.6" cy="770.22" r="3.6"/><circle cx="172.36" cy="757.56" r="3.6"/><circle cx="161.9" cy="760.58" r="3.6"/><circle cx="154.05" cy="772.32" r="3.6"/><circle cx="161.9" cy="779.87" r="3.6"/><circle cx="175.99" cy="780.8" r="3.6"/><circle cx="212" cy="770.22" r="3.6"/><circle cx="205.13" cy="757.77" r="3.6"/><circle cx="195.3" cy="760.58" r="3.6"/><circle cx="187.95" cy="772.76" r="3.6"/><circle cx="195.3" cy="779.87" r="3.6"/><circle cx="209.52" cy="780.15" r="3.6"/><circle cx="245.4" cy="770.22" r="3.6"/><circle cx="237.75" cy="758.29" r="3.6"/><circle cx="228.7" cy="760.58" r="3.6"/><circle cx="222.19" cy="773.18" r="3.6"/><circle cx="228.7" cy="779.87" r="3.6"/><circle cx="242.86" cy="779.21" r="3.6"/><circle cx="278.8" cy="770.22" r="3.6"/><circle cx="270.45" cy="759.21" r="3.6"/><circle cx="262.1" cy="760.58" r="3.6"/><circle cx="256.73" cy="773.32" r="3.6"/><circle cx="262.1" cy="779.87" r="3.6"/><circle cx="275.81" cy="778.15" r="3.6"/><circle cx="312.2" cy="770.22" r="3.6"/><circle cx="303.55" cy="760.27" r="3.6"/><circle cx="295.5" cy="760.58" r="3.6"/><circle cx="291.2" cy="773.05" r="3.6"/><circle cx="295.5" cy="779.87" r="3.6"/><circle cx="308.45" cy="777.35" r="3.6"/><circle cx="345.6" cy="770.22" r="3.6"/><circle cx="336.98" cy="761.11" r="3.6"/><circle cx="328.9" cy="760.58" r="3.6"/><circle cx="325.32" cy="772.61" r="3.6"/><circle cx="328.9" cy="779.87" r="3.6"/><circle cx="341.1" cy="776.96" r="3.6"/><circle cx="379" cy="770.22" r="3.6"/><circle cx="370.53" cy="761.67" r="3.6"/><circle cx="362.3" cy="760.58" r="3.6"/><circle cx="359.13" cy="772.19" r="3.6"/><circle cx="362.3" cy="779.87" r="3.6"/><circle cx="373.94" cy="776.81" r="3.6"/><circle cx="412.4" cy="770.22" r="3.6"/><circle cx="404.1" cy="762.04" r="3.6"/><circle cx="395.7" cy="760.58" r="3.6"/><circle cx="392.76" cy="771.86" r="3.6"/><circle cx="395.7" cy="779.87" r="3.6"/><circle cx="406.94" cy="776.77" r="3.6"/><circle cx="445.8" cy="770.22" r="3.6"/><circle cx="437.64" cy="762.28" r="3.6"/><circle cx="429.1" cy="760.58" r="3.6"/><circle cx="426.3" cy="771.62" r="3.6"/><circle cx="429.1" cy="779.87" r="3.6"/><circle cx="440.05" cy="776.77" r="3.6"/><circle cx="95.1" cy="741.3" r="3.6"/><circle cx="92.3" cy="752.35" r="3.6"/><circle cx="128.5" cy="741.3" r="3.6"/><circle cx="122.47" cy="728.59" r="3.6"/><circle cx="111.8" cy="731.66" r="3.6"/><circle cx="103.81" cy="743.23" r="3.6"/><circle cx="111.8" cy="750.94" r="3.6"/><circle cx="125.82" cy="752.07" r="3.6"/><circle cx="161.9" cy="741.3" r="3.6"/><circle cx="155.47" cy="728.68" r="3.6"/><circle cx="145.2" cy="731.66" r="3.6"/><circle cx="137.48" cy="743.53" r="3.6"/><circle cx="145.2" cy="750.94" r="3.6"/><circle cx="159.34" cy="751.69" r="3.6"/><circle cx="195.3" cy="741.3" r="3.6"/><circle cx="188.37" cy="728.87" r="3.6"/><circle cx="178.6" cy="731.66" r="3.6"/><circle cx="171.3" cy="743.87" r="3.6"/><circle cx="178.6" cy="750.94" r="3.6"/><circle cx="192.83" cy="751.16" r="3.6"/><circle cx="228.7" cy="741.3" r="3.6"/><circle cx="221.18" cy="729.25" r="3.6"/><circle cx="212" cy="731.66" r="3.6"/><circle cx="205.32" cy="744.19" r="3.6"/><circle cx="212" cy="750.94" r="3.6"/><circle cx="226.2" cy="750.46" r="3.6"/><circle cx="262.1" cy="741.3" r="3.6"/><circle cx="254.01" cy="729.86" r="3.6"/><circle cx="245.4" cy="731.66" r="3.6"/><circle cx="239.54" cy="744.38" r="3.6"/><circle cx="245.4" cy="750.94" r="3.6"/><circle cx="259.35" cy="749.66" r="3.6"/><circle cx="295.5" cy="741.3" r="3.6"/><circle cx="287" cy="730.64" r="3.6"/><circle cx="278.8" cy="731.66" r="3.6"/><circle cx="273.82" cy="744.34" r="3.6"/><circle cx="278.8" cy="750.94" r="3.6"/><circle cx="292.28" cy="748.91" r="3.6"/><circle cx="328.9" cy="741.3" r="3.6"/><circle cx="320.24" cy="731.42" r="3.6"/><circle cx="312.2" cy="731.66" r="3.6"/><circle cx="307.98" cy="744.09" r="3.6"/><circle cx="312.2" cy="750.94" r="3.6"/><circle cx="325.08" cy="748.38" r="3.6"/><circle cx="362.3" cy="741.3" r="3.6"/><circle cx="353.66" cy="732.07" r="3.6"/><circle cx="345.6" cy="731.66" r="3.6"/><circle cx="341.92" cy="743.76" r="3.6"/><circle cx="345.6" cy="750.94" r="3.6"/><circle cx="357.92" cy="748.07" r="3.6"/><circle cx="395.7" cy="741.3" r="3.6"/><circle cx="387.16" cy="732.54" r="3.6"/><circle cx="379" cy="731.66" r="3.6"/><circle cx="375.69" cy="743.43" r="3.6"/><circle cx="379" cy="750.94" r="3.6"/><circle cx="390.85" cy="747.92" r="3.6"/><circle cx="429.1" cy="741.3" r="3.6"/><circle cx="420.69" cy="732.89" r="3.6"/><circle cx="412.4" cy="731.66" r="3.6"/><circle cx="409.32" cy="743.15" r="3.6"/><circle cx="412.4" cy="750.94" r="3.6"/><circle cx="423.89" cy="747.86" r="3.6"/><circle cx="111.8" cy="712.37" r="3.6"/><circle cx="109.18" cy="722.98" r="3.6"/><circle cx="145.2" cy="712.37" r="3.6"/><circle cx="138.65" cy="699.79" r="3.6"/><circle cx="128.5" cy="702.73" r="3.6"/><circle cx="120.88" cy="714.69" r="3.6"/><circle cx="128.5" cy="722.02" r="3.6"/><circle cx="142.67" cy="722.63" r="3.6"/><circle cx="178.6" cy="712.37" r="3.6"/><circle cx="171.64" cy="699.97" r="3.6"/><circle cx="161.9" cy="702.73" r="3.6"/><circle cx="154.64" cy="714.97" r="3.6"/><circle cx="161.9" cy="722.02" r="3.6"/><circle cx="176.13" cy="722.19" r="3.6"/><circle cx="212" cy="712.37" r="3.6"/><circle cx="204.57" cy="700.26" r="3.6"/><circle cx="195.3" cy="702.73" r="3.6"/><circle cx="188.52" cy="715.23" r="3.6"/><circle cx="195.3" cy="722.02" r="3.6"/><circle cx="209.51" cy="721.63" r="3.6"/><circle cx="245.4" cy="712.37" r="3.6"/><circle cx="237.49" cy="700.7" r="3.6"/><circle cx="228.7" cy="702.73" r="3.6"/><circle cx="222.55" cy="715.42" r="3.6"/><circle cx="228.7" cy="722.02" r="3.6"/><circle cx="242.76" cy="721" r="3.6"/><circle cx="278.8" cy="712.37" r="3.6"/><circle cx="270.49" cy="701.29" r="3.6"/><circle cx="262.1" cy="702.73" r="3.6"/><circle cx="256.65" cy="715.47" r="3.6"/><circle cx="262.1" cy="722.02" r="3.6"/><circle cx="275.86" cy="720.36" r="3.6"/><circle cx="312.2" cy="712.37" r="3.6"/><circle cx="303.64" cy="701.93" r="3.6"/><circle cx="295.5" cy="702.73" r="3.6"/><circle cx="290.74" cy="715.37" r="3.6"/><circle cx="295.5" cy="722.02" r="3.6"/><circle cx="308.82" cy="719.82" r="3.6"/><circle cx="345.6" cy="712.37" r="3.6"/><circle cx="336.94" cy="702.55" r="3.6"/><circle cx="328.9" cy="702.73" r="3.6"/><circle cx="324.72" cy="715.15" r="3.6"/><circle cx="328.9" cy="722.02" r="3.6"/><circle cx="341.74" cy="719.43" r="3.6"/><circle cx="379" cy="712.37" r="3.6"/><circle cx="370.35" cy="703.07" r="3.6"/><circle cx="362.3" cy="702.73" r="3.6"/><circle cx="358.56" cy="714.88" r="3.6"/><circle cx="362.3" cy="722.02" r="3.6"/><circle cx="374.69" cy="719.18" r="3.6"/><circle cx="412.4" cy="712.37" r="3.6"/><circle cx="403.82" cy="703.48" r="3.6"/><circle cx="395.7" cy="702.73" r="3.6"/><circle cx="392.28" cy="714.61" r="3.6"/><circle cx="395.7" cy="722.02" r="3.6"/><circle cx="407.69" cy="719.04" r="3.6"/><circle cx="128.5" cy="683.45" r="3.6"/><circle cx="125.99" cy="693.62" r="3.6"/><circle cx="161.9" cy="683.45" r="3.6"/><circle cx="154.91" cy="671.05" r="3.6"/><circle cx="145.2" cy="673.81" r="3.6"/><circle cx="137.96" cy="686.06" r="3.6"/><circle cx="145.2" cy="693.09" r="3.6"/><circle cx="159.43" cy="693.24" r="3.6"/><circle cx="195.3" cy="683.45" r="3.6"/><circle cx="187.92" cy="671.29" r="3.6"/><circle cx="178.6" cy="673.81" r="3.6"/><circle cx="171.76" cy="686.28" r="3.6"/><circle cx="178.6" cy="693.09" r="3.6"/><circle cx="192.82" cy="692.78" r="3.6"/><circle cx="228.7" cy="683.45" r="3.6"/><circle cx="220.92" cy="671.64" r="3.6"/><circle cx="212" cy="673.81" r="3.6"/><circle cx="205.66" cy="686.45" r="3.6"/><circle cx="212" cy="693.09" r="3.6"/><circle cx="226.12" cy="692.26" r="3.6"/><circle cx="262.1" cy="683.45" r="3.6"/><circle cx="253.95" cy="672.09" r="3.6"/><circle cx="245.4" cy="673.81" r="3.6"/><circle cx="239.63" cy="686.54" r="3.6"/><circle cx="245.4" cy="693.09" r="3.6"/><circle cx="259.31" cy="691.72" r="3.6"/><circle cx="295.5" cy="683.45" r="3.6"/><circle cx="287.07" cy="672.61" r="3.6"/><circle cx="278.8" cy="673.81" r="3.6"/><circle cx="273.63" cy="686.52" r="3.6"/><circle cx="278.8" cy="693.09" r="3.6"/><circle cx="292.4" cy="691.21" r="3.6"/><circle cx="328.9" cy="683.45" r="3.6"/><circle cx="320.3" cy="673.15" r="3.6"/><circle cx="312.2" cy="673.81" r="3.6"/><circle cx="307.58" cy="686.4" r="3.6"/><circle cx="312.2" cy="693.09" r="3.6"/><circle cx="325.42" cy="690.79" r="3.6"/><circle cx="362.3" cy="683.45" r="3.6"/><circle cx="353.64" cy="673.65" r="3.6"/><circle cx="345.6" cy="673.81" r="3.6"/><circle cx="341.45" cy="686.21" r="3.6"/><circle cx="345.6" cy="693.09" r="3.6"/><circle cx="358.41" cy="690.49" r="3.6"/><circle cx="395.7" cy="683.45" r="3.6"/><circle cx="387.05" cy="674.09" r="3.6"/><circle cx="379" cy="673.81" r="3.6"/><circle cx="375.22" cy="685.98" r="3.6"/><circle cx="379" cy="693.09" r="3.6"/><circle cx="391.43" cy="690.28" r="3.6"/><circle cx="145.2" cy="654.52" r="3.6"/><circle cx="142.73" cy="664.29" r="3.6"/><circle cx="178.6" cy="654.52" r="3.6"/><circle cx="155.02" cy="657.33" r="3.6"/><circle cx="161.9" cy="664.17" r="3.6"/><circle cx="176.12" cy="663.9" r="3.6"/><circle cx="212" cy="654.52" r="3.6"/><circle cx="188.84" cy="657.49" r="3.6"/><circle cx="195.3" cy="664.17" r="3.6"/><circle cx="209.45" cy="663.46" r="3.6"/><circle cx="245.4" cy="654.52" r="3.6"/><circle cx="222.71" cy="657.59" r="3.6"/><circle cx="228.7" cy="664.17" r="3.6"/><circle cx="242.7" cy="663" r="3.6"/><circle cx="278.8" cy="654.52" r="3.6"/><circle cx="256.62" cy="657.62" r="3.6"/><circle cx="262.1" cy="664.17" r="3.6"/><circle cx="275.87" cy="662.54" r="3.6"/><circle cx="312.2" cy="654.52" r="3.6"/><circle cx="290.52" cy="657.57" r="3.6"/><circle cx="295.5" cy="664.17" r="3.6"/><circle cx="308.98" cy="662.14" r="3.6"/><circle cx="345.6" cy="654.52" r="3.6"/><circle cx="324.38" cy="657.44" r="3.6"/><circle cx="328.9" cy="664.17" r="3.6"/><circle cx="342.04" cy="661.8" r="3.6"/><circle cx="358.17" cy="657.27" r="3.6"/><circle cx="362.3" cy="664.17" r="3.6"/><circle cx="375.1" cy="661.55" r="3.6"/></g><rect x="552" y="651.3" width="33.3" height="404.7" fill="url(#gcbd)" stroke="#0e1e2c" stroke-width="1.8"/><text x="602.6" y="660" font-size="30">0</text><text x="598.8" y="1066.8" font-size="30">2<tspan style='font-family:"DejaVu Sans",sans-serif' font-size="29.5" textLength="20.2" lengthAdjust="spacingAndGlyphs">π</tspan></text></g>
<g id="panel-e"><text x="751" y="645.6" font-size="43.5" font-weight="bold">e</text><rect x="800" y="653.1" width="393.8" height="402.1" fill="#f2ebc0"/><g clip-path="url(#clipe)" fill="none" stroke="#ece8cc" opacity="0.75"><ellipse cx="997.2" cy="854.2" rx="196" ry="200" stroke-width="34"/><ellipse cx="997.2" cy="854.2" rx="268" ry="272" stroke-width="38"/></g><g clip-path="url(#clipe)"><g transform="translate(997.2,854.2) scale(1,1.038)"><use href="#ew" transform="rotate(0)"/><use href="#ew" transform="rotate(0) scale(1,-1)"/><use href="#ew" transform="rotate(120)"/><use href="#ew" transform="rotate(120) scale(1,-1)"/><use href="#ew" transform="rotate(240)"/><use href="#ew" transform="rotate(240) scale(1,-1)"/></g></g><ellipse cx="1108" cy="854" rx="76" ry="92" fill="url(#gfade)"/><rect x="800" y="653.1" width="393.8" height="402.1" fill="none" stroke="#111" stroke-width="1.8"/><rect x="1257.4" y="653.4" width="34" height="405.8" fill="url(#gcbe)" stroke="#0a0a0a" stroke-width="1.3"/><text x="1301.6" y="662.8" font-size="30">1</text><text x="1302.6" y="866" font-size="30">0</text><text x="1301.6" y="1066.2" font-size="30">-1</text><text transform="translate(1375.2,858) rotate(-90)" text-anchor="middle" font-size="29.5">E<tspan font-size="20" dy="6">z</tspan><tspan dy="-6"> (Normalized)</tspan></text></g>
<g id="panel-f"><text x="1478" y="644.6" font-size="43.5" font-weight="bold">f</text><g clip-path="url(#clipf)" fill-rule="evenodd"><circle cx="1689.7" cy="862.8" r="192.7" fill="#000"/><path d="M1856.7,1061.8l-94,1 -120,-0.2 -152,0.3 -1.1,-1.1 0.1,-90 0.9,-110 -0.9,-106 -0.1,-92 1.1,-1.1 268,0.2 98.5,0.9 -38.5,36 -6.5,8 -1.5,3.6 -0.3,2.4 0.3,4 2.5,6 3.5,5.1 6,7 8,8.3 6,4.9 5.2,2.7 4.8,1 5.2,-1 6.4,-4 4.9,-4 25.5,-23.7 1.2,149.7 -0.3,74 -0.9,75.4 -26,-24.8 -4,-2.6 -4,-1.2 -2,-0.1 -4,0.8 -4,1.9 -4,2.9 -3.9,3.7 -6.1,6.4 -4,4.9 -2.6,4.7 -1,4 0.2,4 0.6,2 2.8,4.7 32,31.3 -2,0zM1687.6,893.8l8,-2 5.1,-2 6,-3.8 4,-3.9 4,-6.6 2,-6.4 0.5,-7.3 -0.5,-5.4 -2,-6.4 -2,-3.8 -4,-5 -4.2,-3.4 -5.8,-2.9 -8,-2.2 -8,-1.2 -8,0.3 -6,1.8 -4.1,2.2 -4.5,4 -3.9,6 -1.5,4.4 -1,7.6 0,10 1,7.6 1.5,4.4 2.5,4.4 4,4.2 5.1,3.4 4.9,1.8 4,0.7 6,0.1 4.9,-0.6z" fill="#070200"/><path d="M1840.7,1061.8l-80,0.9 -118,-0.3 -152,0.4 -1,-1 0.1,-94 0.9,-78.5 1.2,-9.5 0.3,-12 -0.2,-20 -1.3,-11.5 -0.9,-72.5 -0.1,-100 1,-1 266,0.2 79.2,0.8 -27.2,25.4 -4,4.4 -2.9,4.2 -1.9,4 -1.1,6 0.7,6 2.2,6 3.5,6 5.5,7.2 18,19.1 4.1,3.7 5.9,4.3 6,3 4,1.2 4,0.4 4,-0.4 4,-1.2 4,-2.1 6.9,-5.2 17.1,-15.9 0.5,37.9 0.5,126 -1,98.8 -16,-15.4 -6,-5 -6,-2.8 -6,-0.5 -4,0.7 -4,1.6 -7.3,4.6 -8.6,8 -11.2,12 -4.9,7.2 -2.7,6.8 -0.5,6 1.2,5.3 2,3.7 4,4.8 22.8,22.2 -0.8,0zM1688.6,897.8l7.8,-2 6.3,-3.1 6,-4.6 4,-4.6 4,-7.2 2,-6.5 0.6,-6 -0.3,-6 -2.1,-8 -2.2,-4.6 -4,-5.7 -6,-5.3 -6,-3.4 -6,-2.1 -6,-1.1 -8,0.2 -8,1.9 -4.5,2.1 -5.7,4 -5.5,6 -3.4,6 -2,6 -0.9,6 0.2,8 1.9,8 2.9,6 4.6,6 4.4,3.8 6,3.5 6,2 6,1 7.9,-0.3z" fill="#0e0500"/><path d="M1828.7,1061.8l-72,0.8 -114,-0.3 -152,0.4 -0.9,-0.9 0.1,-92 0.8,-62 2.5,-6 1.8,-8 1.2,-12 0.3,-14 -0.1,-20 -0.9,-12 -1.8,-10 -3,-8 -0.8,-62 -0.1,-92 0.9,-0.9 162,0.5 102,-0.3 67.4,0.7 -23.3,22 -4.1,5.8 -1.9,4.2 -1,4 -0.3,4 1.1,8 3.3,8 5.1,8 11.7,13.8 10,10.6 8,7.6 10,7.4 5.1,2.6 4.9,1.6 4,0.7 6,-0.1 4,-0.9 4,-1.6 6,-3.9 14,-12.8 1,117 -0.2,70 -0.8,52 -12.6,-12 -7.4,-5.7 -6,-2.2 -4,-0.3 -4,0.3 -8,2.7 -8.1,5.2 -8.9,8 -15,15.9 -5.8,8.1 -2.9,6 -1.2,4 -0.5,4 0.4,6 1.4,4 2.6,4.1 5.2,5.9 16.5,16 -1.7,0zM1693.7,899.8l7,-2.9 6,-4.1 6,-6.3 3.1,-4.7 2.9,-6.3 1.8,-7.7 0.2,-8 -1,-6 -2.8,-8 -3.7,-6 -4.5,-5.2 -6,-4.8 -6,-3 -6,-1.7 -6,-0.6 -8,1 -6.8,2.3 -7.2,4 -5,4 -5.3,6 -3.8,6 -2.8,8 -0.8,8 0.8,6 2.8,8 3.7,6 5.4,6 5,4 8,4.3 8,2.3 8,0.5 7,-1.1z" fill="#160700"/><path d="M1820.7,1061.8l-64,0.7 -114,-0.3 -152,0.4 -0.8,-0.8 0.1,-88 0.7,-55.3 2,-2.9 2,-4.1 2.7,-9.7 1.7,-14 0.4,-18 -0.1,-26 -1,-14 -1.4,-8 -1.7,-6 -2.6,-5.8 -2,-2.9 -0.7,-55.3 -0.1,-88 0.8,-0.8 162,0.5 100,-0.3 58.2,0.6 -19,18 -3.7,6 -2,6 -0.5,8 0.9,6 1.2,4 4.8,10 6.1,8.7 11.6,13.3 18.4,18.7 10,8 10,5.4 6,1.8 6,0.7 6,-0.5 4,-1.1 4,-1.8 4,-2.6 10,-9.2 0.9,106.6 -0.2,66 -0.7,47.3 -10,-9.5 -8,-5.7 -4,-1.4 -4,-0.7 -4,0.1 -4,0.7 -8.3,3.2 -9.7,6.5 -10,9.2 -15.4,16.3 -6,8 -4.3,8 -2.2,8 -0.3,4 0.4,4 1.8,5.6 2.9,4.4 5.4,6 12.3,12 -0.6,0zM1695.8,901.8l4.9,-2.2 6,-4.1 6,-6.3 4,-6.1 3.2,-7.3 1.8,-8 0.3,-6 -0.9,-8 -2.4,-7.2 -4,-7.3 -4,-5.1 -6,-5.6 -6,-3.7 -6,-2.1 -6,-0.8 -8,0.8 -8,2.6 -7.8,4.4 -7.5,6 -5.4,6 -5,8 -2.2,6 -0.9,6 0.8,7.6 2.3,6.4 5,8 7.7,8 7,5 8,3.9 8,2.2 8,0.4 7.1,-1.5z" fill="#210b00"/><path d="M1812.7,1061.8l-58,0.6 -112,-0.4 -152,0.5 -0.7,-0.7 0.1,-86 0.6,-48.7 2.8,-3.3 2.3,-4 2.2,-6 1.5,-6 2,-16 0.5,-20 -0.2,-32 -1.6,-18 -1.5,-7.7 -2,-6.3 -2,-4.3 -4,-5 -0.6,-48.7 -0.1,-86 0.7,-0.7 162,0.5 98,-0.3 50.1,0.5 -12.9,12 -3.2,3.9 -2.8,6.1 -1.4,8 0.4,8 2.9,10 5.1,10 7.1,10 12.7,14.3 19.4,19.7 10.6,8.5 10,5.7 6,2.2 6,1.3 6,0.3 4,-0.4 5.8,-1.6 3.8,-2 8.4,-7.3 0.8,97.3 -0.8,105.5 -10,-9 -6,-3.8 -4,-1.2 -4,-0.5 -4,0.2 -6,1.2 -4.5,1.6 -5.5,2.8 -10,7.1 -10,9.4 -15.9,16.7 -7.6,10 -4.4,8 -2.5,8 -0.6,8 1,6 2,4.2 6,7.4 10.5,10.4 -0.5,0zM1696.9,903.8l5.8,-2.9 6,-4.8 4,-4.5 5,-7.8 3,-6.6 1.9,-7.4 0.6,-8 -0.6,-6 -1.9,-7.3 -4,-8.5 -4,-5.8 -6,-6.4 -6,-4.3 -6,-2.6 -6,-1.1 -8,0.5 -8,2.4 -8,4.2 -8,5.9 -7.2,7 -4.7,6 -4,8 -1.6,8 0.5,6 1,4 1.8,4 5.3,8 7.8,8 8.1,6 9,4.7 8,2.4 8,0.6 4,-0.5 4.2,-1.2z" fill="#2c1000"/><path d="M1804.7,1061.8l-52,0.5 -110,-0.4 -152,0.5 -0.6,-0.6 0.1,-82 0.5,-45.2 3.2,-2.8 2.8,-4.1 2,-4.5 2.2,-7.4 1.8,-10 0.8,-8 0.7,-24 -0.2,-38 -0.9,-12 -1,-8 -1.7,-8 -2.8,-8 -2.9,-5.1 -4,-3.7 -0.5,-45.2 -0.1,-82 0.6,-0.6 300.5,0.6 -8.7,8 -3.8,4.6 -1.6,3.4 -1.1,4 -0.5,8 1.3,10 3.4,10 6.5,11.7 7.7,10.3 18.3,20 14,14.1 12,9.8 10,5.9 6,2.6 6,1.7 6,1 6,0 4,-0.5 4,-1.3 4,-2.3 4,-3.5 0.7,88.5 -0.7,98.2 -10,-8.3 -6,-2.8 -4,-0.7 -4,0 -4,0.5 -6,1.6 -10,4.6 -10,7.1 -10,9.3 -17.8,18.5 -8,10 -4.8,8 -3.4,8.5 -1.6,9.5 0.3,6 2,6 5.3,6.9 8.9,9.1 -0.9,0zM1697.5,905.8l5.2,-2.6 6,-4.8 6,-7.2 4,-6.6 2.9,-6.8 2,-8 0.6,-8 -0.6,-6 -2,-8 -3.7,-8 -5.2,-7.9 -6,-6.4 -6,-4.3 -6,-2.5 -6,-1.1 -6,0.3 -8,2.2 -10,5.3 -8.8,6.4 -8.5,8 -6.2,8 -2.9,6 -1.6,7.7 0.5,6.3 1.1,4 1.8,4 5.5,8 8,8 11.1,8.1 10,5.1 8,2.2 8,0.2 6.8,-1.6z" fill="#371400"/><path d="M1796.7,1061.8l-50,0.4 -77.4,-0.4 -18.6,-2 -10,-0.5 -6.8,0.5 -6.4,2 -122.8,0.5 -14,0 -0.5,-0.5 0.5,-120.2 4,-2.6 2.5,-3.2 3.5,-7.6 2,-7.3 1.6,-9.1 1.1,-10 0.8,-26 -0.2,-42 -0.9,-14 -1.4,-10 -2.3,-10 -2.7,-7.4 -2,-3.5 -2,-2.3 -4,-2.6 -0.5,-120.2 0.5,-0.5 141.6,0.5 4.3,2 4.1,1 12,1.1 34,-2 13.8,-2.1 81,0 -6.8,6.1 -2,2.7 -1.4,3.2 -1,8 0.9,10 2.6,10 4.2,10 5.9,10 9.1,12 18.5,20 13.2,13.3 10.1,8.7 11.9,8 12,5.5 6,1.7 6,1 6,0.3 4,-0.5 4,-1.3 4,-2.6 0.6,79.9 -0.6,91.1 -9.3,-7.1 -2.7,-1.2 -4,-0.8 -4,-0.2 -6,0.7 -10,3.2 -10,5.3 -10,7.6 -10,9.4 -17.4,18 -8.3,10 -6.3,10 -4.1,10 -1.7,8 -0.1,8 1.6,6 4.2,6 7.5,8 -1.4,0zM1697.8,907.8l4.9,-2.4 6,-4.7 6,-7.2 4,-6.5 4,-9.2 1.6,-6 0.8,-8 -0.5,-8 -2,-8 -3.9,-8.9 -4,-6.5 -6,-7.2 -6,-5 -6,-3 -6,-1.5 -8,0.3 -8,2.4 -10,5.4 -10.6,8 -8.7,8 -6.4,8 -3,6 -1.5,6 0.2,7.5 1.2,4.5 1.9,4 5.7,8 8.3,8 10.9,8.3 10,5.6 8,2.8 8,1 4,-0.3 5.1,-1.4z" fill="#421800"/><path d="M1788.7,1061.8l-44,0.3 -49.7,-0.3 -7.4,-2 -12.1,-2 -26.8,-2.9 -12,-0.7 -8,0.3 -7.3,1.3 -4.7,2 -2.3,2 -1.2,2 -108.5,0.4 -14,0 -0.4,-0.4 0.4,-113.2 5,-2.8 3,-3.3 2.4,-4.7 2.5,-8 2,-10 1.4,-12 0.8,-14 0.2,-16 -0.2,-48 -0.9,-14 -1.6,-12 -2.6,-11.5 -3.6,-8.5 -3.3,-4 -5.1,-2.9 -0.4,-113.1 0.4,-0.4 129.9,0.4 1.8,2 2.3,1.5 6.2,2.5 7.8,1.4 10,0.6 12,-0.4 34,-2.5 12,-1.9 11.2,-3.2 52.4,0 -4.3,4 -1,2 -0.9,4 0.9,10 3.4,14 3.7,10 5.1,10 6.7,10 9.7,12 18.9,20 12.1,12 10.1,8.7 10,7.1 12,6.4 6,2.3 8,2.3 10,1.3 4,-0.4 4,-1.4 0.5,71.7 -0.5,84 -8,-5.5 -6,-1.3 -4,0.1 -6,0.9 -6,1.8 -6,2.4 -10,5.5 -10,7.6 -10,9.3 -18.7,19.2 -8.6,10 -6.7,10 -4,8 -3.3,10 -1.3,8 0,4 0.6,4 1.6,4 1.3,2 7,8 -1.9,0zM1697.8,909.8l4.9,-2.3 6,-4.6 6,-7.1 4.8,-8 3.5,-8 2.2,-8 0.8,-8 -0.5,-8 -1.9,-8 -3.2,-8 -5.7,-9.6 -6,-7.2 -6,-5 -6,-2.9 -6,-1.3 -6,0.1 -8,2 -10,5.2 -12,8.7 -11.3,10 -5.2,6 -3.7,6 -2,6 -0.5,4 0.2,4 0.8,4 1.5,4 2.2,4 3,4 3.6,4 6.6,6 12.8,9.6 10,5.8 8,3 8,1.1 4,-0.2 5.1,-1.3z" fill="#4d1c00"/><path d="M1780.7,1061.8l-72.7,0 -11.3,-3.9 -12,-2.4 -36,-4 -18,-1.1 -12,0.9 -8,2 -4.1,2.5 -1.5,2 -1.9,4 -98.5,0.3 -14,0 -0.3,-0.3 0.3,-105.8 6,-2.9 3.4,-3.3 2.6,-4.9 2,-6.3 2.2,-10.8 1.7,-14 0.9,-14 0.3,-18 -0.3,-56 -0.9,-14 -1.9,-15.4 -2.9,-12.6 -3.1,-7.3 -2,-2.5 -2,-1.6 -6,-2.9 -0.3,-105.7 0.3,-0.3 120.9,0.3 0.9,2 2.2,2.5 2.1,1.5 4.6,2 11.3,2.4 14,0.7 14,-0.5 37.2,-2.6 18.8,-2.9 20.1,-5.1 15.2,0 0.3,2 6.4,14.6 7.8,21.4 3.6,8 4.3,8 6.3,9.4 6.7,8.6 20.4,22 12.9,13 9.9,9 10.1,7.9 8,5.2 12,6.2 12,4.6 10,2.3 6,-0.1 0.4,63.9 -0.4,76.7 -6,-3.7 -4,-0.8 -4,0.1 -6,1.1 -6,1.7 -12,5.2 -10,6.1 -10,7.9 -10,9.4 -18,18.4 -8.6,9.9 -7.2,10 -5.3,10 -3.8,10 -2.3,10 -0.2,8 1.4,4.4 6,7.6 -2,0zM1697.7,911.8l7,-3.5 6,-5.3 6,-8 4,-7.2 3.3,-8 2.1,-8 0.8,-8 -0.5,-8 -1.8,-8 -3.9,-9.6 -6,-10.1 -6,-7.3 -6,-4.8 -6,-2.9 -6,-1.2 -6,0.2 -8,2.2 -10,5.3 -13.7,10.2 -11.6,10 -5.3,6 -3.7,6 -2.1,6 -0.5,4 0.1,4 0.9,4 1.5,4 2.3,4 3,4 3.7,4 6.8,6 14.6,11 10,5.9 8,3.2 8,1.2 4,-0.2 5,-1.1z" fill="#582000"/><path d="M1772.7,1061.8l-53.5,0 -6.5,-2.7 -8,-2.6 -16,-3.4 -44,-4.8 -18,-1 -14,0.7 -10,2.3 -3.1,1.5 -2.1,2 -2.3,4 -1.5,4 -103.2,0 0.2,-97.5 6,-2.5 5.2,-4 2.3,-4 1.9,-6 2.6,-14 1.5,-14 0.9,-16 0.4,-20 -0.4,-62 -1.1,-18 -2.2,-18 -2.1,-10 -3,-7.2 -4,-3.7 -4,-2.2 -4,-1.5 0,-97.6 112.1,0.2 2.9,6 2.5,2 4.4,2 10.1,2.4 14,1.2 16,-0.1 38,-2.2 40,-4.1 6,0.1 6,1.2 4,2.1 2,1.5 4.9,5.9 3.1,5.3 11.6,24.7 6,10 5.7,8 13.6,16 25.1,25.7 16,14.2 8,6 8,5.2 10,5.5 12,5.7 10,4.1 6,1.4 0.3,56.2 -0.3,68.5 -2,-1.1 -4,-1 -8,1.1 -14,4.9 -14,7.2 -9.3,6.4 -8.7,7.3 -28.8,28.7 -8.7,10 -5.8,8 -5.9,10 -4.5,10 -4,12 -1.7,8 0.3,6 0.9,2 3.1,4 -0.9,0zM1697.4,913.8l5.3,-2.2 6,-4.4 6,-7 4,-6.3 4,-8.2 3.4,-9.9 1.6,-10 -0.2,-8 -1.4,-8 -3.6,-10 -5.8,-10.9 -6,-8.1 -6,-5.6 -6,-3.3 -6,-1.7 -6,-0.1 -8,1.8 -10,5 -14.9,10.9 -14.4,12 -5.5,6 -3.7,6 -2.1,6 -0.5,4 0.2,4 1.5,6 1.9,4 2.7,4 3.4,4 8.9,8 16.5,12.3 10,6 8,3.3 8,1.5 4,-0.2 4.7,-0.9z" fill="#632400"/><path d="M1758.7,1061.8l-25.9,0 -17.9,-6 -10.2,-2.5 -12,-2.3 -50,-5.3 -24,-1.2 -18,1 -4,0.7 -5,1.6 -2.7,2 -2.8,4 -3,8 -92.7,0 0.2,-87.2 6,-2.1 6,-3.7 2,-1.8 2,-2.9 1.4,-4.3 1.8,-12 2,-22 0.9,-18 0.3,-20 -0.4,-72 -1.7,-28 -2.3,-19.8 -1.7,-6.2 -2.3,-3.5 -6,-4.3 -8,-3.1 0,-87.3 102.1,0.2 1.3,4 2.2,4 1.8,2 2.6,1.4 10,2.7 18,1.8 24,-0.2 72,-4.5 8,0.3 8,2 6,3.6 2.9,2.9 3,4 15.3,28 6.6,10 6,8 12.2,14 21.5,22 16.5,15.1 14,10.8 12,7.7 32,18.4 0,107.1 -2,-0.2 -4,0.7 -10,3.8 -16,7.6 -12,7.1 -8,5.8 -9.6,8.1 -24.3,24 -14.4,16 -9.6,14 -6.3,12 -11.2,26 -1.3,4 -0.2,2 0.5,2 -1.6,0zM1696.9,915.8l5.8,-2.3 6,-4.2 6,-6.8 4,-6.4 5,-10.3 3.3,-10 1.5,-10 -0.1,-8 -2,-10 -3.7,-9.9 -6,-11.2 -5,-6.9 -5,-5.1 -6,-3.9 -6,-2.1 -4,-0.5 -4,0.2 -8,1.9 -10,5.1 -19.2,14.4 -12.1,10 -5.6,6 -3.7,6 -2.1,6 -0.6,4 0.2,4 0.9,4 1.5,4 2.3,4 3.1,4 8.5,8 18.8,14.2 10,6.5 10,4.5 8,1.6 4,-0.1 4.2,-0.7z" fill="#6e2800"/><path d="M1566.7,1061.8l-76.1,0 0.1,-70.7 8,-2.5 6,-3.7 6,-6.2 1.5,-2.9 0.5,-2 2,-70 0,-70 -1.6,-82 -0.4,-2.4 -2,-3.4 -6,-5.8 -6,-3.4 -8,-2.4 -0.1,-70.6 87.4,0 2.9,8 2.7,4 2,2 4.7,2 10.4,1.1 22,1 18,0.1 80,-3.9 10,0.6 8,2.2 6,3.7 4,4 5,7.2 12.8,22 8.3,12 13.3,16 17.4,18 15.2,14.6 14,12.2 14,10.4 25,16.8 7.5,6 7.5,7.3 0,86.6 -15,10.1 -21,12.3 -10,6.5 -12,9.4 -12,11.1 -22.5,22.7 -10.5,12 -9.8,14 -13.2,24.3 -4,6.2 -4,4.6 -6,4 -6,1.5 -8,-0.1 -30,-5.9 -12,-1.8 -56,-5.5 -22,-1.3 -26,0 -8,1.1 -2,0.9 -2.5,2 -4.8,6 -1.8,4 -1.8,6 -1.1,0zM1696.1,917.8l6.6,-2.3 6,-4.1 5.2,-5.6 4.8,-7.3 5.2,-10.7 3.4,-10 1.9,-10 0.1,-8 -1.5,-10 -3.1,-9.6 -6,-12.4 -6,-9 -6,-6.2 -6,-3.8 -6,-1.9 -6,-0.4 -8,1.5 -4,1.5 -6,3.2 -8,5.6 -25.1,19.5 -6.2,6 -4.4,6 -2.7,6 -0.8,4 -0.2,4 0.5,4 1.2,4 1.9,4 2.7,4 5.6,6 9.9,8 19.6,14.2 6,3.9 6,3.1 6,2.2 4,0.8 4,0.3 5.4,-0.5z" fill="#7b2c00"/><path d="M1744.7,1050.1l-8,1.5 -8,-0.2 -40.1,-5.6 -55.9,-5 -38,-2.9 -10,-1.4 -8,-1.8 -6,-1.9 -8,-3.5 -6,-3.6 -6,-4.6 -8,-8.1 -7.5,-9.2 -5.5,-8 -4.4,-8 -3.4,-8 -2.9,-10 -1.8,-10 -1,-14 -0.1,-158 0.4,-12 1.3,-12 2.1,-10 3.4,-10 4,-8 6.6,-10 8.8,-10.6 10,-10.1 10,-8.1 8,-4.8 8,-3.3 8,-2.2 8,-1.3 10,-0.8 38,-0.7 72,-3.2 12,0.6 6,1.2 4,1.4 6,3.6 6,6.3 4,5.7 11.2,18.3 6.8,10 9.3,12 10.9,12 20,20 17.8,16.1 12,9.8 24.7,18.1 7.3,6 4.1,4 5.1,6 6,10 0.8,1.8 0,58.4 -2.8,5.8 -2.5,4 -4.9,6 -6.5,6 -8.1,6 -21.2,14.1 -12,9.5 -11.4,10.4 -18.2,18 -11.4,12 -9.8,12 -6.8,10 -12.4,20.4 -4,5.4 -6,5.5 -6,3zM1695,919.8l3.7,-0.8 4,-1.5 6,-4 5.4,-5.7 4.6,-7 5.4,-11 3.5,-10 2.2,-10 0.3,-10 -1.4,-10 -3.2,-10 -5.5,-12 -6.3,-10 -5,-5.6 -6,-4.3 -6,-2.4 -4,-0.7 -4,-0.1 -8,1.7 -4,1.6 -6,3.3 -8,5.6 -29.4,22.9 -5.7,6 -3.8,6 -2.1,6 -0.6,6 0.5,4 1.2,4 3.2,6 5,6 9.5,8 24.2,17.5 10,6.2 6,2.6 4,1.2 6,0.7 4.3,-0.2z" fill="#883000"/><path d="M1732.7,1047.8l-10,-0.3 -32,-3.6 -84,-7.4 -14,-2.1 -12,-3.3 -8,-3.6 -8,-5 -8,-6.4 -6.5,-6.3 -8.9,-10 -6,-8 -5.1,-8 -5,-10 -2.8,-8 -2.2,-10 -1.3,-10 -0.6,-14 -0.5,-70 0.5,-64 0.8,-18 1.7,-12 2.7,-10 4.2,-10 5.9,-10 7.5,-10 10.8,-12 10.8,-9.9 10,-7.4 10,-5.3 12,-3.9 12,-1.9 70,-3.4 30,-0.9 12,0.1 10,1.4 8,2.9 6,4.3 4,4.2 22.7,33.8 7.8,10 8.9,10 17.9,18 17.3,16 13.4,11.5 23.7,18.5 9.3,8 4,4 4.8,6 5.7,10 2.7,8 1.9,10 0.6,10 -0.5,10 -1.4,10 -1.9,8 -3.1,8 -4.8,8 -5.1,6 -6.7,6 -23.2,17 -14,11.5 -32.4,31.5 -9.2,10 -6.5,8 -7.2,10 -11.7,18 -7,8.1 -4,3.2 -4,2.2 -6,1.8 -6,0.7zM1701.8,919.8l4.9,-2.7 6,-5.3 5.7,-8 4.3,-8.4 4.6,-11.6 2.6,-10 1.1,-10 -0.4,-8 -2.1,-10 -3.8,-10.5 -6,-12.2 -6,-8.8 -6,-5.9 -6,-3.5 -6,-1.7 -4,-0.3 -4,0.4 -8,2.3 -8,4.2 -39.6,30 -5.7,6 -3.8,6 -2.1,6 -0.5,4 0.1,4 1.6,6 1.9,4 2.7,4 3.6,4 9.6,8 30.2,21.6 10,5.4 8,2.5 8,0.3 7.1,-1.8z" fill="#963400"/><path d="M1734.7,1044l-8,0.6 -8,-0.3 -88,-7.3 -28,-3.4 -8,-1.6 -8,-2.3 -8,-3.4 -8,-4.6 -8,-6.1 -8.3,-7.8 -9,-10 -7.5,-10 -6.2,-10 -3.8,-8 -3.5,-10 -2.2,-10 -1.3,-12 -0.7,-16 -0.8,-58 0.7,-56 0.9,-20 2.3,-16 3.4,-11.6 4.8,-10.4 6.2,-10 9.2,-12 11.3,-12 10.5,-9.2 10,-6.9 10,-5 12,-3.6 12,-1.8 62,-3.4 28,-0.6 14,0.2 10,1.5 8,2.9 6,4.2 5.4,5.7 23.4,34 6.4,8 7.1,8 16.1,16 17.2,16 16.4,14.1 21.8,17.9 8.9,8 8.6,10 5.6,10 2.6,8 1.8,10 0.5,10 -0.4,10 -1.9,12 -2.2,8 -3.5,8 -3.8,6 -5.1,6 -6.4,6 -22.5,17.5 -14,12.1 -31.4,30.4 -14.1,16 -18.5,26 -6,7 -4,3.5 -4,2.5 -4,1.8 -6,1.4zM1701.6,921.8l5.1,-2.6 6,-5.2 4.7,-6.2 5.3,-9.8 4.9,-12.2 2.8,-10 1.3,-10 -0.3,-10 -2,-10 -3.5,-10 -5.5,-12 -6.2,-10 -5.5,-5.9 -6,-4.1 -6,-2.1 -4,-0.5 -4,0.1 -8,1.9 -4,1.7 -6,3.5 -41.7,31.4 -5.8,6 -3.8,6 -2.1,6 -0.5,4 0.1,4 1.5,6 2,4 4.4,6 4,4 7.6,6 32.3,22.9 10,5.7 8,2.5 8,0.5 6.9,-1.6z" fill="#a33800"/><path d="M1736.7,1040l-8,1.4 -10,0.2 -64,-4.1 -42,-4.3 -12,-2.2 -10,-2.8 -8,-3.2 -9,-5.2 -7.9,-6 -8.5,-8 -8.9,-10 -7.5,-10 -6.1,-10 -4.9,-10 -3.4,-10 -2.5,-12 -1.4,-14 -0.8,-20 -0.7,-48 0.8,-46 1.2,-24 2.3,-16 3.3,-11.2 4.8,-10.8 7.3,-12 9.2,-12 10.7,-11.5 10,-8.8 10,-7.1 10,-5.2 12,-3.9 14,-2.3 20,-1.6 32,-1.5 30,-0.5 16,0.4 10,1.5 8,2.9 6,4.1 6,6.2 21.7,31.3 6.3,8 7.2,8 12,12 19.4,18 46.3,40 5.7,6 4.7,6 5.5,10 2.7,8 1.5,8 0.7,10 -0.3,10 -1.3,10 -2.4,10 -3.3,8 -3.4,6 -4.6,6 -5.9,6 -33.5,28 -35,33.4 -12.9,14.6 -17.1,23 -7.8,9 -6.2,4.7 -8,3.5zM1701.6,923.8l5.1,-2.5 6,-4.9 5.1,-6.6 4.9,-9.1 5.1,-12.9 3.4,-12 1.3,-10 -0.3,-10 -1.9,-10 -4.1,-12 -5.5,-12.1 -6,-9.7 -6,-6.4 -6,-3.8 -6,-2 -4,-0.4 -4,0.2 -8,2 -10,5.3 -20,15.6 -19,13.3 -5,4 -5.7,6 -3.9,6 -2.1,6 -0.5,4 0.1,4 1.6,6 1.9,4 4.4,6 4,4 7.7,6 16.5,11.1 18,13.2 10,5.8 8,2.7 8,0.7 6.9,-1.5z" fill="#b03d00"/><path d="M1730.7,1037.9l-8,0.9 -10,0 -48,-2.3 -20,-1.4 -20,-2.1 -14,-2 -10,-2.1 -10,-3.2 -8,-3.7 -8,-4.9 -9,-7.3 -8.1,-8 -8.4,-10 -7.1,-10 -5.8,-10 -4.6,-10 -4.2,-14 -2.2,-14 -1.3,-18 -0.8,-30 -0.3,-32 1.1,-42 1.5,-20 2.4,-14 3.7,-12 5.7,-12 7.6,-12 9.3,-12 10.5,-11.1 10,-8.6 10,-6.8 10,-4.9 12,-3.7 12,-2.1 20,-1.7 28,-1.3 26,-0.3 18.1,0.5 11.9,1.7 8,3 6,3.9 6,6.1 6,7.9 14.4,21.4 6.3,8 7.1,8 10,10 15.3,14 41.6,36 10.8,10 5.5,6 4.6,6 5.5,10 2.7,8 1.7,10 0.5,10 -0.6,10 -1.5,10 -2.8,10 -3.7,8 -3.9,6 -5,6 -6.1,6 -32.6,28 -31.8,30 -10.9,12 -19.1,24.8 -6.5,7.2 -4.8,4 -4.7,2.8 -4,1.7 -6,1.6zM1701.7,925.8l5,-2.3 6,-4.7 5.5,-7 4.5,-8.3 5.4,-13.7 3.5,-12 1.5,-10 0.1,-10 -1.6,-10 -3.6,-12 -5.9,-14 -5.7,-10 -5.7,-6.8 -6,-4.4 -6,-2.4 -4,-0.6 -4,0 -8,1.7 -4,1.6 -6,3.3 -6,4.1 -18,14.5 -16.5,11 -7.8,6 -5.8,6 -3.8,6 -2.2,6 -0.5,4 0.2,4 1.5,6 1.9,4 4.4,6 4,4 7.8,6 18.8,12.4 20,14.7 8,4.6 8,2.8 8,0.8 7,-1.3z" fill="#bf4200"/><path d="M1720.7,1035.9l-12,0.2 -40,-1.2 -30,-1.9 -16,-1.8 -12,-2 -10,-2.3 -10,-3.6 -8,-4 -8.2,-5.5 -7.8,-6.6 -9,-9.4 -7.9,-10 -6.7,-10 -5.4,-10 -4.3,-10 -4,-14 -2.3,-16 -1.3,-20 -0.9,-34 0.1,-30 1.3,-34 1.7,-18 2.7,-13.6 4.3,-12.4 5.9,-12 7.7,-12 9.4,-12 9.6,-10 11.1,-9.3 10.4,-6.7 11.6,-5.1 12,-3.2 14,-2 20,-1.5 24,-0.8 26,0.2 14,0.8 10,1.6 8,3 6,3.9 6,6 6,7.8 14.2,21.3 6.5,8 9.3,10 17.3,16 46.4,40 12.4,12 8.1,10 3.5,6 2.7,6 2.4,8 1.4,10 0.3,10 -0.8,10 -1.9,10 -2.4,8 -3.7,8 -4,6 -5,6 -6,6 -34.3,30 -28.4,26 -10.8,12 -19.2,24.3 -7.4,7.7 -6.6,4.8 -6,2.7 -6,1.6 -8,1zM1702.2,927.8l6.5,-3.2 5.5,-4.8 4.5,-5.9 4.3,-8.1 4.8,-12 4.2,-14 1.9,-12 0.1,-10 -2,-12 -3.3,-11 -6,-14.7 -6,-10.7 -6,-6.9 -6,-4.2 -6,-2.1 -4,-0.6 -4,0.1 -8,1.9 -4,1.7 -6,3.4 -6,4.2 -18,14.6 -18.8,12.3 -8,6 -5.8,6 -3.8,6 -2.2,6 -0.5,4 0.2,4 1.5,6 1.9,4 4.4,6 4.1,4 7.8,6 21.2,13.6 20,15 8,4.7 8,3 8,1 7.5,-1.3z" fill="#cd4700"/><path d="M1726.7,1031.9l-8,1.1 -12,0.4 -38,-0.2 -20,-0.9 -18,-1.6 -14,-2 -12,-2.6 -10,-3.3 -10,-4.9 -8,-5.4 -7.9,-6.7 -7.8,-8 -8,-10 -6.6,-10 -5.5,-10 -4.4,-10 -4.3,-14 -2.4,-14 -1.5,-18 -1.1,-30 -0.1,-30 1.1,-36 1.8,-20 2.7,-13.9 4,-12.4 6.5,-13.7 7.4,-12 9.2,-12 9.4,-10 11.5,-9.8 10,-6.4 10,-4.6 12,-3.6 14,-2.2 18,-1.5 22,-0.7 24,0.4 18,1.1 10,1.7 4.7,1.6 4.2,2 5.7,4 5.9,6 5.5,7.5 6.5,10.5 5.6,8 6.4,8 9.3,10 13.1,12 47.4,40 14.9,14 5.3,6 4.4,6 3.6,6 2.6,6 2.4,8 1.4,10 0.2,10 -0.8,10 -1.9,10 -2.5,8 -3.8,8 -4,6 -6.8,8 -8.3,8 -48.8,42 -10.8,10 -8.9,10 -16.5,21.2 -8,8.5 -5.4,4.3 -4.6,2.7 -4,1.7 -6,1.7zM1703,929.8l5.7,-2.7 6,-5.1 4.7,-6.2 4.2,-8 5.3,-14 4,-14 1.8,-12 0.1,-10 -1.4,-10 -4,-14 -6.2,-16 -5.6,-10 -4.9,-6.1 -6,-4.7 -6,-2.5 -4,-0.8 -4,-0.1 -8,1.6 -4,1.5 -6,3.2 -8,5.5 -20,16.2 -19.3,12.2 -6.7,4.9 -7.3,7.1 -3.8,6 -2.1,6 -0.6,6 1,6 2.6,6 4.4,6 4.1,4 7.9,6 22.4,14 21.4,16.1 10,5.8 8,2.7 8,0.6 6.3,-1.2z" fill="#db4c00"/><path d="M1716.7,1029.9l-14,0.8 -32,0.6 -28,-1 -16,-1.6 -12,-2 -10,-2.4 -10,-3.6 -8,-4.1 -8,-5.3 -8.7,-7.5 -7.6,-8 -7.8,-10 -6.3,-10 -6.2,-12 -4,-10 -3.4,-12 -2.7,-16 -1.4,-18 -1,-30 0,-30 1.1,-30.6 1.9,-19.4 2.7,-14 4.5,-14 5.6,-12 7.1,-12 8.9,-12 9.3,-10.1 12,-10.3 10,-6.4 12,-5.3 10,-2.9 14,-2.3 18,-1.4 20,-0.4 22,0.7 18,1.5 10,2 8,3.2 6,4.2 5.4,5.5 3,4 7.2,12 5.5,8 8.1,10 7.6,8 11.2,10 40,32.2 16,13.9 10.2,9.9 6.8,8 4.1,6 3.2,6 2.3,6 2.1,8 1.1,10 0,10 -1.1,10 -2.2,10 -2.9,8 -4.2,8 -4.3,6 -7.2,8 -10.8,10 -46.1,38 -9,8 -9.4,10 -16.5,22 -8.1,8 -6,4.1 -6,2.8 -6,1.8 -8,1.4zM1704.4,931.8l6.3,-3.3 6,-5.7 4.7,-7 3.8,-8 4.9,-14 4.1,-16 1.5,-12 -0.2,-10 -2.1,-12 -4.1,-14 -5.4,-14 -5.2,-9.8 -6,-7.3 -6,-4.3 -6,-2.3 -4,-0.6 -4,0.1 -8,1.8 -10,4.9 -8,5.6 -20,16.4 -22,13.5 -8.2,6 -6,6 -3.9,6 -1.6,4 -0.9,4 0,6 1.5,6 2,4 4.4,6 4.1,4 8,6 24.6,15 24,18.1 8,4.5 8,3 8,0.9 4,-0.4 3.7,-1.1z" fill="#e85100"/><path d="M1700.7,1027.8l-36,1.7 -14,-0.2 -14,-0.9 -14,-1.8 -12,-2.4 -10,-3.1 -8,-3.4 -8,-4.6 -9.4,-7.3 -8.2,-8 -6.6,-8 -7,-10 -5.6,-10 -5.3,-12 -3.8,-12 -2.9,-14 -1.8,-16 -1,-24 -0.4,-34 0.6,-30 1.2,-20 2.2,-16 2.9,-12 5.2,-14 7.1,-14 7.9,-12 8.9,-10.8 10,-9.6 12,-8.8 10,-5.3 12,-4.2 12,-2.4 14,-1.6 16,-0.7 16,0.2 18.6,1.2 16.5,2 8.9,2.1 8,3.6 5.5,4.3 3.6,4 8.2,14 5.3,8 7.9,10 7.7,8 11.7,10 24.1,17.3 14,10.7 20.9,18 10.3,10 6.8,8 4,6 4,8 2.7,8 1.7,10 0.3,10 -0.7,10 -1.7,10 -2.4,8 -3.6,8 -4.3,6.9 -5.7,7.1 -7.9,8 -12.4,10.8 -20,15.9 -23.5,17.3 -9.7,8 -6,6 -5,6 -7.8,12 -4.5,6 -3.8,4 -4.8,4 -6.9,4.1 -8,2.8 -8,1.6 -14,1.5zM1706.8,933.8l5.9,-3.5 4.5,-4.5 4.2,-6 4.7,-10 5.2,-16 3.9,-16 1.3,-12 -0.2,-10 -2.3,-14 -4.1,-14 -5,-14 -5.1,-10 -5.1,-6.6 -6,-4.8 -6,-2.5 -4,-0.7 -4,0 -6,1 -4,1.3 -10,5.1 -8,5.8 -20,16.5 -8,5.1 -17.1,9.8 -6.9,4.8 -5.7,5.2 -4.7,6 -2.7,6 -0.9,4 -0.2,4 1,6 2.6,6 4.6,6 4.1,4 9.9,7.1 25.4,14.9 24.6,18.8 10,5.7 8,2.7 8,0.7 4,-0.6 4.1,-1.3z" fill="#f45701"/><path d="M1660.7,1027.8l-14,-0.2 -14,-1.1 -12,-1.7 -12,-2.8 -10,-3.5 -8,-4 -7.3,-4.7 -7.3,-6 -7.9,-8 -7.9,-10 -6.4,-10 -5,-10 -3.9,-10 -3.5,-12 -2.2,-12 -1.4,-14 -0.3,-18 1,-38 -0.8,-38 0.7,-18 1.5,-12 2.5,-12 3.9,-12 4.3,-10 7.8,-14 8.9,-12 11.3,-11.6 10.8,-8.4 11.2,-6.4 12,-4.4 14,-3 16,-1.6 12,-0.3 12,0.2 24,2.4 16,3.1 6,2.1 6.8,3.9 3.8,4 8.6,16 6.1,10 6,8 5.6,6 4.7,4 6.4,4.7 28,16.4 16,10.9 19.5,16 10.8,10 5.8,6 7.6,10 5.3,10 3.1,10 1.5,12 0,8 -0.7,8 -1.4,8 -1.5,6 -2.2,6 -2.8,6 -3.8,6 -4.6,6 -5.6,6 -7,6.6 -22,17.5 -16,11 -25,14.9 -10.5,8 -4.1,4 -4.8,6 -5,8 -3.9,8 -3.1,4 -2.4,2 -6.5,4 -4.7,1.9 -12,3.1 -24,3.4 -24,1.6zM1705.6,937.8l5.1,-2.1 6,-4.7 5.3,-7.2 3.8,-8 4,-12 5.6,-22 1.8,-12 0.2,-12 -1.5,-12 -3.9,-16 -4.9,-16 -5.4,-12 -5,-7 -6,-5 -6,-2.6 -4,-0.7 -4,-0.1 -4,0.5 -6,1.7 -10,5 -8,5.6 -16,13.6 -6.6,5 -9.4,5.8 -18.7,10.2 -8.7,6 -6.3,6 -4.2,6 -2.3,6 -0.6,6 0.5,4 1.2,4 3.4,6 5.5,6 7.6,6 31.7,18 8.4,6 16.5,13.2 10,6.4 8,3.5 6,1.5 6,0.3 4.9,-0.9z" fill="#ff5c02"/><path d="M1596.7,844l-2,0.6 -2,-0.2 -10,-2 -10,-3.4 -10,-4.9 -6,-4.1 -4.5,-4.2 -4.4,-6 -3.1,-6.4 -1,-7.6 0.3,-10 1.4,-10 2.9,-12 3.6,-10 4.8,-10 6,-10 5.9,-8 5.3,-6 6.8,-6.6 6.5,-5.4 7.5,-5 6,-3.3 8,-3.4 14,-3.8 10,-1.5 12,-0.9 12,-0.1 12,0.7 11.2,1.3 10.4,2 8.4,2.4 7.6,3.6 2.4,2 2,2.8 4.6,9.2 3.6,12 1.4,10 -0.2,10 -1.5,8 -3.1,10 -3.7,8 -1.1,0.6 -8,0.1 -6,0.6 -6,1.6 -8,3.5 -12,7.8 -18.8,15.8 -8.1,6 -7.1,4.2 -23.4,11.8 -16.6,10.2zM1770.7,961.9l-8,1.1 -6,-0.4 -6,-1.8 -5,-3 -6.3,-6 -6,-8 -5.6,-10 -1.8,-4 -0.2,-2 10.2,-44 1.7,-10 0.7,-10 -0.2,-8 -0.9,-8 -1.8,-10 -6.8,-29.5 -0.3,-2.5 0.3,-3.2 7.1,-12.8 6.9,-8.5 4,-3.4 3.6,-2.1 4.4,-1.4 4,-0.5 6,0.3 8,1.8 8,2.9 8,3.7 8,4.6 10,6.7 16.8,13.9 14.2,14 5,6 4,6 3.1,6 2.9,8 1.4,6 1,8 0.1,8 -0.5,8 -1.2,8 -2,8 -2.2,6 -3,6 -3.8,6 -3.8,4.9 -6,6.5 -7.3,6.6 -12.7,10.2 -10,7.2 -8,4.9 -8,4.2 -8,3.2 -8,2.4zM1662.7,1025.9l-16,0.1 -16,-1.2 -14,-2.3 -12,-3.4 -10,-4.4 -10,-6.3 -8,-6.6 -8,-8.5 -8.5,-11.5 -7.6,-14 -5.2,-14 -2.1,-8 -1.4,-8 -1,-14 0.2,-6 0.9,-6 0.7,-2.2 4,-6.7 6,-6.2 4,-2.9 6,-3.3 10,-4 12,-2.9 8,-1 2,0.2 18,10.4 28.4,14.6 8.8,6 20.8,16.6 10,6.4 8,3.8 6,1.9 7.5,1.3 2.5,1.1 1,0.9 3.7,8 2.8,8 1.9,8 1.2,10 0,8 -1.2,10 -2,8 -2.5,6 -1.4,2 -2.4,2 -3.9,2 -5.3,2 -7.2,2 -9.9,2 -18.8,2.1z" fill="#ff6407"/><path d="M1612.7,830.4l-6,1 -10,-0.9 -10,-2.3 -10,-3.8 -8,-4.6 -6,-4.6 -6,-6.2 -5,-7.2 -1.6,-4 -0.8,-6 0.5,-8 1.5,-8 2.2,-8 3.1,-8 3.9,-8 4.9,-8 5.9,-8 5.4,-6 6,-5.8 6,-4.9 6,-4.1 8,-4.5 6.4,-2.7 7.6,-2.4 10,-2.2 10,-1.2 10,-0.5 12,0.2 10,0.9 10,1.8 8,2.4 6.3,3 4.2,4 3.9,6 3,8 1.9,10 0.3,8 -1.1,10 -2.6,10 -4.1,10 -1.4,2 -3,2 -9.4,4.9 -10,6.4 -8,6.3 -14.4,12.4 -8.1,6 -6.8,4 -8.2,4 -16.5,6.6zM1784.7,951.8l-8,1.5 -8,-0.5 -6,-2.1 -6,-3.9 -7.1,-7 -5.8,-8 -6.5,-12 -2.6,-6.5 -0.9,-3.5 0.4,-8 4,-24 1.2,-14 -0.5,-12 -3.4,-24 0.1,-6 2.4,-6 4,-8 5,-8 4.7,-6 5,-5 4,-2.8 4.8,-2.2 5.2,-1.1 6,0.2 6,1.3 6,2.2 6,2.8 6,3.4 8,5.5 8,6.3 8.2,7.4 13.1,14 6.8,10 2.9,6 2,6 2.2,12 0.3,8 -0.4,8 -2.4,14 -1.9,6 -2.5,6 -6,10 -8.8,10 -8.9,8 -8.6,6.9 -14,9.1 -8,3.9 -6,2.1zM1662.7,1023.9l-14,0.6 -14,-0.7 -12,-1.6 -12,-2.8 -9.9,-3.6 -8.1,-4.2 -8.5,-5.8 -8.8,-8 -8.5,-10 -7.7,-12 -5.5,-12 -4.2,-14 -1.6,-12 0.1,-6 0.7,-5.2 2.2,-4.8 6.7,-8 5.1,-4.3 8,-5.1 8,-3.6 6,-1.9 8,-1.7 8,-0.8 10,0 4,0.8 16.8,6.6 8.1,4 6.7,4 8.3,6 18.1,14.9 18.2,13.1 3.4,6 3.5,8 2.4,8 1.6,8 0.6,8 -0.2,6 -1.2,8 -1.6,6 -1.7,4 -2.3,4 -3.6,4 -3.3,2 -4.9,2 -7.2,2 -13.7,2.1z" fill="#ff6c0d"/><path d="M1616.7,823.9l-8,0.2 -8,-0.7 -8,-1.6 -8,-2.6 -8,-4 -6,-4.1 -5.7,-5.3 -4.8,-6 -2.5,-4 -2.7,-6 -0.7,-4 0.1,-6 0.8,-6 2.1,-8 3,-8 4,-8 5.1,-8 4.6,-6 5.4,-6 6.4,-6 6.9,-5.3 6,-3.8 6,-3.2 8,-3.2 8,-2.3 10,-1.8 10,-0.9 10,-0.1 10,0.6 10,1.6 7.9,2.4 4.1,2 4.9,4 4.5,6 3.6,8 2.2,10 0.4,8 -1,10 -2.7,10 -4.3,10 -3.4,4 -14.2,10.7 -20,17.1 -8,5.9 -8,4.5 -9.2,3.8 -6.8,1.7 -4,0.4zM1788.7,945.8l-8,1.2 -4,-0.2 -4,-0.8 -4,-1.5 -4,-2.2 -6,-4.8 -6.8,-7.7 -6.4,-10 -5.3,-12 -1.9,-6 -0.8,-4 0.2,-6 2,-16 0.7,-10 -0.1,-12 -1.5,-18 1.1,-6 3.2,-8 4,-8 5,-8 4.6,-5.8 4.2,-4.2 5.8,-4.2 4,-1.8 6,-1.3 4,0 6,1 6,2.1 6,2.8 12,7.8 13.3,11.6 10.9,12 6.8,10 2.9,6 2.1,6 2.1,12 0,14 -2.1,14 -4.1,12 -5.8,10 -4.8,6 -5.8,6 -13.5,11.5 -12,7.7 -6,2.8 -6,2zM1660.7,1022.1l-12,0.7 -14,-0.5 -12,-1.6 -12,-2.9 -10,-3.8 -8,-4.4 -8.1,-5.8 -8.6,-8 -8.1,-10 -6.2,-10 -5.3,-12 -3.2,-12 -0.9,-10 0.2,-4 0.9,-4 2,-4 2.7,-4 5.3,-6 5.3,-4.5 8,-4.9 8,-3.3 6,-1.7 8,-1.3 8,-0.5 8,0.4 8,1.2 10,2.6 5,2 10.8,6 10.5,8 20.6,18 4.2,6 3.3,6 2.6,6 2.6,8 1.5,8 0.5,6 -0.3,8 -1,6 -1.8,6 -2.7,6 -2.8,4 -4.2,4 -3.7,2 -5.6,2 -11.5,2.3z" fill="#ff7512"/><path d="M1622.7,818l-8,0.8 -8,-0.2 -8,-1.1 -6,-1.5 -6,-2.2 -6,-3 -6,-4.2 -5.1,-4.8 -4.7,-6 -3.4,-6 -2.3,-6 -0.6,-4 0.2,-6 1,-6 1.8,-6 3.3,-8 4.4,-8 4.1,-6 4.9,-6 5.9,-6 6.5,-5.6 6,-4.2 7.4,-4.2 6.6,-3 8,-2.6 8,-1.8 8,-1 8,-0.5 10,0.2 8,0.9 8,1.7 5.4,2.1 5.8,4 5.3,6 4.1,8 2.3,8 0.9,8 -0.6,10 -2.4,10 -3.1,8 -3.2,6 -3.4,4 -23.1,20.3 -7.2,5.7 -6.3,4 -4.5,2.1 -8,2.6 -8,1.5zM1794.7,939.8l-8,1.8 -8,-0.2 -4,-1.1 -4,-1.7 -4,-2.4 -4,-3.2 -4,-4 -4,-5 -6.2,-10.2 -5,-12 -3,-12 -0.1,-6 1.3,-20 0,-22 1.5,-6 2.9,-8 3.7,-8 3.5,-6 4.3,-6 5.1,-5.7 4,-3.4 4.7,-2.9 5.3,-2 4,-0.6 4,0 6,1.1 10,4.1 6,3.7 6,4.3 10.4,9.4 8.7,10 4.3,6 3.5,6 3.9,10 2.2,12 0.1,12 -1.9,14 -3.2,10.2 -5,9.8 -7.7,10 -11.3,10.9 -6,4.6 -6,3.9 -10,4.6zM1660.7,1019.9l-12,1.2 -12,-0.1 -12,-1.4 -12,-2.7 -10,-3.8 -8,-4.2 -8,-5.6 -8.2,-7.5 -8.2,-10 -6.2,-10 -5,-12 -2.4,-10 -0.5,-8 1,-6 4.1,-8 6.6,-8 4.8,-4 6,-3.8 6,-2.8 6,-2 12,-2.1 6,-0.2 8,0.5 8,1.4 6,1.6 6,2.1 8,3.6 6,3.4 6,4.1 11.6,10.2 5.2,6 4.2,6 3.5,6 2.7,6 2.1,6 1.8,8 0.7,8 -0.2,6 -1,6 -1.8,6 -2.8,6 -2.7,4 -3.9,4 -2.9,2 -4.5,2 -8,2.1z" fill="#ff7d18"/><path d="M1622.7,813.8l-8,0.7 -6,-0.1 -12,-1.9 -6,-2.1 -6,-2.8 -5.7,-3.8 -4.6,-4 -3.7,-4.3 -3.7,-5.7 -2.7,-6 -1.6,-6 -0.3,-4 0.6,-6 1.4,-6 2.2,-6 2.9,-6 3.6,-6 4.4,-6 5.2,-6 6,-5.6 6,-4.7 6,-3.9 7.4,-3.8 12.6,-4.4 8,-1.6 8,-0.9 8,-0.3 8,0.5 8,1.3 6,1.8 6.4,3.6 6.1,6 3.8,6 3.1,8 1.5,8 0.1,8 -1.6,10 -2.7,8 -3.9,8 -5.7,8 -10.5,10 -8.6,7.3 -6,4.1 -8,3.7 -10,3.3 -8,1.6zM1794.7,936l-8,1.2 -4,-0.1 -4,-0.8 -4,-1.4 -4,-2.2 -4,-2.8 -4.4,-4.1 -6.4,-8 -3.6,-6 -2.8,-6 -4.1,-12 -2.5,-14 0.6,-24 0.7,-8 3.2,-12 4.1,-10 3.2,-6 3.9,-6 7.1,-8 5,-4 4,-2.2 4,-1.5 4,-0.8 4,0 4,0.5 4,1.1 6,2.5 10,6.2 6,4.9 5.4,5.3 8.3,10 6,10 3.9,10 2.2,12 0.1,12 -1.9,13.1 -3.5,10.9 -5.3,10 -7.6,10 -9.6,9.1 -10,6.8 -6,2.9 -4,1.4zM1658.7,1017.9l-10,1.5 -12,0 -12,-1.3 -10,-2.2 -10,-3.6 -8,-4.1 -8,-5.5 -7.7,-6.9 -6.9,-8 -6.5,-10 -4.6,-10 -2.7,-10 -0.6,-8 1.1,-6 3.8,-8 2.7,-4 3.6,-4 4.5,-4 5.3,-3.5 10,-4.4 6,-1.5 6,-0.9 6,-0.3 8,0.5 6,0.9 8,2.1 12,4.9 6,3.3 6,4.1 9.9,8.8 5.2,6 4.2,6 3.4,6 2.7,6 1.9,6 1.2,6 0.6,6 -0.1,6 -0.9,6 -1.7,6 -2.8,6 -2.7,4 -3.8,4 -3.1,2.3 -4,2 -6,1.8z" fill="#ff841d"/><path d="M1624.7,809.9l-6,0.8 -8,0.1 -6,-0.6 -6,-1.2 -6,-2 -6,-3 -4,-2.6 -4.3,-3.6 -3.7,-4 -4,-6 -1.9,-4 -1.9,-6 -0.9,-6 0.1,-4 1.2,-6 1.9,-6 2.8,-6 3.6,-6 4.4,-6 4.7,-5.4 10,-8.7 6,-4.1 7.1,-3.8 6.9,-2.9 6,-1.8 8,-1.7 8,-0.8 8,-0.2 6,0.5 6,1 6,1.9 6,3.4 5.2,4.6 4.4,6 3.5,8 1.7,8 0.2,8 -1.1,8 -2.4,8 -3.8,8 -5.2,8 -5.2,6 -7.3,6.7 -8,5.6 -8,4.2 -8,3.2 -10,2.4zM1794.7,932.3l-8,0.8 -4,-0.4 -4,-1 -4,-1.8 -4,-2.4 -4,-3.2 -4,-4.1 -4,-5.1 -3.2,-5.3 -4.6,-10 -3.4,-12 -1.7,-12 -0.1,-14 1.5,-12 3.2,-12 5.1,-12 6.4,-10 6.8,-7.2 4,-3 4,-2.3 4,-1.4 4,-0.8 4,-0.1 4,0.6 4,1.1 6,2.6 10,6.6 8.4,7.9 6.5,8 5.9,10 3.8,10 2.1,12 0,12 -1.7,12 -3.1,10 -4.9,10 -7.3,10 -8.2,8 -9.5,6.5 -6,2.7 -4,1.3zM1644.7,1017.8l-10,0 -12,-1.5 -9.7,-2.5 -8.3,-3.2 -8,-4.3 -8,-5.7 -7.2,-6.8 -6.6,-8 -5,-8 -4.4,-10 -2,-8 -0.4,-8 1.4,-6 3.8,-8 4.6,-6 6.8,-6 9,-5 6,-2 6,-1.2 6,-0.7 6,0 12,1.7 12,4 12,6.4 6,4.4 5.1,4.4 8.6,10 3.8,6 3,6 2.3,6 1.4,6 0.8,6 0,6 -0.7,6 -1.7,6 -2.7,6 -2.7,4 -3.7,4 -3.5,2.7 -4,2.1 -4,1.4 -6,1.2 -6,0.6z" fill="#ff8c23"/><path d="M1628.7,805.9l-12,1.7 -6,-0.1 -6,-0.7 -6,-1.4 -6,-2.3 -4,-2.1 -4.7,-3.2 -4.4,-4 -3.2,-4 -2.5,-4 -2.6,-6 -1.1,-4 -0.8,-6 0,-4 1.1,-6 2.1,-6 3,-6 6.8,-10 4.3,-4.8 5.6,-5.2 5.2,-4 6.3,-4 6.9,-3.5 6,-2.3 12,-2.9 8,-0.8 6,0 6,0.4 6,1.2 6,2.3 6,3.8 5.7,5.8 3.8,6 2.3,6 1.5,8 0,8 -1.4,8 -2.8,8 -4.3,8 -4.8,6.6 -6,6.3 -6.1,5.1 -7.9,5.1 -8,3.8 -10,3.2zM1796.7,928.2l-8,1.2 -4,-0.3 -4,-1 -4,-1.6 -4,-2.3 -7.3,-6.4 -6,-8 -5.1,-10 -3.7,-12 -1.8,-12 -0.3,-12 1.8,-14 3.3,-12 4.5,-10 5.1,-8 3.5,-4.2 4,-3.8 4,-3 4,-2.2 4,-1.4 4,-0.6 4,-0.1 4,0.7 8,2.9 8.8,5.7 8.5,8 6.2,8 5.5,10 3.2,10 1.6,10 0,12 -1.4,10 -2.8,10 -4.6,10 -5.4,8 -7.6,8 -8,6 -6,3 -4,1.4zM1644.7,1016l-10,0.2 -10,-1.1 -10,-2.3 -8,-3 -8,-4.1 -8.4,-5.9 -6.5,-6 -6.7,-8 -5,-8 -3.5,-8 -2.1,-8 -0.2,-8 2.2,-8 3,-6 4.6,-6 6.6,-5.7 4,-2.4 6,-2.6 10,-2.5 6,-0.4 6,0.1 12,2 12,4.5 10,5.8 10,8.5 7.3,8.7 5.7,10 2.2,6 1.6,6 0.7,6 -0.1,6 -0.9,6 -1.1,4 -2.7,6 -2.6,4 -5.9,6 -3,2 -4.4,2 -4.8,1.3 -6,0.9z" fill="#ff9328"/><path d="M1624.7,803.8l-6,0.8 -6,0 -10,-1.3 -6,-1.9 -4,-1.9 -4,-2.4 -4.2,-3.3 -3.8,-4 -2.9,-4 -3.6,-8 -1,-4 -0.7,-6 0.1,-4 1.2,-6 4.2,-10 6.9,-10 3.8,-4.2 6,-5.5 10,-6.9 6,-3 6,-2.4 12,-2.9 12,-0.8 6,0.5 6,1.3 6,2.6 6,4 5,5.3 3.6,6 2.3,6 1.3,8 -0.3,8 -1.8,8 -3.2,8 -3.5,6 -5.4,6.9 -6,5.9 -8,5.9 -8,4.4 -8,3 -8,1.9zM1798.7,924.3l-8,1.5 -4,-0.2 -4,-0.7 -4,-1.5 -4,-2.2 -6,-4.8 -6,-7.2 -5.2,-9.4 -3.5,-10 -2.3,-12 -0.6,-12 1.2,-12 2.9,-12 4.1,-10 5.4,-8.8 6.5,-7.2 3.5,-2.8 4,-2.4 4,-1.7 4,-0.9 4,-0.2 4,0.5 8,2.7 8,5.1 6.3,5.7 6.5,8 4.6,8 3.7,10 1.9,10 0.3,12 -1.2,10 -2.6,10 -4.4,10 -5.3,8 -7.5,8 -6.3,4.7 -8,3.8zM1644.7,1014l-8,0.5 -10,-0.7 -10,-2 -8,-2.8 -8,-4 -8,-5.4 -6.5,-5.8 -6.8,-8 -3.9,-6 -3.8,-8 -2.2,-8 -0.4,-6 0.9,-6 3.1,-8 4,-6 6.2,-6 5.4,-3.4 4,-1.9 10,-2.7 10,-0.7 6,0.5 6,1.2 6,1.7 6,2.4 10,5.7 8.8,7.2 7,8 5.9,10 3.5,10 1.1,10 -0.4,6 -0.8,4 -3.1,8 -2.6,4 -3.5,4 -3.9,3.2 -4,2.3 -4,1.5 -6,1.2z" fill="#ff9a2e"/><path d="M1618.7,801.8l-10,-0.3 -10,-2.5 -8,-4.2 -4,-3.2 -3.6,-3.8 -2.7,-4 -2.1,-4 -2.3,-8 -0.4,-4 0.1,-6 2,-8 2.7,-6 2.4,-4 6.3,-8 8.8,-8 10.8,-6.8 6,-2.6 6,-2 12,-2.2 10,0.1 6,1.1 4,1.3 6,3.1 5,4 4.9,6 3,6 1.7,6 0.6,8 -1,8 -2.5,8 -4.2,8 -4.5,6 -5.8,6 -7.2,5.7 -6,3.5 -8,3.5 -8,2.3 -8,1zM1794.7,922l-4,0.4 -4,-0.2 -6,-1.7 -4,-2 -3.9,-2.7 -6,-6 -5.2,-8 -3.6,-8 -2.8,-10 -1.5,-12 0.3,-12 1.6,-10 3.1,-10 4.9,-10 5.9,-8 7.2,-6.3 6,-3.1 4,-1 4,-0.4 6,0.7 8,3.2 8,5.8 6.6,7.1 5.2,8 3.6,8 2.5,10 1,10 -0.5,10 -1.8,10 -3.4,10 -4.2,8 -6.2,8 -6.8,6 -6,3.6 -8,2.6zM1644.7,1012l-8,0.8 -10,-0.6 -8,-1.5 -8.8,-2.9 -8.1,-4 -7.1,-4.7 -6.1,-5.3 -7,-8 -3.9,-6 -3.7,-8 -1.9,-8 0,-6 1.8,-8 2.9,-6 3.9,-5.3 5.1,-4.7 4.9,-3.1 4,-1.8 8,-2.3 10,-0.7 10,1.1 10,3 10,5.1 9,6.7 7.4,8 5.2,8 4.1,10 1.6,10 -0.2,6 -0.7,4 -3,8 -2.4,4 -3.4,4 -3.6,3 -4,2.4 -8,2.8z" fill="#ffa233"/><path d="M1626.7,798.2l-10,1.1 -10,-0.9 -6,-1.7 -4,-1.7 -4,-2.4 -3.6,-2.8 -5.2,-6 -2.3,-4 -1.6,-4 -1.5,-8 -0.1,-4 0.7,-6 2.7,-8 3.4,-6 2.9,-4 7.7,-8 8.9,-6.6 10,-5 10,-3 10,-1.2 10,0.9 6,1.8 6,3.2 4.9,3.9 4.7,6 2.9,6 1.5,6 0.4,6 -1,8 -2.6,8 -3.1,6 -4.2,6 -5.5,5.8 -6,4.9 -8,4.8 -8,3.3 -6,1.6zM1798.7,917.8l-4,1 -4,0.4 -6,-0.8 -4,-1.4 -4,-2.2 -6,-5 -4.8,-6 -4.3,-8 -3.5,-10 -1.7,-10 -0.3,-12 1.1,-10 2.7,-10 3.3,-8 5.5,-8.7 6,-6.3 6,-4 4,-1.7 4,-0.8 6,0 4,0.9 4,1.6 6,3.7 6,5.4 6,7.8 4.1,8.1 2.6,8 1.6,10 0.2,8 -1,10 -2.5,10 -3.4,8 -5.1,8 -5.4,6 -7.1,5.3 -6,2.7zM1642.7,1010.2l-8,0.8 -8,-0.4 -8,-1.6 -8,-2.6 -8,-3.9 -7,-4.7 -6.7,-6 -5.1,-6 -4,-6 -3.5,-8 -1.5,-6 -0.1,-6 1.6,-8 2.7,-6 3.6,-5.1 5.4,-4.9 4.6,-2.9 4,-1.8 8,-2.1 10,-0.5 10,1.5 10,3.5 8,4.4 8,6.3 6.8,7.6 5,8 3.6,10 0.9,6 0.2,4 -1.2,8 -3.3,8 -4.6,6 -3.4,3 -4,2.5 -4,1.7 -4,1.2z" fill="#ffaa39"/><path d="M1624.7,796.2l-10,0.6 -8,-1 -8,-2.9 -4,-2.3 -4,-3.2 -4.7,-5.6 -2.2,-4 -1.5,-4 -1.2,-8 0.1,-4 1,-6 3.1,-8 5.3,-8 7.9,-8 8.2,-5.7 10,-4.7 10,-2.7 10,-0.6 8,1.3 6,2.2 6,3.6 4,3.8 3.5,4.8 2.7,6 1.3,6 0.1,6 -1.3,8 -2.2,6 -3.3,6 -4.4,6 -6.1,6 -6.3,4.6 -6,3.3 -6,2.4 -8,2.1zM1792.7,915.9l-6,-0.3 -6,-2 -6,-4 -6,-6.5 -4.4,-7.3 -3.1,-8 -2.3,-10 -0.7,-10 0.7,-10 2.1,-10 3,-8 4.5,-8 6.2,-7.2 6,-4.4 6,-2.4 6,-0.6 6,1 6,2.6 6,4.4 6,6.6 4.8,8 3.1,8 1.7,8 0.7,10 -0.8,10 -1.7,8 -2.9,8 -4.5,8 -4.8,6 -5.6,4.8 -6,3.4 -4,1.3 -4,0.6zM1642.7,1007.9l-6,1.1 -8,0 -8,-1.2 -8,-2.3 -7.9,-3.7 -6.3,-4 -7.1,-6 -5.3,-6 -3.9,-6 -3.5,-8 -1.2,-6 0.1,-6 1.1,-6 2.5,-6 4.3,-6 4.6,-4 6.6,-3.8 8,-2.4 8,-0.7 10,1.1 10,3.2 8,4.2 8,6.1 6,6.5 5,7.8 3.2,8 1,4 0.6,6 -0.9,8 -1.2,4 -1.8,4 -4.5,6 -5.4,4.4 -8,3.7z" fill="#ffb23e"/><path d="M1624.7,793.8l-10,0.6 -8,-1.2 -8,-3.2 -6,-4.4 -4.7,-5.8 -2,-4 -1.4,-4 -0.9,-8 1.1,-8 3,-8 5.3,-8 5.9,-6 8.3,-6 8.1,-4 9.3,-2.8 10,-0.8 8,1.2 6,2.1 4.2,2.3 4.8,4 3.3,4 3,6 1.5,6 0.2,6 -0.8,6 -1.9,6 -3,6 -4.2,6 -5.1,5.3 -6,4.7 -6,3.4 -6,2.5 -8,2.1zM1796.7,912.2l-6,0.7 -6,-1 -6,-2.9 -6,-5.2 -4.5,-6 -3.9,-8 -2.4,-8 -1.4,-10 0.2,-10 1.1,-8 3,-10 3.9,-7.8 4.6,-6.2 5.4,-4.9 6,-3.3 6,-1.4 6,0.4 6,2.1 6,4 5.1,5.1 4.1,6 3.7,8 2.2,8 0.9,8 0,8 -1.1,8 -2.1,8 -3.5,8 -3.8,6 -5.5,5.9 -6,4.2 -6,2.3zM1640.7,1006l-6,1.1 -8,-0.1 -8,-1.4 -8,-2.7 -8,-4.2 -6,-4.4 -4.8,-4.5 -4.9,-6 -3.6,-6 -2.3,-6 -1,-6 0.1,-6 1.4,-6 2.8,-6 3,-4 4.5,-4 6.8,-3.8 8,-2.2 8,-0.4 8,1 10,3.2 7.6,4.2 7.5,6 5.4,6 4.8,8 2.9,8 0.9,8 -1,8 -2.3,6 -4.2,6 -5.6,4.6 -4,2.1 -4,1.5z" fill="#ffb944"/><path d="M1622.7,791.8l-8,0.3 -8,-1.5 -4,-1.5 -4,-2.2 -5.9,-5.1 -3.9,-6 -2,-6 -0.6,-8 1.5,-8 3.6,-8 4.4,-6 6.9,-6.6 8,-5.2 8,-3.4 8,-1.9 8,-0.3 8,1.4 5,2 5,3.1 4,3.8 3.5,5.1 1.6,4 1.3,6 -0.1,6 -1.2,6 -2.3,6 -3.5,6 -5.1,6 -4.2,3.8 -6,4.1 -6,2.9 -6,2.1 -6,1.1zM1792.7,909.8l-6,-0.5 -6,-2.5 -4.2,-3 -5.3,-6 -3.5,-6 -3,-8 -1.6,-8 -0.6,-8 0.8,-10 1.8,-8 3.2,-8 3.5,-6 4.9,-5.7 4,-3.2 6,-2.9 6,-0.9 6,0.9 6,2.9 4,3 5.2,5.9 3.6,6 3.1,8 1.6,8 0.5,8 -0.6,8 -1.6,8 -3,8 -3.4,6 -4.9,6 -4.5,3.7 -6,3.1 -6,1.2zM1638.7,1004.1l-6,1.1 -6,0 -8,-1.4 -6.2,-2 -7.8,-3.9 -5.9,-4.1 -4.4,-4 -5.1,-6 -2.6,-4.1 -2.6,-5.9 -1.3,-6 -0.1,-6 1,-6 2.7,-6 2.9,-4 4.3,-4 7.1,-3.8 8,-2 8,-0.2 8,1.4 8,2.8 6.7,3.8 7.3,6 5.1,6 3.6,6 3,8 0.9,8 -1.2,8 -2.7,6 -4.7,5.8 -6,4.2 -6,2.3z" fill="#ffc14a"/><path d="M1618.7,789.8l-8,-0.7 -6,-1.9 -6,-3.4 -2.3,-2 -3.3,-4 -3,-6 -1.2,-6 0.1,-6 2,-8 4.3,-8 5.1,-6 6.3,-5.1 8,-4.5 8,-2.6 8,-1 8,0.7 6,1.8 4.9,2.7 4.6,4 2.9,4 1.9,4 1.2,4 0.4,6 -0.7,6 -2,6 -3.2,5.9 -3.1,4.1 -3.8,4 -5.1,4.1 -6,3.5 -6,2.4 -6,1.5 -6,0.5zM1796.7,906.2l-6,0.6 -4,-0.6 -6,-2.7 -4.5,-3.7 -4.6,-6 -3.1,-6 -2.5,-8 -1.2,-8 0,-8 1,-8 2.3,-8 2.8,-6 4,-6 5.8,-5.6 4.3,-2.4 5.7,-1.6 6,0.3 4,1.3 6,3.7 4,4 4,5.8 2.9,6.5 1.8,6 1.1,8 -0.1,8 -0.8,6 -2.1,8 -2.8,6.4 -3.6,5.6 -4.4,4.8 -4.4,3.2 -5.6,2.4zM1636.7,1002.2l-6,1 -6,-0.2 -6.5,-1.2 -7.5,-2.7 -6,-3.2 -5.5,-4.1 -4.5,-4.3 -4.4,-5.7 -2.2,-4 -2.1,-6 -0.9,-6 0.4,-6 1.8,-6 2.2,-4 3.2,-3.8 4,-3.2 6,-2.9 8,-1.8 6,0 8,1.3 8,3 6,3.5 6.9,5.9 4.9,6 3.3,6 2.5,8 0.3,8 -1.3,6 -3,6 -3.6,4.1 -5.6,3.9 -6.4,2.4z" fill="#ffc950"/><path d="M1628.7,786.1l-8,1.4 -8,-0.4 -6,-1.7 -6,-3.4 -4.3,-4.2 -3.5,-6 -1.4,-6 0,-6 2.1,-8 3.1,-6 4,-5.2 5.2,-4.8 6.8,-4.4 8,-3.1 8,-1.4 6,0.2 6,1.2 4,1.6 4,2.4 3.7,3.5 2.8,4 1.7,4 1,4 0.1,6 -1.1,6 -1.5,4 -2.7,4.9 -4,5.1 -4.2,4 -5.7,4 -4.1,2.1 -6,2.2zM1798.7,902.4l-4,1.1 -6,0 -6,-2.2 -4,-2.9 -4.2,-4.6 -3.4,-6 -2.4,-6.4 -1.5,-7.6 -0.4,-8 0.9,-8 2.1,-8 2.7,-6 4,-6 4.2,-4.1 4,-2.6 6,-1.8 6,0.2 4,1.4 4,2.4 4,3.7 3.6,4.8 2.9,6 1.9,6 1.1,6 0.3,6 -0.7,8 -1.3,6 -2.2,6 -3.3,6 -3.1,4 -4.5,4 -4.7,2.6zM1634.7,1000.3l-6,0.7 -6,-0.3 -4.6,-0.9 -5.8,-2 -5.6,-2.9 -6,-4.3 -4.9,-4.8 -3,-4 -2.2,-4 -2.1,-6 -0.9,-6 0.2,-4 1.5,-6 2.1,-4 3.2,-4 4.1,-3.2 6,-2.8 6,-1.3 6,-0.1 8,1.3 8,3.1 6,3.8 5.8,5.2 4.6,6 3,6 1.7,6 0.4,6 -0.5,4 -1,3.5 -2.3,4.5 -3.7,4.4 -6,4 -6,2.1z" fill="#ffd056"/><path d="M1628.7,783.8l-8,1.4 -6,-0.2 -6,-1.5 -6,-3.2 -4,-3.9 -2.9,-4.6 -1.7,-6 -0.1,-6 1.3,-6 2.8,-6 4.5,-6 4.2,-4 5.9,-3.9 6,-2.7 6,-1.5 8,-0.5 6,1 4,1.5 4,2.4 4,3.7 2.6,4 1.5,4 0.7,4 0,4 -0.8,4.7 -1.9,5.3 -2.2,4 -3,4 -4.1,4 -4.8,3.6 -4.5,2.4 -5.5,2zM1796.7,900l-6,0.6 -4,-0.8 -4.1,-2 -4.7,-4 -3.2,-4.3 -2.8,-5.7 -1.8,-6 -1.1,-8 0.3,-8 1,-6 1.9,-6 3,-6 3.5,-4.6 4,-3.5 4,-2.2 6,-1.3 4,0.4 4,1.5 4,2.6 4,4.2 3.1,4.9 1.8,4 1.7,6 0.9,6 0.1,6 -0.7,6 -1.4,6 -2.4,6 -3.1,5.1 -4,4.4 -4,2.9 -4,1.8zM1634.7,997.8l-4,0.8 -6,0.1 -6,-0.9 -4,-1.2 -6,-2.8 -4,-2.5 -4.2,-3.5 -3.8,-4.3 -2.5,-3.7 -2.7,-6 -1.2,-6 -0.1,-4 0.6,-4 1.9,-5 2,-3.1 4,-4 4,-2.4 6,-2 6,-0.7 8,0.9 6,1.9 6,3.1 6,4.6 4.3,4.7 3.7,6 2.2,6 0.8,6 -0.7,6 -2.3,5.7 -3.3,4.3 -4.7,3.5 -6,2.5z" fill="#ffd85c"/><path d="M1626.7,782l-6,0.9 -6,-0.4 -6,-1.8 -4.8,-2.9 -3.8,-4 -2.2,-4 -1.4,-6 0.3,-6 1.9,-6 3.5,-6 3.5,-4 5,-4.1 6,-3.3 6,-2 6,-0.9 6,0.4 4,1 4,1.7 4,2.9 2.1,2.3 2.4,4 1.3,4 0.5,4 -0.3,4 -0.9,4 -1.6,4 -2.4,4 -3.3,4 -3.8,3.5 -4,2.7 -4,2 -6,2zM1798.7,895.9l-4,1.3 -4,0.2 -4,-0.9 -4.7,-2.7 -3.3,-3.2 -3.2,-4.8 -2.5,-6 -1.3,-6 -0.5,-6 0.3,-6 1.2,-6 2.1,-6 3.5,-6 3.7,-4 4.7,-3 4,-1.2 4,-0.1 4,1 4,2.2 3.3,3.1 2.7,3.6 2.3,4.4 1.7,5 1,5 0.4,6 -0.4,6 -1,4.8 -1.7,5.2 -2.3,4.5 -2.4,3.5 -3.6,3.6 -4,2.5zM1630.7,996.2l-4,0.3 -6,-0.5 -8,-2.5 -4,-2.1 -5,-3.6 -3.9,-4 -2.9,-4 -2.2,-4.4 -1.6,-5.6 -0.4,-4 0.4,-4 1.2,-4 2.2,-4 2.2,-2.5 4,-3 4,-1.9 6,-1.3 6,0 6,1.2 6,2.4 6,3.8 4,3.7 4.3,5.6 2.8,6 1.2,6 -0.3,6 -1.2,4 -2.8,4.7 -4,3.7 -4,2.3 -6,1.7z" fill="#ffe062"/><path d="M1624.7,780l-6,0.4 -4,-0.5 -4,-1.2 -4.9,-2.9 -3.7,-4 -1.9,-4 -0.9,-4 0.2,-6 1.2,-4.4 3,-5.6 3.2,-4 5.8,-4.7 4,-2.2 6,-2.1 6,-0.9 6,0.5 6,2.2 4,2.9 2.1,2.3 2.2,4 1.1,4 0.2,4 -0.6,4 -1.3,4 -2.1,4 -5.6,6.5 -4,3 -4,2.2 -8,2.5zM1794.7,893.9l-4,0.1 -4,-1 -4,-2.5 -2.6,-2.7 -2.7,-4 -2.4,-6 -0.9,-4 -0.6,-6 0.4,-6 0.8,-4.4 1.9,-5.6 2.2,-4 3.2,-4 2.7,-2.3 4,-2.1 4,-0.7 4,0.5 2,0.8 4,2.6 3,3.2 2.5,4 1.7,4 1.1,4 0.7,6 -0.1,6 -0.7,4 -1.8,6 -1.9,4 -2.8,4 -3.7,3.4 -2,1.2 -4,1.5zM1628.7,993.9l-6,0 -4,-0.7 -8,-3.2 -4,-2.7 -3.8,-3.5 -4.4,-6 -1.8,-4 -1,-4 -0.3,-4 0.5,-4 1.5,-4 1.3,-2.2 2,-2.4 4,-3 4,-1.7 6,-1.1 6,0.4 6,1.6 4.9,2.4 5.1,3.7 4,4.2 2.7,4.1 1.8,4 1.2,6 -0.5,6 -1.5,4 -2.8,4 -2.9,2.5 -4,2.1 -6,1.5z" fill="#ffe668"/><path d="M1622.7,777.8l-6,-0.2 -4,-1.1 -4,-2.1 -2.9,-2.6 -2.5,-4 -1.2,-4 -0.1,-4 1.4,-6 2,-4 3,-4 4.3,-3.8 4,-2.5 4.1,-1.7 5.9,-1.2 6,0.2 4,1 3.8,2 2.2,1.8 3.1,4.2 1.6,6 -0.1,4 -0.9,4 -3.1,6 -2.6,3.1 -3.2,2.9 -6.8,4 -8,2zM1794.7,890.2l-4,0.2 -2,-0.4 -4,-2.1 -2.3,-2.1 -2.8,-4 -1.8,-4 -1.1,-4 -0.7,-6 0.4,-6 0.8,-4 1.5,-4 2,-3.8 2,-2.6 4,-3.3 2,-1 4,-0.8 4,0.6 2,0.8 4.8,4.1 2.6,4 1.6,4 1.5,8 -0.2,6 -0.7,4 -1.2,4 -2,4 -4.4,5.4 -2,1.4 -4,1.6zM1632.7,990.3l-4,1 -4,0.2 -4,-0.4 -4,-1 -4,-1.8 -4,-2.5 -6,-6 -3.2,-6 -1.1,-4 -0.2,-4 1.5,-6 2.6,-4 2.2,-2 4.2,-2.4 4,-1.1 4,-0.3 6,0.7 4,1.3 4,2 4,2.9 4,4.3 2.8,4.6 1.5,4 0.6,4 -0.2,4 -1.3,4 -2.6,4 -2.8,2.4 -4,2.1z" fill="#ffed6e"/><path d="M1626.7,774.4l-4,0.7 -4,-0.1 -4,-0.9 -4.3,-2.3 -2.1,-2 -2.4,-4 -0.9,-4 0.2,-4 1.2,-4 2.2,-4 2.1,-2.6 3.8,-3.4 4.2,-2.4 4,-1.4 4,-0.7 4,0 6,1.8 4,3 2,2.7 1.2,3 0.5,6 -1.9,6 -3.8,5.5 -5.7,4.5 -6.3,2.6zM1794.7,886.2l-4,0.2 -2,-0.6 -3.3,-2 -1.9,-2 -3.3,-6 -1.4,-8 0.9,-8 1.3,-4 1.7,-3.1 4,-4.3 2,-1.1 4,-1 2,0.1 3.5,1.4 2.5,1.9 1.7,2.1 2.9,6 1.1,6 -0.5,8 -2.1,6 -2.5,4 -2.1,2 -4.5,2.4zM1630.7,987.8l-6,1 -4,-0.4 -4,-1.1 -6.4,-3.5 -3.6,-3.3 -2,-2.5 -2.9,-6.2 -0.5,-6 1,-4 1,-2 3.4,-3.8 4,-2.2 4,-0.9 4,-0.1 4,0.6 4,1.5 4,2.2 3.3,2.7 2.7,3.1 1.8,2.9 1.5,4 0.6,4 -0.4,4 -1.5,3.7 -1.7,2.3 -2.3,2 -4,2z" fill="#fff374"/><path d="M1624.7,771.8l-6,0 -4,-1.3 -2,-1.3 -2,-2.1 -1.8,-3.3 -0.4,-2 0,-4 2.3,-6 3.4,-4 2.5,-2 6,-2.8 4,-0.7 4,0.3 4,1.3 2.7,1.9 1.8,2 1.6,4 -0.1,6 -2,4.6 -4,4.7 -4,2.7 -6,2zM1796.7,880.4l-4,1.4 -4,-1 -2,-1.4 -2,-2.5 -2.1,-5.1 -0.5,-6 1.1,-6 1.5,-3.3 2,-2.7 4,-2.4 4,-0.2 2,0.8 2,1.5 2,2.6 2.2,5.7 0.3,6 -0.7,4 -1.8,4.3 -2,2.7 -2,1.6zM1630.7,984.2l-6,1.5 -6,-0.8 -6,-2.9 -4,-3.7 -2.8,-4.5 -1.3,-6 0.7,-4 1.4,-2.7 2,-2.2 2,-1.4 4,-1.4 6,0 6,1.9 2.8,1.8 3.2,2.9 2.3,3.1 1.7,4 0.4,6 -0.6,2 -1.8,3.2 -4,3.2z" fill="#fff97a"/><path d="M1624.7,768.2l-4,0.1 -2,-0.5 -3.5,-2 -1.6,-2 -0.9,-2 -0.2,-4 0.5,-2 1.7,-3.2 4,-3.9 4,-2 4,-0.7 2,0.1 4,1.3 2.6,2.4 1.7,4 -0.3,4 -1.9,4 -2.1,2.4 -4,2.7 -4,1.3zM1794.7,874.5l-2,0.6 -2,-0.4 -1.3,-0.9 -1.5,-2 -1.3,-4 0.3,-4 1.8,-3.9 2,-1.7 2,-0.6 2,0.5 2,1.6 1.1,2.1 0.9,4 -0.1,2 -1.4,4 -2.5,2.7zM1624.7,981.9l-4,-0.1 -4,-1.4 -4,-2.9 -2.7,-3.7 -1.3,-4 0.4,-4 1.6,-2.9 2,-1.7 4,-1.5 4,0 2,0.5 3.6,1.6 2.4,1.8 3.2,4.2 0.9,2 0.4,4 -1.4,4 -3.1,2.8 -4,1.3z" fill="#ffff80"/></g><rect x="1932.4" y="650.8" width="32.6" height="412.6" fill="url(#gcbf)" stroke="#555" stroke-width="0.8"/><rect x="1931.2" y="1053.4" width="33.6" height="10.4" fill="#000"/><text x="1972.6" y="658.6" font-size="30">1</text><text x="1972.2" y="1064" font-size="30">0</text></g>

</svg>
</div>
</body></html>
